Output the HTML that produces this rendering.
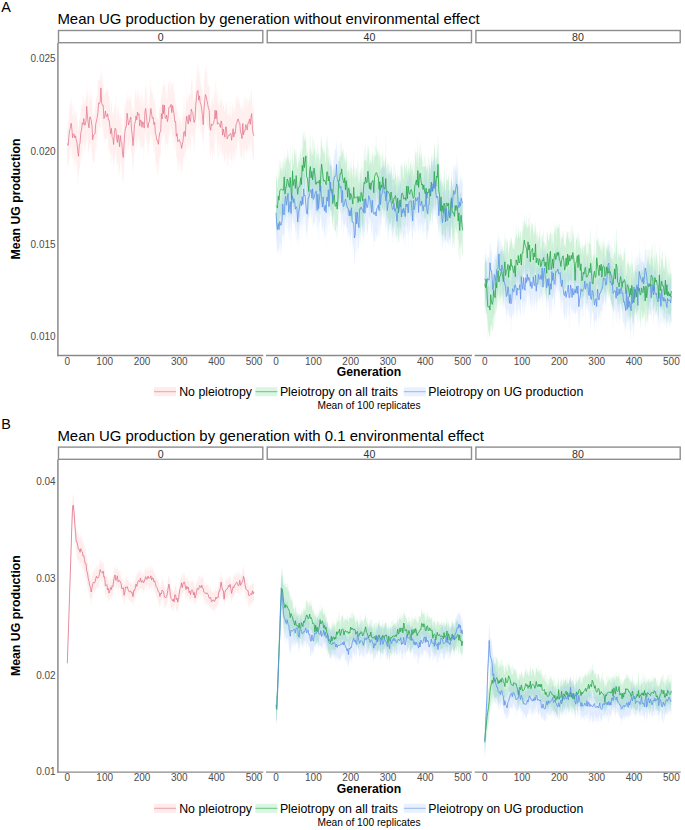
<!DOCTYPE html>
<html><head><meta charset="utf-8"><style>
html,body{margin:0;padding:0;background:#fff;}
body{width:685px;height:830px;overflow:hidden;}
svg{display:block;}
</style></head><body>
<svg width="685" height="830" viewBox="0 0 685 830">
<rect width="685" height="830" fill="#fff"/>
<path d="M67.3,119.3 L68.1,123.6 L68.8,115.4 L69.6,108.0 L70.3,99.1 L71.1,101.2 L71.8,106.2 L72.6,107.1 L73.3,99.4 L74.1,111.6 L74.8,110.8 L75.5,113.7 L76.3,114.2 L77.0,116.2 L77.8,129.6 L78.5,127.4 L79.3,118.7 L80.0,121.0 L80.8,109.2 L81.5,107.4 L82.3,96.1 L83.0,96.3 L83.8,95.3 L84.5,99.8 L85.2,101.8 L86.0,99.6 L86.7,75.1 L87.5,95.1 L88.2,91.6 L89.0,102.0 L89.7,93.4 L90.5,81.1 L91.2,98.3 L92.0,103.4 L92.7,117.0 L93.5,110.4 L94.2,110.1 L95.0,105.5 L95.7,100.8 L96.4,95.8 L97.2,95.1 L97.9,82.4 L98.7,79.6 L99.4,81.0 L100.2,79.6 L100.9,63.2 L101.7,77.9 L102.4,71.9 L103.2,80.3 L103.9,95.3 L104.7,93.7 L105.4,86.7 L106.2,90.0 L106.9,93.4 L107.6,87.8 L108.4,95.3 L109.1,96.8 L109.9,94.5 L110.6,108.4 L111.4,98.6 L112.1,107.9 L112.9,114.4 L113.6,112.0 L114.4,105.1 L115.1,105.5 L115.9,90.4 L116.6,113.8 L117.4,110.3 L118.1,104.1 L118.8,112.9 L119.6,116.3 L120.3,111.4 L121.1,117.9 L121.8,108.7 L122.6,121.5 L123.3,135.0 L124.1,120.5 L124.8,102.8 L125.6,100.6 L126.3,102.4 L127.1,88.8 L127.8,96.3 L128.5,96.4 L129.3,95.1 L130.0,98.0 L130.8,90.3 L131.5,103.7 L132.3,106.6 L133.0,121.3 L133.8,112.3 L134.5,100.4 L135.3,93.4 L136.0,82.8 L136.8,94.3 L137.5,90.0 L138.3,91.3 L139.0,80.4 L139.7,102.0 L140.5,94.1 L141.2,93.2 L142.0,89.9 L142.7,97.8 L143.5,95.2 L144.2,103.9 L145.0,85.5 L145.7,86.8 L146.5,89.3 L147.2,83.3 L148.0,105.2 L148.7,97.6 L149.5,94.9 L150.2,80.5 L150.9,78.8 L151.7,90.8 L152.4,94.7 L153.2,90.3 L153.9,99.2 L154.7,100.4 L155.4,105.7 L156.2,100.3 L156.9,117.7 L157.7,118.6 L158.4,121.3 L159.2,105.1 L159.9,110.4 L160.7,99.6 L161.4,85.3 L162.1,96.0 L162.9,81.7 L163.6,86.8 L164.4,76.2 L165.1,85.4 L165.9,90.6 L166.6,91.2 L167.4,95.5 L168.1,85.8 L168.9,78.7 L169.6,81.5 L170.4,81.9 L171.1,79.4 L171.8,83.8 L172.6,82.3 L173.3,80.2 L174.1,86.5 L174.8,94.2 L175.6,98.6 L176.3,109.8 L177.1,107.3 L177.8,118.3 L178.6,112.5 L179.3,117.6 L180.1,118.0 L180.8,115.3 L181.6,122.4 L182.3,120.1 L183.0,110.8 L183.8,94.6 L184.5,95.9 L185.3,114.4 L186.0,98.6 L186.8,83.8 L187.5,99.0 L188.3,95.6 L189.0,92.3 L189.8,96.0 L190.5,94.3 L191.3,76.0 L192.0,79.9 L192.8,86.3 L193.5,92.3 L194.2,99.9 L195.0,95.9 L195.7,79.6 L196.5,72.9 L197.2,66.2 L198.0,62.5 L198.7,76.2 L199.5,67.1 L200.2,73.0 L201.0,83.0 L201.7,82.5 L202.5,91.5 L203.2,101.6 L203.9,83.7 L204.7,68.5 L205.4,65.7 L206.2,72.0 L206.9,60.8 L207.7,76.1 L208.4,85.3 L209.2,83.8 L209.9,91.6 L210.7,107.1 L211.4,100.0 L212.2,95.6 L212.9,99.4 L213.7,96.1 L214.4,94.3 L215.1,75.1 L215.9,85.2 L216.6,85.2 L217.4,97.7 L218.1,87.0 L218.9,97.3 L219.6,102.3 L220.4,102.9 L221.1,94.6 L221.9,99.6 L222.6,101.8 L223.4,104.8 L224.1,106.9 L224.9,113.2 L225.6,101.3 L226.3,102.9 L227.1,101.3 L227.8,107.2 L228.6,111.9 L229.3,106.2 L230.1,98.3 L230.8,111.9 L231.6,106.1 L232.3,106.8 L233.1,98.7 L233.8,112.0 L234.6,110.6 L235.3,97.6 L236.1,100.0 L236.8,91.2 L237.5,95.9 L238.3,96.5 L239.0,98.9 L239.8,101.1 L240.5,106.6 L241.3,108.2 L242.0,105.2 L242.8,101.7 L243.5,100.2 L244.3,95.6 L245.0,100.0 L245.8,98.0 L246.5,100.2 L247.2,98.3 L248.0,100.8 L248.7,100.9 L249.5,95.3 L250.2,102.2 L251.0,92.5 L251.7,91.4 L252.5,100.5 L253.2,109.3 L254.0,98.3 L254.0,160.5 L253.2,157.8 L252.5,156.0 L251.7,141.9 L251.0,151.2 L250.2,148.6 L249.5,154.7 L248.7,147.5 L248.0,147.1 L247.2,154.1 L246.5,153.9 L245.8,149.4 L245.0,155.3 L244.3,159.8 L243.5,162.6 L242.8,145.6 L242.0,161.3 L241.3,157.4 L240.5,156.0 L239.8,152.2 L239.0,148.3 L238.3,141.1 L237.5,141.3 L236.8,152.3 L236.1,146.6 L235.3,162.0 L234.6,157.8 L233.8,158.9 L233.1,161.3 L232.3,162.7 L231.6,168.3 L230.8,157.9 L230.1,161.6 L229.3,158.8 L228.6,163.6 L227.8,166.1 L227.1,165.1 L226.3,164.3 L225.6,155.9 L224.9,159.3 L224.1,159.9 L223.4,153.8 L222.6,157.3 L221.9,150.3 L221.1,148.1 L220.4,153.8 L219.6,153.6 L218.9,158.6 L218.1,156.3 L217.4,158.7 L216.6,134.5 L215.9,146.0 L215.1,137.6 L214.4,157.0 L213.7,148.1 L212.9,154.5 L212.2,153.4 L211.4,147.3 L210.7,159.7 L209.9,152.2 L209.2,135.9 L208.4,129.5 L207.7,126.4 L206.9,125.1 L206.2,121.6 L205.4,116.3 L204.7,125.4 L203.9,136.3 L203.2,151.3 L202.5,140.1 L201.7,133.9 L201.0,134.7 L200.2,130.7 L199.5,120.0 L198.7,131.0 L198.0,112.6 L197.2,121.7 L196.5,126.2 L195.7,131.6 L195.0,149.0 L194.2,153.8 L193.5,149.1 L192.8,135.5 L192.0,138.1 L191.3,133.9 L190.5,150.5 L189.8,142.9 L189.0,137.3 L188.3,150.5 L187.5,149.3 L186.8,152.6 L186.0,147.0 L185.3,161.5 L184.5,153.3 L183.8,158.7 L183.0,164.4 L182.3,171.1 L181.6,171.3 L180.8,174.7 L180.1,164.0 L179.3,168.7 L178.6,171.4 L177.8,174.1 L177.1,155.9 L176.3,158.8 L175.6,148.4 L174.8,144.9 L174.1,150.3 L173.3,147.2 L172.6,135.1 L171.8,141.6 L171.1,127.2 L170.4,136.1 L169.6,132.8 L168.9,130.8 L168.1,146.5 L167.4,149.5 L166.6,136.9 L165.9,148.1 L165.1,140.1 L164.4,127.6 L163.6,137.4 L162.9,128.4 L162.1,143.5 L161.4,140.5 L160.7,156.3 L159.9,154.6 L159.2,164.2 L158.4,178.4 L157.7,163.2 L156.9,163.8 L156.2,162.6 L155.4,170.0 L154.7,150.0 L153.9,153.9 L153.2,144.7 L152.4,142.2 L151.7,145.4 L150.9,130.7 L150.2,135.7 L149.5,144.8 L148.7,156.8 L148.0,152.7 L147.2,154.3 L146.5,140.1 L145.7,130.7 L145.0,136.5 L144.2,155.1 L143.5,162.1 L142.7,144.4 L142.0,153.1 L141.2,149.0 L140.5,144.9 L139.7,155.9 L139.0,137.1 L138.3,146.8 L137.5,139.2 L136.8,149.7 L136.0,141.5 L135.3,148.1 L134.5,152.3 L133.8,158.2 L133.0,171.2 L132.3,162.9 L131.5,154.2 L130.8,151.1 L130.0,142.9 L129.3,144.8 L128.5,149.5 L127.8,150.4 L127.1,149.5 L126.3,151.9 L125.6,155.3 L124.8,161.7 L124.1,165.6 L123.3,182.3 L122.6,183.9 L121.8,169.6 L121.1,168.8 L120.3,160.5 L119.6,175.4 L118.8,178.5 L118.1,163.3 L117.4,164.2 L116.6,164.7 L115.9,155.2 L115.1,154.3 L114.4,155.5 L113.6,171.2 L112.9,159.8 L112.1,160.2 L111.4,161.9 L110.6,163.9 L109.9,149.0 L109.1,152.9 L108.4,151.0 L107.6,136.9 L106.9,140.2 L106.2,138.9 L105.4,142.8 L104.7,141.7 L103.9,143.0 L103.2,129.7 L102.4,135.5 L101.7,125.3 L100.9,113.9 L100.2,124.5 L99.4,127.7 L98.7,125.2 L97.9,138.9 L97.2,152.8 L96.4,147.4 L95.7,148.9 L95.0,164.0 L94.2,162.4 L93.5,161.9 L92.7,172.0 L92.0,149.0 L91.2,153.2 L90.5,141.0 L89.7,141.3 L89.0,154.0 L88.2,154.7 L87.5,141.4 L86.7,142.4 L86.0,149.3 L85.2,150.4 L84.5,151.5 L83.8,142.2 L83.0,151.4 L82.3,155.5 L81.5,161.7 L80.8,158.4 L80.0,169.5 L79.3,169.9 L78.5,182.6 L77.8,186.9 L77.0,175.0 L76.3,165.2 L75.5,157.9 L74.8,164.1 L74.1,166.6 L73.3,156.6 L72.6,161.2 L71.8,156.1 L71.1,146.3 L70.3,157.9 L69.6,156.9 L68.8,163.0 L68.1,168.7 L67.3,165.7Z" fill="#F8766D" fill-opacity="0.05"/>
<path d="M67.3,127.2 L68.1,129.1 L68.8,119.6 L69.6,101.6 L70.3,111.0 L71.1,91.7 L71.8,109.5 L72.6,116.7 L73.3,113.1 L74.1,116.6 L74.8,119.9 L75.5,109.7 L76.3,111.8 L77.0,119.5 L77.8,121.3 L78.5,133.5 L79.3,117.5 L80.0,119.9 L80.8,112.0 L81.5,104.7 L82.3,104.7 L83.0,106.3 L83.8,102.1 L84.5,105.3 L85.2,96.7 L86.0,103.9 L86.7,89.4 L87.5,94.3 L88.2,102.5 L89.0,110.2 L89.7,95.3 L90.5,100.9 L91.2,92.3 L92.0,96.2 L92.7,121.6 L93.5,112.8 L94.2,115.9 L95.0,112.4 L95.7,106.4 L96.4,95.6 L97.2,100.5 L97.9,79.4 L98.7,78.8 L99.4,79.8 L100.2,80.1 L100.9,69.1 L101.7,80.4 L102.4,83.4 L103.2,84.3 L103.9,96.4 L104.7,95.2 L105.4,92.3 L106.2,92.3 L106.9,89.9 L107.6,92.9 L108.4,88.3 L109.1,98.6 L109.9,106.3 L110.6,114.4 L111.4,99.3 L112.1,112.4 L112.9,113.5 L113.6,122.5 L114.4,109.2 L115.1,106.9 L115.9,107.0 L116.6,121.2 L117.4,115.2 L118.1,108.5 L118.8,106.1 L119.6,123.0 L120.3,117.8 L121.1,123.8 L121.8,125.4 L122.6,136.4 L123.3,139.9 L124.1,119.8 L124.8,102.2 L125.6,111.0 L126.3,106.0 L127.1,96.3 L127.8,101.1 L128.5,102.6 L129.3,101.7 L130.0,98.4 L130.8,98.6 L131.5,108.6 L132.3,105.5 L133.0,113.6 L133.8,109.8 L134.5,106.4 L135.3,88.5 L136.0,94.4 L136.8,102.4 L137.5,94.5 L138.3,95.3 L139.0,96.4 L139.7,106.3 L140.5,98.7 L141.2,102.0 L142.0,108.2 L142.7,97.3 L143.5,106.7 L144.2,105.9 L145.0,94.1 L145.7,85.2 L146.5,97.6 L147.2,104.7 L148.0,109.2 L148.7,106.6 L149.5,104.4 L150.2,95.8 L150.9,87.0 L151.7,91.0 L152.4,93.0 L153.2,101.1 L153.9,103.3 L154.7,102.9 L155.4,112.9 L156.2,118.5 L156.9,119.4 L157.7,116.5 L158.4,122.8 L159.2,104.2 L159.9,111.1 L160.7,101.4 L161.4,97.4 L162.1,95.5 L162.9,84.2 L163.6,88.5 L164.4,83.8 L165.1,89.2 L165.9,100.3 L166.6,99.1 L167.4,98.3 L168.1,84.9 L168.9,82.5 L169.6,89.6 L170.4,88.5 L171.1,84.0 L171.8,92.3 L172.6,82.2 L173.3,93.1 L174.1,91.9 L174.8,105.3 L175.6,104.9 L176.3,103.9 L177.1,111.6 L177.8,124.9 L178.6,123.5 L179.3,120.6 L180.1,118.8 L180.8,123.9 L181.6,126.6 L182.3,117.3 L183.0,118.4 L183.8,112.2 L184.5,115.2 L185.3,113.4 L186.0,103.2 L186.8,99.9 L187.5,101.9 L188.3,103.8 L189.0,96.9 L189.8,92.0 L190.5,97.6 L191.3,81.8 L192.0,80.2 L192.8,94.2 L193.5,101.7 L194.2,103.8 L195.0,97.4 L195.7,89.1 L196.5,80.9 L197.2,74.7 L198.0,61.2 L198.7,83.3 L199.5,73.9 L200.2,82.7 L201.0,87.2 L201.7,88.8 L202.5,93.3 L203.2,105.2 L203.9,87.8 L204.7,77.1 L205.4,70.6 L206.2,70.5 L206.9,83.1 L207.7,87.2 L208.4,85.9 L209.2,84.8 L209.9,110.1 L210.7,110.6 L211.4,105.6 L212.2,97.4 L212.9,102.2 L213.7,106.3 L214.4,97.2 L215.1,87.3 L215.9,102.2 L216.6,93.4 L217.4,102.3 L218.1,104.0 L218.9,105.6 L219.6,105.0 L220.4,99.3 L221.1,104.7 L221.9,97.1 L222.6,113.2 L223.4,102.8 L224.1,109.3 L224.9,112.0 L225.6,109.5 L226.3,100.2 L227.1,118.5 L227.8,112.5 L228.6,116.8 L229.3,114.9 L230.1,115.4 L230.8,115.6 L231.6,119.8 L232.3,110.4 L233.1,104.2 L233.8,112.8 L234.6,107.2 L235.3,112.6 L236.1,97.3 L236.8,106.5 L237.5,101.4 L238.3,100.2 L239.0,100.3 L239.8,104.7 L240.5,109.5 L241.3,108.0 L242.0,117.9 L242.8,105.9 L243.5,112.2 L244.3,107.6 L245.0,112.5 L245.8,91.3 L246.5,105.8 L247.2,110.8 L248.0,99.9 L248.7,105.5 L249.5,94.6 L250.2,105.0 L251.0,93.2 L251.7,83.4 L252.5,110.6 L253.2,108.8 L254.0,118.2 L254.0,163.7 L253.2,157.7 L252.5,154.3 L251.7,148.5 L251.0,138.2 L250.2,142.2 L249.5,145.4 L248.7,144.5 L248.0,151.3 L247.2,149.5 L246.5,154.0 L245.8,149.1 L245.0,148.3 L244.3,149.8 L243.5,155.9 L242.8,142.4 L242.0,157.4 L241.3,157.1 L240.5,154.3 L239.8,145.2 L239.0,139.9 L238.3,135.1 L237.5,141.5 L236.8,158.0 L236.1,147.2 L235.3,150.0 L234.6,150.7 L233.8,159.5 L233.1,148.8 L232.3,155.2 L231.6,161.6 L230.8,153.1 L230.1,153.4 L229.3,154.0 L228.6,158.6 L227.8,153.7 L227.1,158.8 L226.3,149.4 L225.6,152.4 L224.9,161.9 L224.1,163.1 L223.4,146.8 L222.6,156.2 L221.9,156.0 L221.1,137.5 L220.4,151.9 L219.6,142.8 L218.9,142.6 L218.1,143.6 L217.4,150.5 L216.6,127.4 L215.9,136.3 L215.1,127.4 L214.4,142.7 L213.7,149.4 L212.9,159.0 L212.2,161.1 L211.4,144.8 L210.7,156.8 L209.9,154.2 L209.2,136.6 L208.4,126.1 L207.7,126.3 L206.9,128.0 L206.2,117.5 L205.4,117.1 L204.7,123.0 L203.9,136.2 L203.2,143.9 L202.5,132.3 L201.7,132.0 L201.0,121.8 L200.2,128.5 L199.5,114.9 L198.7,128.3 L198.0,109.2 L197.2,111.4 L196.5,117.1 L195.7,123.4 L195.0,137.1 L194.2,144.1 L193.5,137.5 L192.8,133.5 L192.0,132.5 L191.3,128.5 L190.5,154.2 L189.8,147.0 L189.0,139.3 L188.3,148.0 L187.5,143.7 L186.8,133.7 L186.0,143.0 L185.3,163.9 L184.5,148.3 L183.8,157.2 L183.0,158.8 L182.3,169.4 L181.6,170.8 L180.8,161.6 L180.1,163.6 L179.3,164.1 L178.6,156.9 L177.8,166.8 L177.1,163.1 L176.3,153.1 L175.6,138.8 L174.8,144.7 L174.1,131.2 L173.3,137.4 L172.6,137.0 L171.8,129.9 L171.1,128.8 L170.4,123.1 L169.6,133.4 L168.9,134.7 L168.1,144.4 L167.4,144.1 L166.6,143.8 L165.9,139.5 L165.1,153.4 L164.4,138.8 L163.6,134.9 L162.9,125.1 L162.1,143.0 L161.4,130.7 L160.7,154.3 L159.9,156.9 L159.2,158.8 L158.4,168.2 L157.7,174.8 L156.9,171.8 L156.2,162.7 L155.4,155.0 L154.7,140.3 L153.9,155.5 L153.2,137.4 L152.4,137.3 L151.7,132.8 L150.9,136.8 L150.2,134.0 L149.5,141.6 L148.7,143.5 L148.0,147.7 L147.2,144.0 L146.5,139.1 L145.7,134.1 L145.0,129.5 L144.2,146.5 L143.5,148.3 L142.7,145.8 L142.0,145.6 L141.2,148.8 L140.5,138.2 L139.7,143.7 L139.0,136.3 L138.3,135.8 L137.5,138.5 L136.8,150.0 L136.0,134.7 L135.3,139.3 L134.5,152.0 L133.8,161.5 L133.0,174.7 L132.3,155.2 L131.5,154.2 L130.8,142.2 L130.0,140.9 L129.3,138.6 L128.5,150.0 L127.8,140.0 L127.1,131.9 L126.3,145.9 L125.6,149.2 L124.8,151.2 L124.1,161.3 L123.3,182.0 L122.6,179.7 L121.8,165.4 L121.1,161.2 L120.3,160.5 L119.6,167.8 L118.8,173.8 L118.1,157.0 L117.4,169.7 L116.6,155.6 L115.9,145.9 L115.1,156.8 L114.4,159.3 L113.6,170.4 L112.9,155.4 L112.1,154.6 L111.4,155.2 L110.6,151.4 L109.9,148.0 L109.1,154.0 L108.4,137.2 L107.6,134.2 L106.9,137.0 L106.2,139.9 L105.4,138.1 L104.7,138.7 L103.9,135.0 L103.2,127.0 L102.4,122.5 L101.7,125.7 L100.9,105.7 L100.2,130.1 L99.4,130.9 L98.7,119.1 L97.9,132.2 L97.2,134.5 L96.4,137.9 L95.7,141.7 L95.0,150.6 L94.2,157.4 L93.5,163.0 L92.7,159.8 L92.0,150.7 L91.2,142.4 L90.5,144.4 L89.7,143.2 L89.0,152.1 L88.2,149.0 L87.5,134.3 L86.7,132.9 L86.0,144.6 L85.2,144.0 L84.5,151.0 L83.8,138.6 L83.0,144.1 L82.3,142.6 L81.5,150.5 L80.8,150.8 L80.0,168.2 L79.3,166.8 L78.5,177.4 L77.8,168.5 L77.0,159.3 L76.3,165.7 L75.5,156.7 L74.8,173.5 L74.1,150.8 L73.3,152.4 L72.6,158.2 L71.8,149.5 L71.1,140.5 L70.3,151.0 L69.6,149.7 L68.8,159.2 L68.1,166.4 L67.3,162.6Z" fill="#F8766D" fill-opacity="0.065"/>
<path d="M276.0,166.5 L276.8,180.9 L277.5,180.0 L278.3,170.2 L279.0,164.8 L279.8,157.1 L280.5,162.8 L281.3,161.7 L282.0,166.2 L282.8,158.4 L283.5,163.5 L284.2,150.0 L285.0,166.4 L285.7,156.8 L286.5,161.1 L287.2,148.5 L288.0,149.3 L288.7,159.3 L289.5,164.2 L290.2,143.8 L291.0,165.8 L291.7,170.6 L292.5,142.2 L293.2,161.6 L293.9,151.7 L294.7,148.9 L295.4,159.6 L296.2,147.9 L296.9,153.5 L297.7,169.1 L298.4,162.1 L299.2,163.4 L299.9,157.1 L300.7,151.3 L301.4,160.3 L302.2,130.2 L302.9,136.3 L303.7,132.3 L304.4,131.7 L305.1,138.8 L305.9,129.9 L306.6,146.8 L307.4,152.7 L308.1,142.1 L308.9,166.7 L309.6,138.3 L310.4,133.1 L311.1,151.6 L311.9,145.9 L312.6,133.0 L313.4,142.6 L314.1,138.6 L314.9,145.5 L315.6,153.3 L316.3,147.8 L317.1,158.3 L317.8,152.4 L318.6,154.1 L319.3,154.4 L320.1,159.9 L320.8,149.6 L321.6,130.5 L322.3,142.8 L323.1,153.6 L323.8,151.9 L324.6,153.7 L325.3,155.4 L326.1,149.1 L326.8,140.2 L327.5,134.8 L328.3,145.9 L329.0,151.5 L329.8,155.3 L330.5,162.3 L331.3,157.9 L332.0,163.7 L332.8,179.5 L333.5,168.2 L334.3,166.6 L335.0,173.0 L335.8,175.6 L336.5,170.3 L337.2,183.2 L338.0,170.9 L338.7,154.1 L339.5,156.8 L340.2,143.8 L341.0,141.0 L341.7,145.1 L342.5,153.2 L343.2,148.7 L344.0,158.3 L344.7,154.5 L345.5,163.6 L346.2,154.5 L347.0,153.8 L347.7,173.9 L348.4,161.5 L349.2,164.1 L349.9,168.1 L350.7,160.9 L351.4,160.3 L352.2,174.4 L352.9,177.5 L353.7,147.3 L354.4,170.3 L355.2,167.9 L355.9,168.2 L356.7,167.3 L357.4,162.0 L358.2,158.6 L358.9,170.8 L359.6,172.2 L360.4,174.2 L361.1,155.0 L361.9,169.6 L362.6,168.1 L363.4,159.6 L364.1,148.4 L364.9,149.3 L365.6,142.3 L366.4,155.3 L367.1,157.7 L367.9,146.9 L368.6,148.3 L369.4,153.4 L370.1,154.7 L370.8,162.8 L371.6,156.8 L372.3,149.6 L373.1,153.6 L373.8,163.9 L374.6,144.3 L375.3,147.6 L376.1,132.3 L376.8,145.9 L377.6,152.7 L378.3,146.8 L379.1,158.8 L379.8,153.8 L380.5,154.5 L381.3,157.9 L382.0,155.2 L382.8,147.3 L383.5,158.8 L384.3,163.0 L385.0,159.5 L385.8,130.4 L386.5,167.6 L387.3,162.2 L388.0,161.6 L388.8,164.8 L389.5,162.7 L390.3,172.7 L391.0,160.3 L391.7,168.0 L392.5,178.7 L393.2,171.8 L394.0,163.7 L394.7,164.0 L395.5,169.0 L396.2,177.6 L397.0,177.4 L397.7,166.8 L398.5,187.2 L399.2,180.4 L400.0,165.4 L400.7,165.7 L401.5,161.8 L402.2,168.3 L402.9,162.4 L403.7,173.0 L404.4,161.0 L405.2,168.4 L405.9,171.5 L406.7,162.5 L407.4,171.8 L408.2,155.9 L408.9,161.3 L409.7,169.0 L410.4,164.1 L411.2,159.7 L411.9,164.5 L412.6,164.7 L413.4,160.1 L414.1,169.1 L414.9,146.5 L415.6,151.5 L416.4,152.2 L417.1,152.6 L417.9,137.0 L418.6,163.1 L419.4,148.5 L420.1,140.1 L420.9,147.2 L421.6,155.8 L422.4,160.1 L423.1,163.5 L423.8,157.1 L424.6,154.4 L425.3,157.9 L426.1,160.6 L426.8,171.9 L427.6,160.8 L428.3,156.3 L429.1,155.0 L429.8,164.6 L430.6,170.4 L431.3,150.2 L432.1,164.4 L432.8,152.7 L433.6,161.1 L434.3,143.9 L435.0,149.6 L435.8,159.8 L436.5,152.8 L437.3,149.6 L438.0,128.9 L438.8,159.0 L439.5,167.5 L440.3,186.5 L441.0,171.1 L441.8,183.6 L442.5,181.0 L443.3,188.2 L444.0,172.1 L444.8,166.2 L445.5,194.6 L446.2,172.7 L447.0,174.8 L447.7,181.0 L448.5,170.3 L449.2,184.1 L450.0,194.1 L450.7,180.3 L451.5,169.6 L452.2,185.4 L453.0,188.3 L453.7,181.6 L454.5,193.0 L455.2,167.5 L455.9,182.2 L456.7,173.3 L457.4,172.4 L458.2,186.1 L458.9,183.4 L459.7,191.4 L460.4,195.4 L461.2,190.2 L461.9,199.6 L462.7,202.5 L462.7,259.1 L461.9,247.5 L461.2,238.3 L460.4,260.6 L459.7,260.5 L458.9,256.1 L458.2,255.1 L457.4,232.9 L456.7,232.4 L455.9,234.3 L455.2,230.9 L454.5,250.3 L453.7,241.9 L453.0,248.5 L452.2,246.5 L451.5,227.9 L450.7,227.8 L450.0,248.3 L449.2,239.1 L448.5,231.1 L447.7,234.8 L447.0,226.8 L446.2,231.1 L445.5,253.7 L444.8,235.6 L444.0,234.0 L443.3,244.8 L442.5,232.4 L441.8,238.7 L441.0,222.0 L440.3,247.6 L439.5,225.7 L438.8,230.4 L438.0,191.1 L437.3,212.0 L436.5,201.2 L435.8,210.4 L435.0,210.7 L434.3,204.3 L433.6,216.3 L432.8,213.5 L432.1,231.3 L431.3,210.0 L430.6,221.3 L429.8,216.9 L429.1,212.2 L428.3,218.0 L427.6,227.7 L426.8,239.5 L426.1,225.8 L425.3,219.6 L424.6,217.5 L423.8,219.1 L423.1,214.4 L422.4,221.6 L421.6,217.4 L420.9,212.6 L420.1,199.9 L419.4,207.5 L418.6,214.4 L417.9,202.0 L417.1,218.5 L416.4,211.7 L415.6,213.9 L414.9,209.9 L414.1,220.8 L413.4,226.0 L412.6,222.8 L411.9,230.5 L411.2,212.6 L410.4,216.9 L409.7,219.6 L408.9,227.3 L408.2,210.1 L407.4,235.1 L406.7,209.1 L405.9,223.9 L405.2,226.4 L404.4,227.8 L403.7,226.5 L402.9,227.3 L402.2,222.9 L401.5,233.0 L400.7,233.6 L400.0,225.1 L399.2,234.8 L398.5,245.3 L397.7,222.9 L397.0,233.9 L396.2,234.9 L395.5,224.0 L394.7,227.5 L394.0,228.5 L393.2,237.4 L392.5,226.5 L391.7,222.3 L391.0,216.6 L390.3,224.8 L389.5,227.4 L388.8,232.8 L388.0,222.2 L387.3,218.5 L386.5,229.0 L385.8,205.6 L385.0,216.3 L384.3,218.1 L383.5,209.4 L382.8,207.6 L382.0,216.2 L381.3,215.5 L380.5,219.0 L379.8,205.3 L379.1,217.6 L378.3,206.0 L377.6,200.0 L376.8,208.0 L376.1,198.4 L375.3,206.9 L374.6,210.3 L373.8,217.0 L373.1,206.5 L372.3,212.8 L371.6,213.7 L370.8,214.9 L370.1,214.8 L369.4,218.1 L368.6,206.8 L367.9,197.0 L367.1,207.2 L366.4,212.6 L365.6,212.4 L364.9,218.2 L364.1,226.1 L363.4,234.5 L362.6,236.9 L361.9,223.3 L361.1,221.0 L360.4,246.2 L359.6,236.2 L358.9,224.3 L358.2,239.0 L357.4,225.7 L356.7,225.9 L355.9,224.7 L355.2,224.0 L354.4,222.6 L353.7,210.6 L352.9,227.8 L352.2,225.9 L351.4,219.5 L350.7,222.1 L349.9,227.4 L349.2,219.3 L348.4,213.7 L347.7,234.4 L347.0,215.9 L346.2,205.7 L345.5,214.4 L344.7,208.5 L344.0,212.6 L343.2,209.0 L342.5,215.5 L341.7,201.7 L341.0,215.0 L340.2,201.5 L339.5,212.1 L338.7,207.5 L338.0,222.4 L337.2,240.3 L336.5,236.8 L335.8,229.6 L335.0,230.3 L334.3,231.4 L333.5,227.1 L332.8,229.1 L332.0,216.6 L331.3,216.2 L330.5,215.2 L329.8,208.8 L329.0,207.0 L328.3,209.2 L327.5,197.9 L326.8,198.2 L326.1,213.7 L325.3,206.2 L324.6,214.3 L323.8,210.3 L323.1,211.3 L322.3,207.7 L321.6,187.1 L320.8,200.7 L320.1,222.7 L319.3,208.2 L318.6,215.0 L317.8,207.5 L317.1,205.1 L316.3,216.6 L315.6,217.7 L314.9,204.1 L314.1,194.5 L313.4,203.6 L312.6,208.8 L311.9,200.1 L311.1,214.0 L310.4,192.9 L309.6,201.7 L308.9,221.2 L308.1,213.9 L307.4,222.4 L306.6,204.9 L305.9,179.2 L305.1,192.7 L304.4,191.7 L303.7,185.9 L302.9,195.3 L302.2,193.2 L301.4,208.6 L300.7,208.9 L299.9,220.6 L299.2,231.1 L298.4,219.6 L297.7,229.9 L296.9,215.4 L296.2,204.5 L295.4,216.6 L294.7,210.5 L293.9,204.6 L293.2,214.8 L292.5,201.6 L291.7,230.6 L291.0,219.5 L290.2,206.2 L289.5,214.0 L288.7,217.9 L288.0,209.4 L287.2,214.7 L286.5,211.1 L285.7,213.2 L285.0,227.1 L284.2,214.0 L283.5,217.1 L282.8,221.9 L282.0,221.3 L281.3,220.5 L280.5,218.4 L279.8,220.1 L279.0,231.5 L278.3,224.6 L277.5,241.0 L276.8,231.0 L276.0,229.1Z" fill="#00BA38" fill-opacity="0.07"/>
<path d="M276.0,174.1 L276.8,180.1 L277.5,190.1 L278.3,177.4 L279.0,178.7 L279.8,172.6 L280.5,167.5 L281.3,168.4 L282.0,172.3 L282.8,168.0 L283.5,167.9 L284.2,158.8 L285.0,176.0 L285.7,162.1 L286.5,156.4 L287.2,160.9 L288.0,152.7 L288.7,160.1 L289.5,164.3 L290.2,156.4 L291.0,172.5 L291.7,180.7 L292.5,152.4 L293.2,163.9 L293.9,163.9 L294.7,146.0 L295.4,153.5 L296.2,158.1 L296.9,165.3 L297.7,169.0 L298.4,159.5 L299.2,153.1 L299.9,166.1 L300.7,144.2 L301.4,163.2 L302.2,147.7 L302.9,150.4 L303.7,135.2 L304.4,141.1 L305.1,141.6 L305.9,137.8 L306.6,158.5 L307.4,150.2 L308.1,160.9 L308.9,166.5 L309.6,148.7 L310.4,146.8 L311.1,155.9 L311.9,151.2 L312.6,155.3 L313.4,154.5 L314.1,147.7 L314.9,149.9 L315.6,167.0 L316.3,150.7 L317.1,164.0 L317.8,140.3 L318.6,158.0 L319.3,159.3 L320.1,170.3 L320.8,136.1 L321.6,145.9 L322.3,150.2 L323.1,145.7 L323.8,153.4 L324.6,147.9 L325.3,162.6 L326.1,161.9 L326.8,134.7 L327.5,153.8 L328.3,161.2 L329.0,153.8 L329.8,165.4 L330.5,164.2 L331.3,166.0 L332.0,166.6 L332.8,181.8 L333.5,172.5 L334.3,168.9 L335.0,188.1 L335.8,178.7 L336.5,174.0 L337.2,181.3 L338.0,176.1 L338.7,162.5 L339.5,160.1 L340.2,156.2 L341.0,156.7 L341.7,149.2 L342.5,154.8 L343.2,146.2 L344.0,164.2 L344.7,155.9 L345.5,162.5 L346.2,157.8 L347.0,165.3 L347.7,174.3 L348.4,169.1 L349.2,171.9 L349.9,180.3 L350.7,167.6 L351.4,167.9 L352.2,179.3 L352.9,167.3 L353.7,164.1 L354.4,180.0 L355.2,173.8 L355.9,178.7 L356.7,168.9 L357.4,172.2 L358.2,184.7 L358.9,176.6 L359.6,183.1 L360.4,176.6 L361.1,167.5 L361.9,175.3 L362.6,183.6 L363.4,171.8 L364.1,161.1 L364.9,159.4 L365.6,159.5 L366.4,161.8 L367.1,162.9 L367.9,142.9 L368.6,151.7 L369.4,165.5 L370.1,162.4 L370.8,160.0 L371.6,165.4 L372.3,157.0 L373.1,153.0 L373.8,167.8 L374.6,154.8 L375.3,156.2 L376.1,154.7 L376.8,148.1 L377.6,155.9 L378.3,151.7 L379.1,168.5 L379.8,148.9 L380.5,171.1 L381.3,166.2 L382.0,168.7 L382.8,154.2 L383.5,165.8 L384.3,171.1 L385.0,158.7 L385.8,156.7 L386.5,175.5 L387.3,172.1 L388.0,163.4 L388.8,175.2 L389.5,170.4 L390.3,175.3 L391.0,174.7 L391.7,165.9 L392.5,180.4 L393.2,179.1 L394.0,179.2 L394.7,179.2 L395.5,173.3 L396.2,176.6 L397.0,185.8 L397.7,177.2 L398.5,174.9 L399.2,191.0 L400.0,180.9 L400.7,184.4 L401.5,165.7 L402.2,166.5 L402.9,177.2 L403.7,179.6 L404.4,167.1 L405.2,160.5 L405.9,176.3 L406.7,160.6 L407.4,176.7 L408.2,166.2 L408.9,171.7 L409.7,177.1 L410.4,161.3 L411.2,167.5 L411.9,171.4 L412.6,168.6 L413.4,174.1 L414.1,176.0 L414.9,165.7 L415.6,152.1 L416.4,158.9 L417.1,167.5 L417.9,146.8 L418.6,167.6 L419.4,151.5 L420.1,155.4 L420.9,160.6 L421.6,151.7 L422.4,166.9 L423.1,167.3 L423.8,166.5 L424.6,167.1 L425.3,166.6 L426.1,165.5 L426.8,171.4 L427.6,166.3 L428.3,175.8 L429.1,164.0 L429.8,165.6 L430.6,177.4 L431.3,155.7 L432.1,169.3 L432.8,164.0 L433.6,168.3 L434.3,140.3 L435.0,165.5 L435.8,164.3 L436.5,157.9 L437.3,156.8 L438.0,139.8 L438.8,162.7 L439.5,172.2 L440.3,184.9 L441.0,171.6 L441.8,190.4 L442.5,179.1 L443.3,193.3 L444.0,174.0 L444.8,185.5 L445.5,201.1 L446.2,179.9 L447.0,179.8 L447.7,181.6 L448.5,174.6 L449.2,196.9 L450.0,200.5 L450.7,186.6 L451.5,177.5 L452.2,183.9 L453.0,192.6 L453.7,189.9 L454.5,189.3 L455.2,177.2 L455.9,190.8 L456.7,174.6 L457.4,184.6 L458.2,199.1 L458.9,195.7 L459.7,201.0 L460.4,191.3 L461.2,192.7 L461.9,202.3 L462.7,202.7 L462.7,255.1 L461.9,254.0 L461.2,240.7 L460.4,246.2 L459.7,250.2 L458.9,238.1 L458.2,241.3 L457.4,223.6 L456.7,231.9 L455.9,228.7 L455.2,226.3 L454.5,233.7 L453.7,245.3 L453.0,232.5 L452.2,241.5 L451.5,220.9 L450.7,228.9 L450.0,237.9 L449.2,238.9 L448.5,224.9 L447.7,225.4 L447.0,237.3 L446.2,223.8 L445.5,239.7 L444.8,241.4 L444.0,222.9 L443.3,232.8 L442.5,236.4 L441.8,235.2 L441.0,216.4 L440.3,228.6 L439.5,211.3 L438.8,216.2 L438.0,183.8 L437.3,199.3 L436.5,196.2 L435.8,206.3 L435.0,205.4 L434.3,191.4 L433.6,211.0 L432.8,205.6 L432.1,212.0 L431.3,213.7 L430.6,220.5 L429.8,225.5 L429.1,210.6 L428.3,216.3 L427.6,212.3 L426.8,218.4 L426.1,209.3 L425.3,219.1 L424.6,219.0 L423.8,208.3 L423.1,212.6 L422.4,203.8 L421.6,216.8 L420.9,208.5 L420.1,191.0 L419.4,198.0 L418.6,211.4 L417.9,191.0 L417.1,202.5 L416.4,207.7 L415.6,214.5 L414.9,206.4 L414.1,222.4 L413.4,218.5 L412.6,216.9 L411.9,209.0 L411.2,209.5 L410.4,218.5 L409.7,212.4 L408.9,211.8 L408.2,209.9 L407.4,218.4 L406.7,206.7 L405.9,219.9 L405.2,218.4 L404.4,216.7 L403.7,216.9 L402.9,211.7 L402.2,220.9 L401.5,214.3 L400.7,238.2 L400.0,224.4 L399.2,242.8 L398.5,241.4 L397.7,226.9 L397.0,229.1 L396.2,221.0 L395.5,212.9 L394.7,223.9 L394.0,216.6 L393.2,231.4 L392.5,238.0 L391.7,215.9 L391.0,221.2 L390.3,224.7 L389.5,223.8 L388.8,217.3 L388.0,221.7 L387.3,211.3 L386.5,219.0 L385.8,204.5 L385.0,211.7 L384.3,208.2 L383.5,222.1 L382.8,209.5 L382.0,208.0 L381.3,202.7 L380.5,214.7 L379.8,207.6 L379.1,218.1 L378.3,199.9 L377.6,198.6 L376.8,191.5 L376.1,192.6 L375.3,206.9 L374.6,196.4 L373.8,212.9 L373.1,197.7 L372.3,200.8 L371.6,207.3 L370.8,208.2 L370.1,205.2 L369.4,208.4 L368.6,208.1 L367.9,192.5 L367.1,200.4 L366.4,209.7 L365.6,207.1 L364.9,214.1 L364.1,207.5 L363.4,223.6 L362.6,227.4 L361.9,223.8 L361.1,212.0 L360.4,234.8 L359.6,225.3 L358.9,214.0 L358.2,221.0 L357.4,215.6 L356.7,218.9 L355.9,222.0 L355.2,223.0 L354.4,215.3 L353.7,212.9 L352.9,222.1 L352.2,220.5 L351.4,218.1 L350.7,215.9 L349.9,224.7 L349.2,207.3 L348.4,206.7 L347.7,214.9 L347.0,208.6 L346.2,207.7 L345.5,208.7 L344.7,197.9 L344.0,203.1 L343.2,214.8 L342.5,206.7 L341.7,192.5 L341.0,191.7 L340.2,193.7 L339.5,199.4 L338.7,198.4 L338.0,224.5 L337.2,228.6 L336.5,222.3 L335.8,231.6 L335.0,231.3 L334.3,215.2 L333.5,215.4 L332.8,223.8 L332.0,215.8 L331.3,208.3 L330.5,212.6 L329.8,200.5 L329.0,200.4 L328.3,217.2 L327.5,192.0 L326.8,189.9 L326.1,210.2 L325.3,205.3 L324.6,197.9 L323.8,207.0 L323.1,212.6 L322.3,190.5 L321.6,181.7 L320.8,201.2 L320.1,209.1 L319.3,197.5 L318.6,213.5 L317.8,213.9 L317.1,202.8 L316.3,203.2 L315.6,209.5 L314.9,197.6 L314.1,186.6 L313.4,199.0 L312.6,203.6 L311.9,196.3 L311.1,195.3 L310.4,184.9 L309.6,187.9 L308.9,216.5 L308.1,202.8 L307.4,195.8 L306.6,193.9 L305.9,173.9 L305.1,182.8 L304.4,192.6 L303.7,177.0 L302.9,189.7 L302.2,183.0 L301.4,201.9 L300.7,195.0 L299.9,217.3 L299.2,218.2 L298.4,208.7 L297.7,214.9 L296.9,208.4 L296.2,194.4 L295.4,212.7 L294.7,204.0 L293.9,210.7 L293.2,205.6 L292.5,194.2 L291.7,217.5 L291.0,209.6 L290.2,203.4 L289.5,210.5 L288.7,219.0 L288.0,200.9 L287.2,199.9 L286.5,205.5 L285.7,217.1 L285.0,216.6 L284.2,194.9 L283.5,215.5 L282.8,209.5 L282.0,217.4 L281.3,215.4 L280.5,215.0 L279.8,212.7 L279.0,226.1 L278.3,224.1 L277.5,230.0 L276.8,231.9 L276.0,223.3Z" fill="#00BA38" fill-opacity="0.13"/>
<path d="M276.0,178.2 L276.8,194.5 L277.5,203.0 L278.3,196.2 L279.0,201.0 L279.8,190.5 L280.5,203.1 L281.3,202.6 L282.0,192.7 L282.8,181.5 L283.5,187.5 L284.2,191.6 L285.0,170.4 L285.7,157.7 L286.5,181.5 L287.2,177.5 L288.0,169.6 L288.7,187.2 L289.5,180.3 L290.2,174.3 L291.0,191.5 L291.7,177.1 L292.5,166.4 L293.2,176.2 L293.9,175.7 L294.7,172.1 L295.4,177.5 L296.2,182.4 L296.9,177.4 L297.7,199.0 L298.4,180.4 L299.2,186.7 L299.9,180.5 L300.7,168.1 L301.4,179.6 L302.2,163.5 L302.9,180.3 L303.7,161.3 L304.4,168.5 L305.1,173.4 L305.9,181.7 L306.6,190.4 L307.4,187.1 L308.1,172.8 L308.9,172.3 L309.6,170.5 L310.4,164.0 L311.1,166.0 L311.9,169.0 L312.6,159.2 L313.4,161.0 L314.1,174.6 L314.9,153.2 L315.6,167.4 L316.3,160.4 L317.1,188.7 L317.8,162.2 L318.6,185.7 L319.3,173.5 L320.1,170.3 L320.8,161.4 L321.6,152.9 L322.3,184.9 L323.1,170.9 L323.8,178.9 L324.6,186.0 L325.3,180.5 L326.1,184.9 L326.8,174.3 L327.5,168.1 L328.3,163.8 L329.0,182.5 L329.8,166.6 L330.5,148.6 L331.3,166.7 L332.0,163.6 L332.8,178.5 L333.5,148.8 L334.3,155.7 L335.0,153.5 L335.8,145.7 L336.5,137.9 L337.2,149.6 L338.0,153.0 L338.7,140.6 L339.5,161.2 L340.2,153.4 L341.0,161.3 L341.7,174.3 L342.5,163.7 L343.2,183.5 L344.0,177.9 L344.7,164.6 L345.5,170.2 L346.2,171.7 L347.0,174.2 L347.7,177.6 L348.4,178.7 L349.2,192.7 L349.9,186.8 L350.7,191.6 L351.4,176.0 L352.2,194.5 L352.9,200.0 L353.7,197.6 L354.4,211.0 L355.2,209.0 L355.9,184.9 L356.7,194.8 L357.4,181.5 L358.2,193.8 L358.9,201.8 L359.6,182.2 L360.4,166.2 L361.1,178.7 L361.9,185.3 L362.6,187.1 L363.4,188.6 L364.1,166.3 L364.9,187.4 L365.6,171.7 L366.4,171.3 L367.1,181.1 L367.9,175.3 L368.6,162.5 L369.4,169.0 L370.1,162.1 L370.8,181.5 L371.6,183.6 L372.3,170.7 L373.1,176.8 L373.8,181.0 L374.6,179.9 L375.3,187.9 L376.1,182.5 L376.8,183.7 L377.6,173.7 L378.3,179.2 L379.1,181.4 L379.8,150.6 L380.5,169.2 L381.3,167.6 L382.0,170.8 L382.8,163.5 L383.5,159.4 L384.3,164.6 L385.0,168.6 L385.8,159.1 L386.5,168.9 L387.3,188.5 L388.0,162.4 L388.8,174.8 L389.5,174.5 L390.3,175.0 L391.0,169.4 L391.7,179.2 L392.5,172.9 L393.2,176.1 L394.0,176.8 L394.7,180.3 L395.5,186.5 L396.2,184.2 L397.0,195.8 L397.7,188.9 L398.5,179.4 L399.2,174.5 L400.0,180.9 L400.7,173.7 L401.5,188.8 L402.2,178.8 L402.9,182.4 L403.7,179.2 L404.4,180.1 L405.2,193.0 L405.9,175.5 L406.7,171.1 L407.4,176.9 L408.2,185.2 L408.9,173.5 L409.7,174.7 L410.4,174.1 L411.2,166.9 L411.9,178.1 L412.6,180.9 L413.4,176.3 L414.1,186.5 L414.9,176.2 L415.6,175.8 L416.4,178.8 L417.1,169.9 L417.9,167.8 L418.6,182.3 L419.4,166.6 L420.1,172.4 L420.9,175.0 L421.6,171.2 L422.4,177.7 L423.1,176.8 L423.8,180.4 L424.6,174.9 L425.3,178.2 L426.1,169.3 L426.8,184.4 L427.6,173.7 L428.3,181.4 L429.1,179.7 L429.8,158.2 L430.6,166.6 L431.3,157.4 L432.1,154.1 L432.8,169.4 L433.6,156.4 L434.3,148.7 L435.0,146.7 L435.8,165.4 L436.5,168.2 L437.3,158.8 L438.0,163.6 L438.8,189.6 L439.5,175.1 L440.3,177.9 L441.0,173.7 L441.8,192.3 L442.5,192.5 L443.3,170.6 L444.0,185.1 L444.8,181.2 L445.5,195.4 L446.2,185.2 L447.0,188.3 L447.7,184.3 L448.5,180.6 L449.2,186.1 L450.0,182.1 L450.7,190.8 L451.5,172.0 L452.2,182.6 L453.0,166.2 L453.7,165.6 L454.5,170.9 L455.2,168.2 L455.9,162.2 L456.7,152.2 L457.4,164.1 L458.2,160.3 L458.9,181.0 L459.7,180.1 L460.4,176.8 L461.2,174.2 L461.9,177.8 L462.7,176.3 L462.7,226.6 L461.9,225.1 L461.2,223.6 L460.4,235.2 L459.7,232.0 L458.9,229.5 L458.2,229.3 L457.4,219.2 L456.7,212.8 L455.9,212.4 L455.2,218.2 L454.5,218.4 L453.7,224.8 L453.0,231.6 L452.2,230.7 L451.5,220.3 L450.7,240.9 L450.0,241.6 L449.2,236.4 L448.5,244.0 L447.7,241.3 L447.0,245.1 L446.2,234.5 L445.5,242.8 L444.8,234.2 L444.0,230.0 L443.3,247.4 L442.5,245.6 L441.8,246.7 L441.0,229.8 L440.3,234.3 L439.5,230.1 L438.8,245.9 L438.0,226.7 L437.3,219.2 L436.5,224.7 L435.8,215.9 L435.0,210.6 L434.3,218.6 L433.6,205.5 L432.8,223.9 L432.1,213.5 L431.3,211.3 L430.6,225.0 L429.8,216.8 L429.1,227.6 L428.3,235.6 L427.6,239.1 L426.8,241.1 L426.1,231.7 L425.3,230.5 L424.6,234.4 L423.8,231.1 L423.1,237.9 L422.4,230.0 L421.6,225.6 L420.9,234.2 L420.1,232.8 L419.4,218.6 L418.6,240.4 L417.9,230.1 L417.1,222.3 L416.4,231.0 L415.6,232.2 L414.9,231.8 L414.1,232.1 L413.4,222.1 L412.6,252.4 L411.9,234.2 L411.2,226.0 L410.4,231.0 L409.7,230.9 L408.9,233.2 L408.2,250.6 L407.4,232.9 L406.7,234.3 L405.9,231.5 L405.2,257.7 L404.4,233.9 L403.7,235.6 L402.9,246.4 L402.2,231.4 L401.5,241.2 L400.7,227.1 L400.0,227.9 L399.2,224.3 L398.5,237.2 L397.7,235.3 L397.0,249.4 L396.2,240.4 L395.5,230.3 L394.7,235.9 L394.0,242.4 L393.2,231.0 L392.5,247.9 L391.7,235.8 L391.0,227.9 L390.3,224.7 L389.5,222.0 L388.8,240.9 L388.0,240.5 L387.3,238.9 L386.5,224.1 L385.8,230.0 L385.0,225.6 L384.3,223.7 L383.5,206.6 L382.8,217.5 L382.0,217.6 L381.3,220.1 L380.5,236.8 L379.8,222.5 L379.1,237.5 L378.3,233.5 L377.6,236.0 L376.8,237.2 L376.1,241.2 L375.3,242.5 L374.6,238.9 L373.8,250.1 L373.1,241.3 L372.3,232.1 L371.6,237.9 L370.8,230.6 L370.1,226.4 L369.4,221.4 L368.6,225.2 L367.9,236.0 L367.1,233.1 L366.4,235.0 L365.6,221.7 L364.9,236.6 L364.1,241.1 L363.4,242.3 L362.6,233.9 L361.9,243.9 L361.1,230.9 L360.4,236.1 L359.6,237.2 L358.9,251.0 L358.2,252.3 L357.4,246.8 L356.7,254.9 L355.9,248.5 L355.2,257.5 L354.4,265.1 L353.7,248.5 L352.9,246.8 L352.2,253.7 L351.4,229.9 L350.7,252.1 L349.9,236.0 L349.2,245.2 L348.4,232.1 L347.7,242.8 L347.0,232.0 L346.2,226.3 L345.5,223.3 L344.7,225.8 L344.0,231.1 L343.2,238.0 L342.5,218.1 L341.7,235.5 L341.0,215.7 L340.2,210.9 L339.5,210.1 L338.7,208.9 L338.0,204.3 L337.2,205.9 L336.5,197.5 L335.8,201.4 L335.0,197.7 L334.3,202.4 L333.5,214.2 L332.8,226.0 L332.0,222.7 L331.3,223.8 L330.5,205.4 L329.8,213.7 L329.0,237.2 L328.3,222.3 L327.5,236.0 L326.8,226.8 L326.1,248.5 L325.3,234.9 L324.6,239.7 L323.8,232.3 L323.1,223.3 L322.3,230.0 L321.6,226.1 L320.8,208.0 L320.1,219.8 L319.3,231.2 L318.6,247.0 L317.8,225.2 L317.1,232.3 L316.3,226.4 L315.6,213.7 L314.9,218.9 L314.1,226.6 L313.4,222.7 L312.6,227.4 L311.9,220.9 L311.1,215.4 L310.4,217.8 L309.6,216.8 L308.9,225.3 L308.1,227.9 L307.4,242.2 L306.6,236.3 L305.9,236.6 L305.1,223.0 L304.4,227.3 L303.7,211.0 L302.9,230.4 L302.2,219.5 L301.4,242.3 L300.7,225.2 L299.9,233.5 L299.2,244.8 L298.4,239.0 L297.7,247.9 L296.9,238.9 L296.2,240.9 L295.4,235.0 L294.7,228.5 L293.9,220.6 L293.2,225.4 L292.5,218.1 L291.7,233.6 L291.0,251.5 L290.2,225.7 L289.5,240.2 L288.7,237.4 L288.0,228.3 L287.2,232.3 L286.5,228.1 L285.7,222.4 L285.0,230.3 L284.2,246.3 L283.5,238.8 L282.8,228.7 L282.0,248.4 L281.3,251.6 L280.5,260.3 L279.8,247.3 L279.0,255.7 L278.3,250.9 L277.5,256.0 L276.8,249.9 L276.0,239.6Z" fill="#619CFF" fill-opacity="0.055"/>
<path d="M276.0,196.7 L276.8,207.5 L277.5,208.5 L278.3,205.7 L279.0,211.3 L279.8,202.9 L280.5,204.9 L281.3,200.7 L282.0,201.2 L282.8,184.9 L283.5,196.4 L284.2,195.7 L285.0,166.1 L285.7,174.2 L286.5,187.5 L287.2,182.3 L288.0,168.1 L288.7,195.3 L289.5,177.0 L290.2,178.1 L291.0,192.4 L291.7,179.0 L292.5,178.9 L293.2,179.1 L293.9,181.3 L294.7,182.4 L295.4,192.4 L296.2,183.4 L296.9,189.9 L297.7,200.7 L298.4,181.5 L299.2,183.8 L299.9,169.8 L300.7,174.2 L301.4,187.3 L302.2,173.8 L302.9,186.3 L303.7,164.9 L304.4,174.0 L305.1,174.8 L305.9,181.3 L306.6,186.0 L307.4,181.8 L308.1,179.8 L308.9,176.3 L309.6,166.0 L310.4,170.9 L311.1,172.0 L311.9,173.8 L312.6,160.7 L313.4,175.0 L314.1,165.8 L314.9,173.1 L315.6,171.4 L316.3,175.0 L317.1,185.1 L317.8,173.8 L318.6,189.5 L319.3,178.2 L320.1,156.2 L320.8,164.1 L321.6,180.3 L322.3,178.6 L323.1,170.0 L323.8,179.3 L324.6,191.7 L325.3,184.2 L326.1,191.1 L326.8,178.5 L327.5,171.2 L328.3,161.5 L329.0,184.4 L329.8,171.4 L330.5,161.1 L331.3,170.4 L332.0,166.5 L332.8,181.6 L333.5,160.3 L334.3,160.0 L335.0,147.5 L335.8,150.5 L336.5,141.9 L337.2,161.0 L338.0,159.2 L338.7,161.8 L339.5,162.6 L340.2,164.9 L341.0,167.3 L341.7,178.9 L342.5,173.2 L343.2,178.6 L344.0,176.1 L344.7,184.3 L345.5,172.1 L346.2,182.8 L347.0,185.0 L347.7,177.4 L348.4,190.2 L349.2,188.6 L349.9,182.6 L350.7,192.9 L351.4,189.7 L352.2,205.2 L352.9,205.7 L353.7,204.2 L354.4,208.7 L355.2,203.9 L355.9,195.8 L356.7,202.3 L357.4,186.8 L358.2,203.3 L358.9,207.9 L359.6,189.7 L360.4,188.1 L361.1,182.9 L361.9,189.9 L362.6,193.0 L363.4,185.1 L364.1,180.5 L364.9,190.5 L365.6,178.2 L366.4,179.3 L367.1,175.1 L367.9,173.3 L368.6,168.6 L369.4,177.8 L370.1,184.1 L370.8,186.9 L371.6,195.7 L372.3,178.4 L373.1,192.2 L373.8,188.0 L374.6,188.1 L375.3,178.9 L376.1,181.2 L376.8,190.9 L377.6,180.2 L378.3,185.0 L379.1,187.8 L379.8,173.0 L380.5,181.7 L381.3,169.1 L382.0,171.1 L382.8,167.2 L383.5,165.4 L384.3,168.0 L385.0,165.3 L385.8,182.3 L386.5,164.3 L387.3,191.2 L388.0,174.4 L388.8,180.9 L389.5,182.1 L390.3,165.9 L391.0,176.5 L391.7,182.4 L392.5,188.9 L393.2,192.8 L394.0,186.4 L394.7,183.2 L395.5,185.1 L396.2,193.2 L397.0,192.6 L397.7,193.7 L398.5,188.2 L399.2,181.8 L400.0,178.7 L400.7,183.8 L401.5,192.7 L402.2,192.0 L402.9,192.1 L403.7,188.0 L404.4,191.5 L405.2,188.1 L405.9,180.2 L406.7,189.2 L407.4,180.1 L408.2,180.9 L408.9,173.2 L409.7,168.7 L410.4,177.9 L411.2,176.4 L411.9,190.3 L412.6,204.7 L413.4,183.3 L414.1,187.6 L414.9,187.4 L415.6,178.4 L416.4,183.8 L417.1,166.4 L417.9,178.3 L418.6,185.6 L419.4,173.2 L420.1,188.2 L420.9,184.6 L421.6,181.2 L422.4,181.1 L423.1,192.9 L423.8,181.4 L424.6,165.0 L425.3,185.7 L426.1,159.7 L426.8,179.2 L427.6,191.4 L428.3,183.8 L429.1,173.4 L429.8,165.9 L430.6,173.1 L431.3,163.1 L432.1,161.9 L432.8,162.1 L433.6,157.9 L434.3,161.1 L435.0,155.8 L435.8,169.9 L436.5,171.0 L437.3,171.0 L438.0,175.5 L438.8,198.2 L439.5,181.9 L440.3,179.6 L441.0,182.7 L441.8,190.6 L442.5,202.6 L443.3,197.8 L444.0,184.9 L444.8,192.1 L445.5,189.1 L446.2,187.9 L447.0,204.7 L447.7,192.9 L448.5,189.6 L449.2,191.6 L450.0,188.3 L450.7,196.6 L451.5,177.9 L452.2,190.2 L453.0,180.6 L453.7,164.6 L454.5,171.5 L455.2,165.4 L455.9,171.6 L456.7,167.4 L457.4,165.6 L458.2,185.8 L458.9,186.4 L459.7,182.3 L460.4,175.6 L461.2,181.8 L461.9,180.4 L462.7,183.7 L462.7,221.6 L461.9,230.7 L461.2,214.6 L460.4,229.3 L459.7,220.9 L458.9,224.0 L458.2,225.1 L457.4,210.7 L456.7,207.1 L455.9,222.0 L455.2,210.5 L454.5,213.7 L453.7,218.2 L453.0,227.7 L452.2,224.6 L451.5,216.1 L450.7,249.9 L450.0,232.6 L449.2,237.6 L448.5,245.2 L447.7,242.6 L447.0,241.6 L446.2,238.8 L445.5,236.9 L444.8,243.3 L444.0,236.8 L443.3,233.3 L442.5,253.1 L441.8,234.5 L441.0,223.0 L440.3,224.9 L439.5,223.8 L438.8,236.9 L438.0,224.6 L437.3,224.2 L436.5,214.0 L435.8,220.0 L435.0,203.2 L434.3,219.8 L433.6,200.5 L432.8,226.2 L432.1,208.1 L431.3,205.6 L430.6,212.4 L429.8,205.1 L429.1,231.1 L428.3,229.4 L427.6,232.2 L426.8,241.0 L426.1,213.8 L425.3,222.6 L424.6,223.0 L423.8,223.0 L423.1,234.7 L422.4,223.7 L421.6,223.2 L420.9,224.3 L420.1,231.3 L419.4,219.9 L418.6,232.6 L417.9,226.0 L417.1,221.1 L416.4,218.1 L415.6,213.8 L414.9,224.1 L414.1,231.4 L413.4,226.3 L412.6,237.7 L411.9,239.3 L411.2,222.3 L410.4,222.3 L409.7,236.6 L408.9,219.3 L408.2,238.1 L407.4,228.3 L406.7,226.1 L405.9,224.9 L405.2,239.3 L404.4,234.3 L403.7,241.5 L402.9,238.1 L402.2,225.5 L401.5,237.4 L400.7,225.7 L400.0,236.7 L399.2,220.5 L398.5,226.5 L397.7,238.1 L397.0,237.9 L396.2,233.7 L395.5,239.7 L394.7,229.4 L394.0,222.8 L393.2,228.4 L392.5,227.3 L391.7,229.7 L391.0,231.7 L390.3,226.3 L389.5,220.8 L388.8,234.4 L388.0,228.9 L387.3,227.6 L386.5,219.2 L385.8,230.6 L385.0,210.7 L384.3,211.7 L383.5,202.1 L382.8,208.6 L382.0,211.6 L381.3,225.5 L380.5,226.5 L379.8,212.9 L379.1,238.4 L378.3,221.1 L377.6,231.1 L376.8,237.7 L376.1,232.9 L375.3,231.7 L374.6,241.7 L373.8,239.9 L373.1,229.0 L372.3,221.3 L371.6,233.3 L370.8,222.3 L370.1,217.4 L369.4,219.3 L368.6,215.4 L367.9,230.8 L367.1,232.5 L366.4,222.3 L365.6,218.2 L364.9,232.4 L364.1,230.9 L363.4,230.2 L362.6,229.3 L361.9,225.2 L361.1,233.1 L360.4,226.1 L359.6,231.8 L358.9,247.3 L358.2,249.1 L357.4,233.9 L356.7,240.6 L355.9,238.0 L355.2,251.9 L354.4,265.3 L353.7,245.6 L352.9,243.3 L352.2,239.6 L351.4,229.5 L350.7,243.6 L349.9,231.8 L349.2,236.2 L348.4,233.4 L347.7,228.2 L347.0,226.7 L346.2,227.3 L345.5,221.2 L344.7,226.1 L344.0,224.3 L343.2,223.7 L342.5,214.5 L341.7,231.2 L341.0,209.1 L340.2,220.1 L339.5,203.3 L338.7,205.8 L338.0,206.0 L337.2,210.8 L336.5,187.8 L335.8,193.5 L335.0,194.9 L334.3,203.0 L333.5,200.3 L332.8,217.3 L332.0,209.2 L331.3,211.2 L330.5,207.1 L329.8,214.0 L329.0,222.9 L328.3,210.6 L327.5,217.7 L326.8,218.4 L326.1,229.4 L325.3,223.3 L324.6,236.9 L323.8,229.9 L323.1,223.9 L322.3,234.1 L321.6,222.9 L320.8,213.6 L320.1,220.5 L319.3,222.5 L318.6,226.4 L317.8,215.3 L317.1,229.3 L316.3,211.2 L315.6,214.4 L314.9,222.9 L314.1,222.1 L313.4,229.1 L312.6,207.3 L311.9,225.1 L311.1,207.9 L310.4,209.7 L309.6,209.8 L308.9,218.4 L308.1,215.5 L307.4,230.1 L306.6,233.0 L305.9,229.1 L305.1,212.8 L304.4,216.4 L303.7,216.3 L302.9,233.8 L302.2,214.3 L301.4,226.0 L300.7,222.4 L299.9,222.6 L299.2,228.8 L298.4,238.1 L297.7,239.4 L296.9,225.4 L296.2,233.2 L295.4,228.6 L294.7,224.2 L293.9,223.1 L293.2,221.5 L292.5,215.5 L291.7,218.0 L291.0,232.2 L290.2,218.4 L289.5,229.2 L288.7,232.2 L288.0,210.5 L287.2,222.8 L286.5,222.9 L285.7,213.4 L285.0,220.7 L284.2,235.3 L283.5,234.3 L282.8,234.0 L282.0,237.7 L281.3,250.2 L280.5,244.6 L279.8,241.4 L279.0,251.0 L278.3,248.2 L277.5,253.6 L276.8,244.4 L276.0,237.1Z" fill="#619CFF" fill-opacity="0.11"/>
<path d="M484.7,256.0 L485.5,254.2 L486.2,253.2 L487.0,267.1 L487.7,281.5 L488.5,276.4 L489.2,280.0 L490.0,276.5 L490.7,261.2 L491.5,279.4 L492.2,273.5 L492.9,269.5 L493.7,259.5 L494.4,269.0 L495.2,258.4 L495.9,252.7 L496.7,263.7 L497.4,243.8 L498.2,230.8 L498.9,252.4 L499.7,254.2 L500.4,254.3 L501.2,241.3 L501.9,247.7 L502.6,246.2 L503.4,252.2 L504.1,244.6 L504.9,230.4 L505.6,241.3 L506.4,237.8 L507.1,241.7 L507.9,240.2 L508.6,255.8 L509.4,237.8 L510.1,242.2 L510.9,235.1 L511.6,241.5 L512.4,244.1 L513.1,242.4 L513.8,245.6 L514.6,240.0 L515.3,238.6 L516.1,221.2 L516.8,233.3 L517.6,241.5 L518.3,231.2 L519.1,237.2 L519.8,232.0 L520.6,229.9 L521.3,241.6 L522.1,226.4 L522.8,219.8 L523.6,221.3 L524.3,213.9 L525.0,219.2 L525.8,225.0 L526.5,210.4 L527.3,234.9 L528.0,219.2 L528.8,218.6 L529.5,209.5 L530.3,236.9 L531.0,222.8 L531.8,224.7 L532.5,223.4 L533.3,233.5 L534.0,228.8 L534.8,223.4 L535.5,221.6 L536.2,238.6 L537.0,231.4 L537.7,234.2 L538.5,240.3 L539.2,230.2 L540.0,229.6 L540.7,238.9 L541.5,235.2 L542.2,234.6 L543.0,233.1 L543.7,228.9 L544.5,240.4 L545.2,244.4 L545.9,239.3 L546.7,232.4 L547.4,231.9 L548.2,237.1 L548.9,245.4 L549.7,235.2 L550.4,227.8 L551.2,238.9 L551.9,229.1 L552.7,235.2 L553.4,233.9 L554.2,233.6 L554.9,230.8 L555.7,228.7 L556.4,222.3 L557.1,227.9 L557.9,229.5 L558.6,221.4 L559.4,232.3 L560.1,239.0 L560.9,228.3 L561.6,238.8 L562.4,235.4 L563.1,229.0 L563.9,237.0 L564.6,247.8 L565.4,239.2 L566.1,232.5 L566.9,230.5 L567.6,231.4 L568.3,230.7 L569.1,232.6 L569.8,236.7 L570.6,230.2 L571.3,222.3 L572.1,231.5 L572.8,224.5 L573.6,234.9 L574.3,234.5 L575.1,250.7 L575.8,241.6 L576.6,237.8 L577.3,230.5 L578.0,245.8 L578.8,230.1 L579.5,236.3 L580.3,245.7 L581.0,241.7 L581.8,253.9 L582.5,246.5 L583.3,245.3 L584.0,248.6 L584.8,247.5 L585.5,236.2 L586.3,241.8 L587.0,254.5 L587.8,236.1 L588.5,243.5 L589.2,242.6 L590.0,233.0 L590.7,226.8 L591.5,250.1 L592.2,261.1 L593.0,261.5 L593.7,246.8 L594.5,232.3 L595.2,254.5 L596.0,248.2 L596.7,222.7 L597.5,238.5 L598.2,244.9 L599.0,244.4 L599.7,242.3 L600.4,243.8 L601.2,240.7 L601.9,247.2 L602.7,237.2 L603.4,243.0 L604.2,236.9 L604.9,248.9 L605.7,246.5 L606.4,242.3 L607.2,251.7 L607.9,240.7 L608.7,250.6 L609.4,238.1 L610.2,244.7 L610.9,246.1 L611.6,246.8 L612.4,248.4 L613.1,259.8 L613.9,248.6 L614.6,234.6 L615.4,255.2 L616.1,228.6 L616.9,230.9 L617.6,254.3 L618.4,246.7 L619.1,258.5 L619.9,252.5 L620.6,245.9 L621.3,257.2 L622.1,262.5 L622.8,258.6 L623.6,249.9 L624.3,253.5 L625.1,254.4 L625.8,268.1 L626.6,265.0 L627.3,257.3 L628.1,260.8 L628.8,265.7 L629.6,270.2 L630.3,264.1 L631.1,265.3 L631.8,248.6 L632.5,259.9 L633.3,271.2 L634.0,271.7 L634.8,256.8 L635.5,265.2 L636.3,269.9 L637.0,265.6 L637.8,264.2 L638.5,265.7 L639.3,262.7 L640.0,271.0 L640.8,263.1 L641.5,262.1 L642.3,270.1 L643.0,270.2 L643.7,261.8 L644.5,261.6 L645.2,274.7 L646.0,263.7 L646.7,263.3 L647.5,251.3 L648.2,248.0 L649.0,252.6 L649.7,247.8 L650.5,260.8 L651.2,241.8 L652.0,251.1 L652.7,243.0 L653.5,254.4 L654.2,257.2 L654.9,237.0 L655.7,255.2 L656.4,252.7 L657.2,258.7 L657.9,260.4 L658.7,266.3 L659.4,243.2 L660.2,250.5 L660.9,260.4 L661.7,259.5 L662.4,258.7 L663.2,262.8 L663.9,266.4 L664.6,270.2 L665.4,248.9 L666.1,261.5 L666.9,257.3 L667.6,271.6 L668.4,253.4 L669.1,266.0 L669.9,257.3 L670.6,270.9 L671.4,268.8 L671.4,321.7 L670.6,319.5 L669.9,326.1 L669.1,324.8 L668.4,315.9 L667.6,324.6 L666.9,312.1 L666.1,328.8 L665.4,302.7 L664.6,320.1 L663.9,322.2 L663.2,316.8 L662.4,316.2 L661.7,303.3 L660.9,310.2 L660.2,313.9 L659.4,300.5 L658.7,321.1 L657.9,309.7 L657.2,307.7 L656.4,313.8 L655.7,315.3 L654.9,305.4 L654.2,318.3 L653.5,323.6 L652.7,303.4 L652.0,301.9 L651.2,298.8 L650.5,312.1 L649.7,315.8 L649.0,313.1 L648.2,324.5 L647.5,315.6 L646.7,327.7 L646.0,308.1 L645.2,331.6 L644.5,314.0 L643.7,317.8 L643.0,316.3 L642.3,319.3 L641.5,319.3 L640.8,329.2 L640.0,323.8 L639.3,315.2 L638.5,321.3 L637.8,310.5 L637.0,314.0 L636.3,319.1 L635.5,312.0 L634.8,315.7 L634.0,335.5 L633.3,339.0 L632.5,314.1 L631.8,315.9 L631.1,317.7 L630.3,320.0 L629.6,319.8 L628.8,319.0 L628.1,315.2 L627.3,320.9 L626.6,322.2 L625.8,325.8 L625.1,311.3 L624.3,301.5 L623.6,308.6 L622.8,313.8 L622.1,312.2 L621.3,307.5 L620.6,303.8 L619.9,305.0 L619.1,310.3 L618.4,309.1 L617.6,306.7 L616.9,299.9 L616.1,298.2 L615.4,302.8 L614.6,292.6 L613.9,305.5 L613.1,331.9 L612.4,310.6 L611.6,304.6 L610.9,304.9 L610.2,298.5 L609.4,296.7 L608.7,299.2 L607.9,290.5 L607.2,298.3 L606.4,292.5 L605.7,299.1 L604.9,303.3 L604.2,291.3 L603.4,304.8 L602.7,300.5 L601.9,302.5 L601.2,293.8 L600.4,296.8 L599.7,298.4 L599.0,299.3 L598.2,299.7 L597.5,288.4 L596.7,283.2 L596.0,306.4 L595.2,310.6 L594.5,294.4 L593.7,296.6 L593.0,306.1 L592.2,314.9 L591.5,294.8 L590.7,288.4 L590.0,309.0 L589.2,291.1 L588.5,297.9 L587.8,309.0 L587.0,301.0 L586.3,305.5 L585.5,297.3 L584.8,291.9 L584.0,297.1 L583.3,295.8 L582.5,310.6 L581.8,309.6 L581.0,286.1 L580.3,301.3 L579.5,283.8 L578.8,283.4 L578.0,299.1 L577.3,287.7 L576.6,295.9 L575.8,289.0 L575.1,302.3 L574.3,287.2 L573.6,284.6 L572.8,276.7 L572.1,284.6 L571.3,283.3 L570.6,282.2 L569.8,284.5 L569.1,278.0 L568.3,290.7 L567.6,287.3 L566.9,291.6 L566.1,280.1 L565.4,292.0 L564.6,304.7 L563.9,285.6 L563.1,277.6 L562.4,281.5 L561.6,290.2 L560.9,296.3 L560.1,297.3 L559.4,283.5 L558.6,274.2 L557.9,278.2 L557.1,281.4 L556.4,282.7 L555.7,291.9 L554.9,286.4 L554.2,279.2 L553.4,299.0 L552.7,301.2 L551.9,296.2 L551.2,297.2 L550.4,282.9 L549.7,287.4 L548.9,296.2 L548.2,296.2 L547.4,279.8 L546.7,299.9 L545.9,297.1 L545.2,288.7 L544.5,302.9 L543.7,287.8 L543.0,285.4 L542.2,306.1 L541.5,295.9 L540.7,292.3 L540.0,293.5 L539.2,281.8 L538.5,288.4 L537.7,283.5 L537.0,280.4 L536.2,297.9 L535.5,272.1 L534.8,283.2 L534.0,275.8 L533.3,286.6 L532.5,274.6 L531.8,281.3 L531.0,276.2 L530.3,300.8 L529.5,267.3 L528.8,272.3 L528.0,263.6 L527.3,282.0 L526.5,277.4 L525.8,282.8 L525.0,269.7 L524.3,274.8 L523.6,270.7 L522.8,276.2 L522.1,281.1 L521.3,292.7 L520.6,291.4 L519.8,285.4 L519.1,287.7 L518.3,277.9 L517.6,303.2 L516.8,293.6 L516.1,284.0 L515.3,300.1 L514.6,290.1 L513.8,298.6 L513.1,302.0 L512.4,287.9 L511.6,292.5 L510.9,281.2 L510.1,308.9 L509.4,289.7 L508.6,301.3 L507.9,300.1 L507.1,304.9 L506.4,299.9 L505.6,301.6 L504.9,286.8 L504.1,293.4 L503.4,311.1 L502.6,305.8 L501.9,307.2 L501.2,293.9 L500.4,307.0 L499.7,301.2 L498.9,306.7 L498.2,293.1 L497.4,306.2 L496.7,312.0 L495.9,305.0 L495.2,321.9 L494.4,323.1 L493.7,327.9 L492.9,333.3 L492.2,329.0 L491.5,327.4 L490.7,327.2 L490.0,334.6 L489.2,336.8 L488.5,331.4 L487.7,341.3 L487.0,316.5 L486.2,317.9 L485.5,309.4 L484.7,315.9Z" fill="#00BA38" fill-opacity="0.07"/>
<path d="M484.7,264.8 L485.5,258.4 L486.2,260.1 L487.0,274.0 L487.7,285.7 L488.5,284.7 L489.2,287.1 L490.0,287.0 L490.7,278.4 L491.5,284.9 L492.2,280.0 L492.9,278.9 L493.7,272.4 L494.4,277.2 L495.2,280.1 L495.9,264.9 L496.7,258.8 L497.4,239.6 L498.2,253.8 L498.9,262.9 L499.7,250.7 L500.4,251.9 L501.2,252.2 L501.9,248.4 L502.6,257.8 L503.4,250.9 L504.1,251.5 L504.9,236.8 L505.6,253.7 L506.4,247.9 L507.1,238.5 L507.9,246.6 L508.6,255.6 L509.4,246.3 L510.1,246.2 L510.9,239.3 L511.6,237.7 L512.4,248.8 L513.1,246.6 L513.8,249.9 L514.6,246.7 L515.3,241.7 L516.1,233.3 L516.8,236.0 L517.6,239.2 L518.3,225.1 L519.1,236.2 L519.8,238.4 L520.6,229.8 L521.3,246.2 L522.1,236.3 L522.8,230.8 L523.6,227.8 L524.3,221.7 L525.0,226.8 L525.8,221.1 L526.5,226.9 L527.3,228.1 L528.0,223.7 L528.8,228.3 L529.5,223.1 L530.3,241.6 L531.0,219.6 L531.8,231.8 L532.5,222.1 L533.3,238.0 L534.0,230.2 L534.8,234.7 L535.5,224.5 L536.2,244.4 L537.0,226.2 L537.7,243.2 L538.5,240.2 L539.2,234.4 L540.0,237.8 L540.7,249.0 L541.5,248.5 L542.2,235.5 L543.0,243.0 L543.7,239.9 L544.5,246.1 L545.2,250.1 L545.9,243.1 L546.7,250.5 L547.4,230.9 L548.2,240.8 L548.9,240.3 L549.7,235.1 L550.4,232.6 L551.2,234.1 L551.9,247.2 L552.7,239.0 L553.4,248.3 L554.2,232.8 L554.9,223.0 L555.7,231.9 L556.4,239.7 L557.1,225.3 L557.9,228.7 L558.6,227.8 L559.4,222.3 L560.1,237.9 L560.9,248.8 L561.6,236.7 L562.4,240.0 L563.1,229.7 L563.9,244.8 L564.6,245.1 L565.4,248.5 L566.1,240.2 L566.9,237.5 L567.6,231.3 L568.3,240.5 L569.1,237.5 L569.8,243.1 L570.6,243.0 L571.3,238.0 L572.1,243.2 L572.8,230.7 L573.6,237.2 L574.3,243.8 L575.1,264.1 L575.8,238.4 L576.6,239.5 L577.3,234.5 L578.0,251.5 L578.8,236.9 L579.5,244.6 L580.3,249.6 L581.0,247.3 L581.8,254.2 L582.5,241.2 L583.3,256.2 L584.0,245.2 L584.8,246.0 L585.5,241.9 L586.3,255.6 L587.0,251.8 L587.8,256.9 L588.5,253.8 L589.2,242.7 L590.0,244.3 L590.7,243.4 L591.5,253.6 L592.2,260.9 L593.0,253.1 L593.7,256.4 L594.5,252.7 L595.2,260.6 L596.0,259.6 L596.7,239.1 L597.5,242.0 L598.2,237.3 L599.0,244.8 L599.7,247.0 L600.4,250.9 L601.2,246.8 L601.9,253.5 L602.7,249.1 L603.4,246.3 L604.2,242.1 L604.9,260.4 L605.7,256.5 L606.4,246.6 L607.2,252.1 L607.9,243.1 L608.7,253.7 L609.4,251.1 L610.2,252.0 L610.9,258.6 L611.6,257.3 L612.4,259.1 L613.1,262.1 L613.9,253.5 L614.6,251.5 L615.4,257.1 L616.1,239.5 L616.9,246.4 L617.6,265.6 L618.4,254.1 L619.1,253.2 L619.9,258.1 L620.6,255.2 L621.3,252.9 L622.1,257.2 L622.8,261.2 L623.6,259.9 L624.3,250.0 L625.1,247.1 L625.8,276.3 L626.6,273.8 L627.3,263.4 L628.1,263.7 L628.8,261.8 L629.6,268.3 L630.3,261.9 L631.1,277.8 L631.8,263.0 L632.5,264.0 L633.3,272.0 L634.0,280.5 L634.8,271.4 L635.5,269.5 L636.3,273.2 L637.0,271.3 L637.8,253.5 L638.5,270.9 L639.3,271.2 L640.0,272.1 L640.8,275.8 L641.5,269.3 L642.3,271.9 L643.0,271.3 L643.7,260.8 L644.5,268.3 L645.2,272.4 L646.0,267.4 L646.7,268.7 L647.5,258.5 L648.2,255.9 L649.0,262.0 L649.7,266.0 L650.5,265.2 L651.2,249.8 L652.0,259.2 L652.7,257.5 L653.5,268.7 L654.2,262.2 L654.9,254.8 L655.7,265.3 L656.4,250.0 L657.2,262.9 L657.9,265.9 L658.7,278.3 L659.4,255.0 L660.2,268.8 L660.9,269.3 L661.7,255.7 L662.4,249.9 L663.2,265.4 L663.9,270.2 L664.6,266.3 L665.4,253.3 L666.1,271.8 L666.9,259.8 L667.6,274.2 L668.4,271.3 L669.1,277.0 L669.9,274.2 L670.6,273.2 L671.4,273.1 L671.4,309.6 L670.6,317.4 L669.9,311.7 L669.1,315.2 L668.4,312.5 L667.6,314.0 L666.9,303.9 L666.1,325.3 L665.4,300.1 L664.6,315.7 L663.9,308.0 L663.2,310.8 L662.4,305.9 L661.7,311.6 L660.9,304.3 L660.2,309.9 L659.4,297.1 L658.7,318.8 L657.9,304.6 L657.2,306.4 L656.4,312.7 L655.7,299.5 L654.9,305.4 L654.2,306.6 L653.5,311.1 L652.7,296.2 L652.0,299.6 L651.2,297.5 L650.5,302.4 L649.7,301.2 L649.0,315.9 L648.2,304.4 L647.5,323.7 L646.7,319.2 L646.0,303.5 L645.2,328.2 L644.5,310.9 L643.7,312.1 L643.0,319.4 L642.3,316.2 L641.5,308.0 L640.8,316.8 L640.0,323.4 L639.3,305.1 L638.5,310.1 L637.8,309.3 L637.0,312.3 L636.3,314.3 L635.5,306.9 L634.8,308.6 L634.0,320.4 L633.3,325.3 L632.5,318.3 L631.8,305.7 L631.1,315.3 L630.3,318.0 L629.6,315.8 L628.8,306.4 L628.1,316.0 L627.3,303.1 L626.6,309.4 L625.8,310.4 L625.1,304.2 L624.3,307.0 L623.6,299.9 L622.8,299.9 L622.1,311.8 L621.3,303.6 L620.6,301.4 L619.9,299.0 L619.1,304.3 L618.4,303.5 L617.6,306.9 L616.9,296.3 L616.1,286.4 L615.4,298.7 L614.6,285.4 L613.9,298.1 L613.1,308.7 L612.4,306.0 L611.6,301.7 L610.9,299.8 L610.2,290.7 L609.4,293.5 L608.7,296.9 L607.9,285.0 L607.2,291.0 L606.4,285.1 L605.7,292.8 L604.9,294.3 L604.2,289.5 L603.4,288.4 L602.7,287.0 L601.9,293.1 L601.2,290.3 L600.4,291.3 L599.7,284.8 L599.0,294.2 L598.2,293.0 L597.5,282.7 L596.7,287.3 L596.0,296.7 L595.2,295.2 L594.5,296.2 L593.7,300.1 L593.0,303.0 L592.2,306.3 L591.5,299.6 L590.7,282.6 L590.0,291.3 L589.2,294.2 L588.5,294.7 L587.8,299.8 L587.0,299.0 L586.3,293.4 L585.5,288.3 L584.8,285.4 L584.0,295.4 L583.3,297.3 L582.5,296.6 L581.8,302.6 L581.0,288.6 L580.3,299.9 L579.5,282.9 L578.8,282.6 L578.0,287.8 L577.3,271.8 L576.6,282.9 L575.8,282.7 L575.1,298.2 L574.3,291.2 L573.6,278.5 L572.8,269.3 L572.1,285.4 L571.3,279.8 L570.6,279.9 L569.8,282.1 L569.1,279.4 L568.3,289.3 L567.6,273.9 L566.9,287.9 L566.1,274.1 L565.4,289.9 L564.6,288.7 L563.9,280.9 L563.1,282.9 L562.4,279.2 L561.6,284.3 L560.9,284.9 L560.1,283.3 L559.4,279.7 L558.6,276.8 L557.9,274.7 L557.1,270.9 L556.4,275.0 L555.7,288.1 L554.9,276.2 L554.2,276.0 L553.4,297.6 L552.7,275.3 L551.9,288.3 L551.2,288.9 L550.4,269.6 L549.7,281.7 L548.9,296.3 L548.2,300.5 L547.4,274.9 L546.7,298.5 L545.9,294.1 L545.2,288.2 L544.5,284.8 L543.7,281.7 L543.0,279.5 L542.2,280.3 L541.5,287.9 L540.7,284.2 L540.0,287.5 L539.2,283.1 L538.5,286.6 L537.7,281.4 L537.0,290.0 L536.2,283.9 L535.5,262.8 L534.8,278.2 L534.0,269.9 L533.3,282.4 L532.5,278.0 L531.8,277.6 L531.0,272.3 L530.3,289.5 L529.5,266.9 L528.8,284.4 L528.0,263.5 L527.3,283.1 L526.5,267.1 L525.8,280.8 L525.0,270.1 L524.3,261.7 L523.6,273.7 L522.8,269.1 L522.1,280.4 L521.3,284.4 L520.6,279.8 L519.8,283.1 L519.1,284.3 L518.3,273.0 L517.6,284.0 L516.8,279.1 L516.1,279.3 L515.3,305.1 L514.6,289.1 L513.8,293.4 L513.1,294.5 L512.4,289.7 L511.6,284.1 L510.9,292.7 L510.1,297.3 L509.4,283.7 L508.6,294.0 L507.9,294.8 L507.1,292.2 L506.4,286.9 L505.6,304.3 L504.9,287.2 L504.1,296.9 L503.4,304.6 L502.6,298.7 L501.9,293.5 L501.2,295.6 L500.4,299.9 L499.7,294.9 L498.9,303.5 L498.2,290.1 L497.4,298.4 L496.7,311.8 L495.9,302.3 L495.2,315.8 L494.4,312.1 L493.7,317.3 L492.9,318.6 L492.2,332.5 L491.5,323.6 L490.7,325.3 L490.0,340.4 L489.2,332.7 L488.5,330.6 L487.7,322.6 L487.0,313.4 L486.2,313.1 L485.5,305.8 L484.7,308.0Z" fill="#00BA38" fill-opacity="0.13"/>
<path d="M484.7,258.0 L485.5,244.7 L486.2,262.3 L487.0,260.0 L487.7,253.6 L488.5,258.4 L489.2,257.4 L490.0,240.2 L490.7,244.3 L491.5,250.9 L492.2,250.0 L492.9,265.9 L493.7,260.1 L494.4,253.8 L495.2,252.2 L495.9,262.1 L496.7,247.3 L497.4,248.5 L498.2,244.7 L498.9,229.1 L499.7,249.2 L500.4,248.2 L501.2,252.2 L501.9,231.3 L502.6,248.6 L503.4,244.7 L504.1,252.8 L504.9,254.7 L505.6,256.1 L506.4,272.1 L507.1,273.2 L507.9,261.4 L508.6,268.7 L509.4,280.3 L510.1,269.2 L510.9,280.7 L511.6,280.7 L512.4,257.5 L513.1,271.0 L513.8,257.4 L514.6,248.2 L515.3,256.9 L516.1,268.7 L516.8,269.7 L517.6,268.1 L518.3,267.0 L519.1,269.8 L519.8,259.3 L520.6,274.0 L521.3,256.0 L522.1,265.5 L522.8,269.7 L523.6,258.0 L524.3,264.8 L525.0,271.3 L525.8,255.5 L526.5,254.5 L527.3,250.1 L528.0,249.7 L528.8,257.3 L529.5,249.7 L530.3,258.1 L531.0,260.5 L531.8,248.8 L532.5,265.6 L533.3,253.8 L534.0,263.1 L534.8,258.5 L535.5,251.9 L536.2,271.5 L537.0,250.5 L537.7,256.8 L538.5,254.2 L539.2,255.2 L540.0,253.3 L540.7,252.3 L541.5,257.4 L542.2,235.7 L543.0,254.7 L543.7,252.0 L544.5,247.6 L545.2,254.3 L545.9,244.2 L546.7,268.9 L547.4,250.9 L548.2,262.8 L548.9,258.8 L549.7,274.2 L550.4,260.3 L551.2,266.7 L551.9,247.0 L552.7,253.1 L553.4,251.6 L554.2,255.6 L554.9,261.1 L555.7,246.3 L556.4,251.1 L557.1,245.5 L557.9,249.5 L558.6,250.8 L559.4,250.8 L560.1,253.1 L560.9,255.7 L561.6,265.4 L562.4,260.2 L563.1,259.3 L563.9,275.2 L564.6,268.8 L565.4,266.6 L566.1,275.3 L566.9,270.6 L567.6,263.9 L568.3,265.4 L569.1,269.6 L569.8,269.6 L570.6,259.5 L571.3,263.3 L572.1,266.2 L572.8,259.5 L573.6,273.2 L574.3,266.1 L575.1,269.4 L575.8,266.8 L576.6,267.2 L577.3,273.4 L578.0,263.7 L578.8,284.3 L579.5,270.5 L580.3,272.8 L581.0,263.9 L581.8,271.8 L582.5,272.1 L583.3,255.5 L584.0,254.1 L584.8,257.3 L585.5,257.7 L586.3,264.4 L587.0,263.0 L587.8,239.6 L588.5,272.4 L589.2,264.3 L590.0,253.9 L590.7,276.8 L591.5,277.4 L592.2,260.0 L593.0,272.3 L593.7,276.9 L594.5,282.9 L595.2,271.0 L596.0,274.0 L596.7,285.3 L597.5,266.5 L598.2,272.0 L599.0,278.9 L599.7,273.2 L600.4,273.0 L601.2,266.6 L601.9,270.3 L602.7,265.7 L603.4,249.0 L604.2,253.0 L604.9,257.4 L605.7,255.2 L606.4,263.5 L607.2,251.6 L607.9,240.7 L608.7,239.9 L609.4,245.3 L610.2,257.7 L610.9,257.9 L611.6,265.9 L612.4,246.2 L613.1,259.7 L613.9,272.9 L614.6,269.8 L615.4,265.7 L616.1,276.7 L616.9,250.9 L617.6,267.8 L618.4,267.6 L619.1,269.4 L619.9,265.7 L620.6,262.6 L621.3,264.9 L622.1,269.0 L622.8,268.2 L623.6,278.9 L624.3,279.3 L625.1,284.8 L625.8,291.1 L626.6,270.9 L627.3,286.2 L628.1,273.2 L628.8,287.4 L629.6,281.2 L630.3,286.7 L631.1,286.1 L631.8,262.8 L632.5,281.1 L633.3,275.5 L634.0,266.9 L634.8,271.2 L635.5,258.7 L636.3,254.8 L637.0,264.2 L637.8,277.8 L638.5,264.0 L639.3,237.1 L640.0,253.3 L640.8,251.2 L641.5,257.9 L642.3,254.4 L643.0,248.2 L643.7,263.7 L644.5,254.9 L645.2,234.3 L646.0,250.4 L646.7,248.6 L647.5,261.5 L648.2,261.4 L649.0,257.7 L649.7,262.5 L650.5,255.8 L651.2,274.7 L652.0,261.3 L652.7,268.7 L653.5,274.6 L654.2,265.9 L654.9,270.9 L655.7,271.4 L656.4,269.2 L657.2,278.3 L657.9,273.5 L658.7,281.6 L659.4,263.2 L660.2,275.1 L660.9,286.6 L661.7,262.6 L662.4,272.1 L663.2,269.0 L663.9,269.5 L664.6,272.5 L665.4,271.9 L666.1,283.4 L666.9,287.9 L667.6,275.1 L668.4,281.5 L669.1,271.7 L669.9,277.6 L670.6,280.8 L671.4,272.2 L671.4,322.0 L670.6,328.0 L669.9,321.9 L669.1,321.9 L668.4,325.7 L667.6,319.9 L666.9,329.0 L666.1,327.8 L665.4,320.4 L664.6,327.4 L663.9,323.3 L663.2,323.6 L662.4,323.8 L661.7,317.0 L660.9,329.3 L660.2,321.3 L659.4,326.2 L658.7,335.5 L657.9,322.8 L657.2,324.0 L656.4,312.0 L655.7,316.9 L654.9,314.8 L654.2,305.8 L653.5,317.1 L652.7,316.4 L652.0,303.7 L651.2,324.7 L650.5,313.9 L649.7,311.4 L649.0,307.4 L648.2,318.1 L647.5,304.5 L646.7,305.1 L646.0,308.4 L645.2,296.8 L644.5,295.2 L643.7,317.2 L643.0,300.0 L642.3,307.5 L641.5,311.5 L640.8,302.1 L640.0,295.3 L639.3,297.0 L638.5,303.3 L637.8,327.1 L637.0,315.3 L636.3,317.4 L635.5,314.0 L634.8,319.7 L634.0,313.4 L633.3,320.1 L632.5,325.2 L631.8,315.0 L631.1,340.6 L630.3,337.8 L629.6,327.1 L628.8,330.3 L628.1,317.2 L627.3,337.4 L626.6,315.6 L625.8,336.6 L625.1,330.2 L624.3,330.6 L623.6,323.3 L622.8,313.2 L622.1,318.1 L621.3,307.1 L620.6,311.3 L619.9,324.3 L619.1,311.3 L618.4,320.8 L617.6,325.2 L616.9,313.6 L616.1,322.9 L615.4,313.7 L614.6,309.6 L613.9,311.2 L613.1,313.2 L612.4,304.9 L611.6,313.9 L610.9,300.7 L610.2,302.3 L609.4,292.2 L608.7,285.3 L607.9,284.8 L607.2,298.0 L606.4,309.3 L605.7,307.5 L604.9,302.2 L604.2,302.2 L603.4,305.2 L602.7,315.5 L601.9,310.2 L601.2,327.6 L600.4,318.3 L599.7,317.8 L599.0,326.2 L598.2,319.4 L597.5,311.0 L596.7,330.9 L596.0,318.6 L595.2,325.2 L594.5,334.6 L593.7,323.3 L593.0,313.5 L592.2,311.7 L591.5,320.8 L590.7,328.9 L590.0,309.6 L589.2,325.7 L588.5,313.9 L587.8,306.7 L587.0,311.3 L586.3,308.9 L585.5,324.2 L584.8,302.3 L584.0,315.9 L583.3,316.3 L582.5,315.7 L581.8,320.3 L581.0,309.1 L580.3,319.4 L579.5,327.2 L578.8,326.0 L578.0,319.4 L577.3,314.3 L576.6,308.5 L575.8,317.5 L575.1,314.4 L574.3,312.7 L573.6,315.1 L572.8,308.6 L572.1,321.5 L571.3,312.2 L570.6,307.4 L569.8,326.9 L569.1,333.9 L568.3,306.8 L567.6,309.7 L566.9,313.3 L566.1,326.8 L565.4,310.7 L564.6,318.8 L563.9,316.0 L563.1,309.8 L562.4,302.3 L561.6,314.7 L560.9,301.9 L560.1,295.0 L559.4,302.0 L558.6,297.7 L557.9,289.9 L557.1,293.0 L556.4,296.0 L555.7,294.1 L554.9,311.8 L554.2,307.6 L553.4,294.9 L552.7,312.4 L551.9,291.1 L551.2,316.5 L550.4,308.6 L549.7,316.5 L548.9,299.9 L548.2,310.7 L547.4,304.1 L546.7,314.1 L545.9,304.3 L545.2,297.3 L544.5,292.8 L543.7,293.0 L543.0,308.6 L542.2,289.5 L541.5,298.4 L540.7,298.5 L540.0,308.2 L539.2,298.0 L538.5,300.3 L537.7,304.0 L537.0,312.1 L536.2,311.4 L535.5,295.8 L534.8,307.0 L534.0,305.5 L533.3,297.4 L532.5,310.7 L531.8,313.9 L531.0,308.1 L530.3,307.7 L529.5,298.1 L528.8,307.1 L528.0,306.3 L527.3,294.7 L526.5,305.7 L525.8,304.1 L525.0,311.5 L524.3,313.8 L523.6,312.3 L522.8,318.6 L522.1,307.6 L521.3,301.1 L520.6,322.5 L519.8,310.5 L519.1,315.8 L518.3,308.7 L517.6,309.3 L516.8,316.3 L516.1,309.4 L515.3,313.5 L514.6,314.0 L513.8,315.5 L513.1,315.1 L512.4,314.8 L511.6,330.2 L510.9,333.1 L510.1,315.4 L509.4,324.9 L508.6,308.6 L507.9,312.6 L507.1,324.1 L506.4,324.6 L505.6,309.7 L504.9,307.3 L504.1,300.6 L503.4,292.1 L502.6,294.4 L501.9,288.4 L501.2,297.4 L500.4,295.3 L499.7,295.1 L498.9,273.0 L498.2,294.8 L497.4,291.6 L496.7,291.3 L495.9,303.6 L495.2,299.5 L494.4,296.9 L493.7,306.0 L492.9,317.0 L492.2,306.1 L491.5,299.6 L490.7,293.1 L490.0,284.1 L489.2,304.2 L488.5,301.7 L487.7,297.6 L487.0,309.6 L486.2,314.0 L485.5,302.8 L484.7,300.5Z" fill="#619CFF" fill-opacity="0.055"/>
<path d="M484.7,263.2 L485.5,261.5 L486.2,261.5 L487.0,263.8 L487.7,257.0 L488.5,256.9 L489.2,257.6 L490.0,240.8 L490.7,255.4 L491.5,250.5 L492.2,257.9 L492.9,273.7 L493.7,270.7 L494.4,255.6 L495.2,259.2 L495.9,257.9 L496.7,255.2 L497.4,254.8 L498.2,240.8 L498.9,237.9 L499.7,247.2 L500.4,237.6 L501.2,253.0 L501.9,249.1 L502.6,249.2 L503.4,255.4 L504.1,257.2 L504.9,260.5 L505.6,265.1 L506.4,273.6 L507.1,279.4 L507.9,268.8 L508.6,270.9 L509.4,282.8 L510.1,279.0 L510.9,287.9 L511.6,277.7 L512.4,270.1 L513.1,274.0 L513.8,268.6 L514.6,271.5 L515.3,266.0 L516.1,273.0 L516.8,276.1 L517.6,269.1 L518.3,265.3 L519.1,273.0 L519.8,267.6 L520.6,279.2 L521.3,253.0 L522.1,257.0 L522.8,274.7 L523.6,258.9 L524.3,265.3 L525.0,264.9 L525.8,257.1 L526.5,265.8 L527.3,252.8 L528.0,261.1 L528.8,254.0 L529.5,256.5 L530.3,266.0 L531.0,264.7 L531.8,259.3 L532.5,267.2 L533.3,257.9 L534.0,260.5 L534.8,270.0 L535.5,260.0 L536.2,271.3 L537.0,267.4 L537.7,267.9 L538.5,256.9 L539.2,264.6 L540.0,264.3 L540.7,256.7 L541.5,264.0 L542.2,246.9 L543.0,261.2 L543.7,250.5 L544.5,252.7 L545.2,255.0 L545.9,264.8 L546.7,268.2 L547.4,255.0 L548.2,268.1 L548.9,264.2 L549.7,279.4 L550.4,268.3 L551.2,263.9 L551.9,256.1 L552.7,264.6 L553.4,253.5 L554.2,268.1 L554.9,259.5 L555.7,248.0 L556.4,254.9 L557.1,244.5 L557.9,248.8 L558.6,251.2 L559.4,257.9 L560.1,246.7 L560.9,266.5 L561.6,267.5 L562.4,263.3 L563.1,272.9 L563.9,280.7 L564.6,269.0 L565.4,272.9 L566.1,274.2 L566.9,272.7 L567.6,266.1 L568.3,270.7 L569.1,274.9 L569.8,277.2 L570.6,262.0 L571.3,270.6 L572.1,278.8 L572.8,270.3 L573.6,278.6 L574.3,269.4 L575.1,267.0 L575.8,270.2 L576.6,268.5 L577.3,268.2 L578.0,269.0 L578.8,285.1 L579.5,285.6 L580.3,278.3 L581.0,269.6 L581.8,270.6 L582.5,272.9 L583.3,274.9 L584.0,265.9 L584.8,260.6 L585.5,271.0 L586.3,266.2 L587.0,265.0 L587.8,258.0 L588.5,276.3 L589.2,279.1 L590.0,259.8 L590.7,277.6 L591.5,283.4 L592.2,264.6 L593.0,271.7 L593.7,278.3 L594.5,291.0 L595.2,276.6 L596.0,277.5 L596.7,290.0 L597.5,272.9 L598.2,280.5 L599.0,281.1 L599.7,271.9 L600.4,271.6 L601.2,275.3 L601.9,274.7 L602.7,265.2 L603.4,258.5 L604.2,261.4 L604.9,264.2 L605.7,264.6 L606.4,265.4 L607.2,250.4 L607.9,247.3 L608.7,242.6 L609.4,252.7 L610.2,259.6 L610.9,264.2 L611.6,266.4 L612.4,269.3 L613.1,276.4 L613.9,269.4 L614.6,268.3 L615.4,276.9 L616.1,281.1 L616.9,260.4 L617.6,280.7 L618.4,277.2 L619.1,274.6 L619.9,272.8 L620.6,268.7 L621.3,264.4 L622.1,275.8 L622.8,268.4 L623.6,273.4 L624.3,286.3 L625.1,290.9 L625.8,295.6 L626.6,270.8 L627.3,292.5 L628.1,272.3 L628.8,293.1 L629.6,284.4 L630.3,286.8 L631.1,289.8 L631.8,275.6 L632.5,288.8 L633.3,285.3 L634.0,271.7 L634.8,284.2 L635.5,269.3 L636.3,254.3 L637.0,267.2 L637.8,282.3 L638.5,259.2 L639.3,252.3 L640.0,260.1 L640.8,259.0 L641.5,262.5 L642.3,260.2 L643.0,262.1 L643.7,267.8 L644.5,259.9 L645.2,250.4 L646.0,250.0 L646.7,258.9 L647.5,265.3 L648.2,268.7 L649.0,262.9 L649.7,263.6 L650.5,270.9 L651.2,265.2 L652.0,262.8 L652.7,273.8 L653.5,277.0 L654.2,271.9 L654.9,267.6 L655.7,270.6 L656.4,275.6 L657.2,284.4 L657.9,285.7 L658.7,285.5 L659.4,269.7 L660.2,279.5 L660.9,281.5 L661.7,272.5 L662.4,274.6 L663.2,284.0 L663.9,279.8 L664.6,283.6 L665.4,285.3 L666.1,286.1 L666.9,281.9 L667.6,277.5 L668.4,282.8 L669.1,283.8 L669.9,284.4 L670.6,276.1 L671.4,279.1 L671.4,323.1 L670.6,322.5 L669.9,318.0 L669.1,314.9 L668.4,320.6 L667.6,320.0 L666.9,325.3 L666.1,318.7 L665.4,318.3 L664.6,320.8 L663.9,313.5 L663.2,320.9 L662.4,312.7 L661.7,308.5 L660.9,324.8 L660.2,308.9 L659.4,307.9 L658.7,321.5 L657.9,316.9 L657.2,315.1 L656.4,310.8 L655.7,313.7 L654.9,310.3 L654.2,303.0 L653.5,310.2 L652.7,311.3 L652.0,307.5 L651.2,318.4 L650.5,311.7 L649.7,304.7 L649.0,302.0 L648.2,311.4 L647.5,302.8 L646.7,293.5 L646.0,286.9 L645.2,285.6 L644.5,293.9 L643.7,304.0 L643.0,299.9 L642.3,299.7 L641.5,294.3 L640.8,302.6 L640.0,289.5 L639.3,291.7 L638.5,304.9 L637.8,324.6 L637.0,304.3 L636.3,305.9 L635.5,310.3 L634.8,313.8 L634.0,308.0 L633.3,320.5 L632.5,330.4 L631.8,308.7 L631.1,331.4 L630.3,330.6 L629.6,319.4 L628.8,324.7 L628.1,311.7 L627.3,323.3 L626.6,307.4 L625.8,327.7 L625.1,326.6 L624.3,320.4 L623.6,323.6 L622.8,322.0 L622.1,307.9 L621.3,304.1 L620.6,304.9 L619.9,322.1 L619.1,315.2 L618.4,311.0 L617.6,312.5 L616.9,303.3 L616.1,321.2 L615.4,306.8 L614.6,308.0 L613.9,310.2 L613.1,311.7 L612.4,304.6 L611.6,304.5 L610.9,296.3 L610.2,301.3 L609.4,288.0 L608.7,278.7 L607.9,283.5 L607.2,293.0 L606.4,299.5 L605.7,305.7 L604.9,295.5 L604.2,298.0 L603.4,304.7 L602.7,304.4 L601.9,310.6 L601.2,312.6 L600.4,309.7 L599.7,313.2 L599.0,316.5 L598.2,317.1 L597.5,306.0 L596.7,322.1 L596.0,319.3 L595.2,320.6 L594.5,322.8 L593.7,320.2 L593.0,311.8 L592.2,305.0 L591.5,315.5 L590.7,332.6 L590.0,300.0 L589.2,313.8 L588.5,310.3 L587.8,302.5 L587.0,306.1 L586.3,302.8 L585.5,310.5 L584.8,297.0 L584.0,303.7 L583.3,305.6 L582.5,307.0 L581.8,309.4 L581.0,306.7 L580.3,310.7 L579.5,316.7 L578.8,329.3 L578.0,303.0 L577.3,314.1 L576.6,309.2 L575.8,314.5 L575.1,312.6 L574.3,310.0 L573.6,313.7 L572.8,307.2 L572.1,312.0 L571.3,308.3 L570.6,302.9 L569.8,312.0 L569.1,316.9 L568.3,300.2 L567.6,303.9 L566.9,317.6 L566.1,318.2 L565.4,306.3 L564.6,320.1 L563.9,319.2 L563.1,304.8 L562.4,299.0 L561.6,301.2 L560.9,311.1 L560.1,294.1 L559.4,291.0 L558.6,291.5 L557.9,283.4 L557.1,291.2 L556.4,286.3 L555.7,287.5 L554.9,306.7 L554.2,302.8 L553.4,291.0 L552.7,298.7 L551.9,297.8 L551.2,319.5 L550.4,297.7 L549.7,325.9 L548.9,295.5 L548.2,303.3 L547.4,298.0 L546.7,308.9 L545.9,294.6 L545.2,291.2 L544.5,283.3 L543.7,287.5 L543.0,303.2 L542.2,284.1 L541.5,296.6 L540.7,296.0 L540.0,298.2 L539.2,302.5 L538.5,292.1 L537.7,300.0 L537.0,300.6 L536.2,306.6 L535.5,297.7 L534.8,301.0 L534.0,314.5 L533.3,293.4 L532.5,300.5 L531.8,307.1 L531.0,296.9 L530.3,306.5 L529.5,296.7 L528.8,292.3 L528.0,296.8 L527.3,289.9 L526.5,304.6 L525.8,294.0 L525.0,311.2 L524.3,301.7 L523.6,300.7 L522.8,306.9 L522.1,307.0 L521.3,291.7 L520.6,315.9 L519.8,310.2 L519.1,304.3 L518.3,304.6 L517.6,309.2 L516.8,320.9 L516.1,302.3 L515.3,299.4 L514.6,300.1 L513.8,319.9 L513.1,307.9 L512.4,314.5 L511.6,318.7 L510.9,318.1 L510.1,311.6 L509.4,317.6 L508.6,311.4 L507.9,307.6 L507.1,314.5 L506.4,314.2 L505.6,306.9 L504.9,309.6 L504.1,296.7 L503.4,294.0 L502.6,289.8 L501.9,281.1 L501.2,285.7 L500.4,286.5 L499.7,287.2 L498.9,278.6 L498.2,282.1 L497.4,299.8 L496.7,284.2 L495.9,303.1 L495.2,298.4 L494.4,297.6 L493.7,303.3 L492.9,307.9 L492.2,294.1 L491.5,284.8 L490.7,291.6 L490.0,278.1 L489.2,302.5 L488.5,309.0 L487.7,303.1 L487.0,298.4 L486.2,301.3 L485.5,298.6 L484.7,293.5Z" fill="#619CFF" fill-opacity="0.11"/>
<path d="M67.3,649.8 L68.1,628.3 L68.8,609.1 L69.6,582.7 L70.3,562.8 L71.1,537.2 L71.8,514.5 L72.6,494.1 L73.3,493.4 L74.1,500.8 L74.8,511.0 L75.5,520.3 L76.3,527.6 L77.0,527.2 L77.8,532.9 L78.5,533.4 L79.3,534.5 L80.0,538.0 L80.8,532.4 L81.5,535.4 L82.3,536.4 L83.0,541.6 L83.8,541.1 L84.5,545.3 L85.2,547.9 L86.0,546.9 L86.7,555.6 L87.5,560.0 L88.2,563.4 L89.0,568.4 L89.7,572.9 L90.5,575.8 L91.2,574.4 L92.0,574.3 L92.7,571.0 L93.5,570.9 L94.2,571.4 L95.0,567.2 L95.7,567.9 L96.4,564.1 L97.2,565.5 L97.9,567.3 L98.7,563.8 L99.4,564.8 L100.2,559.3 L100.9,561.0 L101.7,557.0 L102.4,563.5 L103.2,561.9 L103.9,565.2 L104.7,566.9 L105.4,576.8 L106.2,574.8 L106.9,575.7 L107.6,580.3 L108.4,578.3 L109.1,584.1 L109.9,580.3 L110.6,578.0 L111.4,580.5 L112.1,575.8 L112.9,575.5 L113.6,570.8 L114.4,567.4 L115.1,563.3 L115.9,570.3 L116.6,567.1 L117.4,566.5 L118.1,572.9 L118.8,570.5 L119.6,569.9 L120.3,571.6 L121.1,569.9 L121.8,579.4 L122.6,579.5 L123.3,576.5 L124.1,585.5 L124.8,580.9 L125.6,575.4 L126.3,576.2 L127.1,569.6 L127.8,580.0 L128.5,581.0 L129.3,582.7 L130.0,580.2 L130.8,579.4 L131.5,583.6 L132.3,583.9 L133.0,586.2 L133.8,580.9 L134.5,580.7 L135.3,577.2 L136.0,569.6 L136.8,575.2 L137.5,570.9 L138.3,571.1 L139.0,567.8 L139.7,571.9 L140.5,567.7 L141.2,573.0 L142.0,571.4 L142.7,571.5 L143.5,572.9 L144.2,569.6 L145.0,569.5 L145.7,564.8 L146.5,569.7 L147.2,569.3 L148.0,564.8 L148.7,567.3 L149.5,567.3 L150.2,564.2 L150.9,565.5 L151.7,569.7 L152.4,564.9 L153.2,568.5 L153.9,572.9 L154.7,571.0 L155.4,574.7 L156.2,577.8 L156.9,577.3 L157.7,579.8 L158.4,582.2 L159.2,582.1 L159.9,586.1 L160.7,582.1 L161.4,582.3 L162.1,577.0 L162.9,581.1 L163.6,582.5 L164.4,586.7 L165.1,585.9 L165.9,587.4 L166.6,587.6 L167.4,584.1 L168.1,576.5 L168.9,574.6 L169.6,578.4 L170.4,584.5 L171.1,588.3 L171.8,587.0 L172.6,591.3 L173.3,588.6 L174.1,592.0 L174.8,583.6 L175.6,586.3 L176.3,584.5 L177.1,588.3 L177.8,591.1 L178.6,589.3 L179.3,583.9 L180.1,576.8 L180.8,578.5 L181.6,571.6 L182.3,573.5 L183.0,573.6 L183.8,571.1 L184.5,572.2 L185.3,577.0 L186.0,580.1 L186.8,577.1 L187.5,577.1 L188.3,574.7 L189.0,583.3 L189.8,580.8 L190.5,583.9 L191.3,581.4 L192.0,579.3 L192.8,580.8 L193.5,584.1 L194.2,579.9 L195.0,588.0 L195.7,585.1 L196.5,582.7 L197.2,578.3 L198.0,577.0 L198.7,575.6 L199.5,576.0 L200.2,573.1 L201.0,577.2 L201.7,575.1 L202.5,578.0 L203.2,577.4 L203.9,582.3 L204.7,582.6 L205.4,583.2 L206.2,582.2 L206.9,583.8 L207.7,585.3 L208.4,583.3 L209.2,586.7 L209.9,587.8 L210.7,586.9 L211.4,591.9 L212.2,590.4 L212.9,590.6 L213.7,588.2 L214.4,590.9 L215.1,588.0 L215.9,584.7 L216.6,587.7 L217.4,587.3 L218.1,585.2 L218.9,577.0 L219.6,579.1 L220.4,575.5 L221.1,572.0 L221.9,577.6 L222.6,579.0 L223.4,580.7 L224.1,588.7 L224.9,578.5 L225.6,581.4 L226.3,580.2 L227.1,578.8 L227.8,576.9 L228.6,576.4 L229.3,577.6 L230.1,574.1 L230.8,575.6 L231.6,583.6 L232.3,579.2 L233.1,576.3 L233.8,574.2 L234.6,575.9 L235.3,571.8 L236.1,572.1 L236.8,570.9 L237.5,571.8 L238.3,573.3 L239.0,576.1 L239.8,569.7 L240.5,574.0 L241.3,574.3 L242.0,571.5 L242.8,569.5 L243.5,564.5 L244.3,570.2 L245.0,574.9 L245.8,578.4 L246.5,574.9 L247.2,577.5 L248.0,579.4 L248.7,586.4 L249.5,584.0 L250.2,584.9 L251.0,581.0 L251.7,585.6 L252.5,581.6 L253.2,582.7 L254.0,580.6 L254.0,601.6 L253.2,603.3 L252.5,599.9 L251.7,604.8 L251.0,606.2 L250.2,609.3 L249.5,604.5 L248.7,607.8 L248.0,599.6 L247.2,603.1 L246.5,602.6 L245.8,597.9 L245.0,598.5 L244.3,591.1 L243.5,585.6 L242.8,592.3 L242.0,591.9 L241.3,594.9 L240.5,597.4 L239.8,589.2 L239.0,596.8 L238.3,594.8 L237.5,593.5 L236.8,592.2 L236.1,591.8 L235.3,595.0 L234.6,594.3 L233.8,600.6 L233.1,596.3 L232.3,600.4 L231.6,602.6 L230.8,599.1 L230.1,597.5 L229.3,599.4 L228.6,596.9 L227.8,601.3 L227.1,600.4 L226.3,599.9 L225.6,600.3 L224.9,602.1 L224.1,609.1 L223.4,600.5 L222.6,603.3 L221.9,601.2 L221.1,591.8 L220.4,597.5 L219.6,602.6 L218.9,601.1 L218.1,607.3 L217.4,606.5 L216.6,607.5 L215.9,607.4 L215.1,615.0 L214.4,610.8 L213.7,609.3 L212.9,614.5 L212.2,610.3 L211.4,611.1 L210.7,608.1 L209.9,607.1 L209.2,608.1 L208.4,604.8 L207.7,605.2 L206.9,604.4 L206.2,603.1 L205.4,607.6 L204.7,604.9 L203.9,602.4 L203.2,597.8 L202.5,597.1 L201.7,594.6 L201.0,597.5 L200.2,596.3 L199.5,597.3 L198.7,602.0 L198.0,598.4 L197.2,597.3 L196.5,601.2 L195.7,604.6 L195.0,607.3 L194.2,602.4 L193.5,604.7 L192.8,601.4 L192.0,599.5 L191.3,599.8 L190.5,605.2 L189.8,601.2 L189.0,601.8 L188.3,596.4 L187.5,599.9 L186.8,595.3 L186.0,600.4 L185.3,595.9 L184.5,592.7 L183.8,591.3 L183.0,596.3 L182.3,598.2 L181.6,593.4 L180.8,600.8 L180.1,597.4 L179.3,602.1 L178.6,610.4 L177.8,611.9 L177.1,611.2 L176.3,610.0 L175.6,607.4 L174.8,603.8 L174.1,612.8 L173.3,609.8 L172.6,612.3 L171.8,609.7 L171.1,609.6 L170.4,607.4 L169.6,597.1 L168.9,597.8 L168.1,598.1 L167.4,603.1 L166.6,606.2 L165.9,609.1 L165.1,607.6 L164.4,609.9 L163.6,601.0 L162.9,601.5 L162.1,599.6 L161.4,603.4 L160.7,602.9 L159.9,606.3 L159.2,603.6 L158.4,602.6 L157.7,600.6 L156.9,599.6 L156.2,595.9 L155.4,593.1 L154.7,591.7 L153.9,595.1 L153.2,588.7 L152.4,587.9 L151.7,593.3 L150.9,589.8 L150.2,587.4 L149.5,588.4 L148.7,589.6 L148.0,589.1 L147.2,591.3 L146.5,591.4 L145.7,587.7 L145.0,591.6 L144.2,592.6 L143.5,593.9 L142.7,591.3 L142.0,592.6 L141.2,591.7 L140.5,588.2 L139.7,591.0 L139.0,592.2 L138.3,593.3 L137.5,593.6 L136.8,596.3 L136.0,596.6 L135.3,602.1 L134.5,602.7 L133.8,599.5 L133.0,611.5 L132.3,601.8 L131.5,603.5 L130.8,601.9 L130.0,604.2 L129.3,600.8 L128.5,599.6 L127.8,597.9 L127.1,595.7 L126.3,599.0 L125.6,599.2 L124.8,603.0 L124.1,607.6 L123.3,596.6 L122.6,599.2 L121.8,597.7 L121.1,592.8 L120.3,592.9 L119.6,590.1 L118.8,590.7 L118.1,594.7 L117.4,591.0 L116.6,588.2 L115.9,592.0 L115.1,585.8 L114.4,587.5 L113.6,593.2 L112.9,598.0 L112.1,595.3 L111.4,600.8 L110.6,598.2 L109.9,599.5 L109.1,603.3 L108.4,601.6 L107.6,601.0 L106.9,594.5 L106.2,599.0 L105.4,596.1 L104.7,586.1 L103.9,587.4 L103.2,580.2 L102.4,582.1 L101.7,583.1 L100.9,585.3 L100.2,579.1 L99.4,584.8 L98.7,586.8 L97.9,589.2 L97.2,588.9 L96.4,587.5 L95.7,589.3 L95.0,592.9 L94.2,593.3 L93.5,592.5 L92.7,595.0 L92.0,601.3 L91.2,607.4 L90.5,601.1 L89.7,598.5 L89.0,593.6 L88.2,593.2 L87.5,588.7 L86.7,585.4 L86.0,580.3 L85.2,577.4 L84.5,573.5 L83.8,570.6 L83.0,575.8 L82.3,568.5 L81.5,566.2 L80.8,563.7 L80.0,568.1 L79.3,563.7 L78.5,564.7 L77.8,560.5 L77.0,558.8 L76.3,555.1 L75.5,546.3 L74.8,536.6 L74.1,525.1 L73.3,516.6 L72.6,519.4 L71.8,538.2 L71.1,561.4 L70.3,584.3 L69.6,607.3 L68.8,633.9 L68.1,649.8 L67.3,674.4Z" fill="#F8766D" fill-opacity="0.05"/>
<path d="M67.3,653.7 L68.1,631.1 L68.8,610.2 L69.6,584.1 L70.3,565.4 L71.1,534.0 L71.8,513.3 L72.6,496.7 L73.3,494.8 L74.1,501.8 L74.8,513.9 L75.5,518.7 L76.3,531.5 L77.0,532.0 L77.8,531.3 L78.5,534.2 L79.3,538.3 L80.0,537.7 L80.8,536.5 L81.5,540.1 L82.3,540.2 L83.0,545.2 L83.8,543.2 L84.5,549.0 L85.2,550.4 L86.0,552.9 L86.7,557.8 L87.5,562.1 L88.2,565.8 L89.0,570.8 L89.7,575.4 L90.5,578.2 L91.2,581.0 L92.0,579.4 L92.7,571.6 L93.5,573.3 L94.2,568.3 L95.0,574.7 L95.7,570.4 L96.4,565.7 L97.2,571.0 L97.9,570.5 L98.7,565.2 L99.4,566.6 L100.2,558.2 L100.9,561.4 L101.7,564.2 L102.4,564.5 L103.2,561.3 L103.9,570.5 L104.7,570.0 L105.4,578.4 L106.2,575.8 L106.9,577.1 L107.6,581.0 L108.4,578.1 L109.1,585.8 L109.9,579.7 L110.6,577.0 L111.4,582.8 L112.1,579.0 L112.9,578.9 L113.6,571.5 L114.4,569.4 L115.1,567.1 L115.9,572.8 L116.6,569.7 L117.4,562.9 L118.1,573.7 L118.8,568.9 L119.6,572.2 L120.3,575.2 L121.1,577.0 L121.8,579.3 L122.6,582.1 L123.3,577.8 L124.1,583.9 L124.8,585.6 L125.6,577.6 L126.3,580.4 L127.1,576.8 L127.8,581.4 L128.5,580.2 L129.3,584.5 L130.0,583.7 L130.8,583.1 L131.5,583.4 L132.3,585.7 L133.0,587.9 L133.8,578.9 L134.5,583.4 L135.3,580.1 L136.0,576.3 L136.8,576.3 L137.5,574.2 L138.3,572.7 L139.0,572.3 L139.7,572.9 L140.5,569.9 L141.2,575.4 L142.0,575.2 L142.7,573.9 L143.5,575.6 L144.2,575.2 L145.0,571.2 L145.7,566.1 L146.5,570.6 L147.2,571.5 L148.0,567.4 L148.7,570.4 L149.5,570.6 L150.2,571.5 L150.9,564.6 L151.7,570.5 L152.4,569.6 L153.2,567.8 L153.9,573.2 L154.7,573.4 L155.4,574.2 L156.2,578.9 L156.9,580.2 L157.7,577.9 L158.4,578.2 L159.2,584.2 L159.9,590.0 L160.7,585.2 L161.4,585.1 L162.1,581.2 L162.9,579.3 L163.6,584.6 L164.4,587.8 L165.1,589.0 L165.9,590.7 L166.6,587.8 L167.4,586.0 L168.1,578.9 L168.9,575.9 L169.6,578.0 L170.4,587.7 L171.1,587.4 L171.8,590.3 L172.6,590.4 L173.3,592.7 L174.1,591.8 L174.8,587.2 L175.6,586.1 L176.3,590.3 L177.1,588.4 L177.8,595.4 L178.6,591.6 L179.3,586.1 L180.1,580.3 L180.8,579.8 L181.6,573.7 L182.3,580.4 L183.0,574.9 L183.8,574.5 L184.5,574.1 L185.3,578.1 L186.0,582.0 L186.8,576.3 L187.5,581.2 L188.3,580.2 L189.0,584.1 L189.8,581.5 L190.5,580.1 L191.3,583.5 L192.0,580.1 L192.8,581.7 L193.5,582.1 L194.2,585.0 L195.0,587.9 L195.7,582.9 L196.5,583.8 L197.2,579.7 L198.0,581.5 L198.7,582.5 L199.5,574.5 L200.2,579.2 L201.0,579.5 L201.7,576.6 L202.5,579.8 L203.2,573.2 L203.9,584.8 L204.7,585.0 L205.4,586.2 L206.2,585.5 L206.9,585.7 L207.7,584.0 L208.4,588.0 L209.2,589.7 L209.9,590.6 L210.7,584.6 L211.4,591.0 L212.2,593.3 L212.9,592.2 L213.7,593.0 L214.4,592.3 L215.1,590.8 L215.9,589.9 L216.6,591.9 L217.4,587.7 L218.1,588.4 L218.9,583.5 L219.6,582.2 L220.4,579.6 L221.1,573.6 L221.9,578.7 L222.6,577.5 L223.4,582.9 L224.1,592.5 L224.9,583.7 L225.6,578.1 L226.3,580.0 L227.1,579.0 L227.8,581.1 L228.6,578.0 L229.3,579.4 L230.1,574.8 L230.8,580.7 L231.6,584.0 L232.3,583.1 L233.1,580.1 L233.8,577.7 L234.6,574.1 L235.3,577.0 L236.1,574.9 L236.8,574.5 L237.5,576.6 L238.3,571.0 L239.0,577.4 L239.8,571.8 L240.5,577.9 L241.3,574.2 L242.0,574.4 L242.8,572.7 L243.5,563.2 L244.3,571.2 L245.0,577.4 L245.8,582.0 L246.5,583.0 L247.2,583.6 L248.0,582.8 L248.7,588.8 L249.5,586.5 L250.2,586.1 L251.0,586.2 L251.7,584.9 L252.5,583.9 L253.2,584.6 L254.0,580.9 L254.0,600.5 L253.2,600.7 L252.5,602.6 L251.7,603.9 L251.0,602.1 L250.2,603.6 L249.5,604.6 L248.7,609.3 L248.0,599.0 L247.2,597.3 L246.5,600.2 L245.8,595.7 L245.0,592.6 L244.3,588.6 L243.5,586.5 L242.8,589.9 L242.0,589.0 L241.3,590.8 L240.5,592.3 L239.8,587.2 L239.0,593.1 L238.3,592.7 L237.5,592.2 L236.8,589.6 L236.1,591.8 L235.3,591.4 L234.6,591.6 L233.8,596.2 L233.1,595.0 L232.3,598.7 L231.6,601.4 L230.8,598.8 L230.1,593.0 L229.3,594.3 L228.6,592.2 L227.8,598.7 L227.1,597.8 L226.3,598.2 L225.6,597.9 L224.9,599.6 L224.1,606.3 L223.4,597.4 L222.6,597.5 L221.9,597.3 L221.1,590.4 L220.4,598.4 L219.6,599.7 L218.9,598.4 L218.1,605.0 L217.4,605.0 L216.6,609.2 L215.9,605.8 L215.1,608.3 L214.4,610.2 L213.7,610.5 L212.9,606.8 L212.2,607.8 L211.4,611.0 L210.7,604.2 L209.9,607.4 L209.2,607.5 L208.4,603.3 L207.7,607.3 L206.9,602.0 L206.2,604.5 L205.4,600.4 L204.7,600.2 L203.9,598.9 L203.2,595.6 L202.5,594.9 L201.7,592.1 L201.0,595.8 L200.2,593.4 L199.5,593.7 L198.7,596.0 L198.0,600.0 L197.2,595.6 L196.5,599.2 L195.7,602.7 L195.0,604.7 L194.2,599.5 L193.5,603.2 L192.8,597.6 L192.0,597.9 L191.3,598.1 L190.5,601.8 L189.8,598.3 L189.0,599.7 L188.3,594.3 L187.5,598.6 L186.8,593.8 L186.0,600.1 L185.3,594.2 L184.5,589.2 L183.8,592.4 L183.0,592.9 L182.3,594.2 L181.6,592.7 L180.8,597.3 L180.1,595.5 L179.3,603.1 L178.6,606.3 L177.8,610.0 L177.1,608.0 L176.3,612.7 L175.6,603.9 L174.8,603.7 L174.1,608.9 L173.3,605.7 L172.6,607.9 L171.8,609.0 L171.1,606.1 L170.4,607.7 L169.6,597.8 L168.9,593.8 L168.1,595.3 L167.4,603.9 L166.6,605.2 L165.9,604.6 L165.1,608.2 L164.4,605.6 L163.6,599.9 L162.9,598.5 L162.1,596.8 L161.4,600.9 L160.7,600.4 L159.9,607.0 L159.2,607.5 L158.4,601.0 L157.7,598.1 L156.9,598.2 L156.2,593.6 L155.4,593.6 L154.7,590.4 L153.9,589.1 L153.2,586.1 L152.4,584.2 L151.7,587.4 L150.9,585.2 L150.2,589.4 L149.5,589.5 L148.7,585.7 L148.0,583.2 L147.2,586.6 L146.5,586.5 L145.7,584.3 L145.0,587.8 L144.2,590.0 L143.5,591.9 L142.7,588.3 L142.0,589.0 L141.2,589.2 L140.5,587.3 L139.7,589.1 L139.0,588.8 L138.3,591.5 L137.5,589.6 L136.8,592.9 L136.0,592.5 L135.3,597.7 L134.5,598.6 L133.8,599.9 L133.0,605.7 L132.3,600.3 L131.5,601.8 L130.8,601.0 L130.0,601.2 L129.3,599.8 L128.5,597.6 L127.8,602.4 L127.1,594.6 L126.3,594.2 L125.6,594.1 L124.8,600.8 L124.1,604.9 L123.3,597.8 L122.6,596.2 L121.8,597.1 L121.1,591.3 L120.3,589.6 L119.6,587.6 L118.8,587.8 L118.1,588.5 L117.4,583.8 L116.6,588.2 L115.9,589.0 L115.1,583.3 L114.4,584.0 L113.6,588.5 L112.9,594.6 L112.1,594.4 L111.4,599.8 L110.6,595.0 L109.9,597.8 L109.1,600.3 L108.4,598.6 L107.6,598.1 L106.9,591.8 L106.2,592.5 L105.4,599.1 L104.7,587.8 L103.9,588.3 L103.2,578.6 L102.4,580.1 L101.7,581.6 L100.9,580.5 L100.2,576.7 L99.4,581.2 L98.7,585.8 L97.9,588.6 L97.2,586.9 L96.4,587.9 L95.7,588.7 L95.0,591.4 L94.2,592.8 L93.5,590.1 L92.7,595.6 L92.0,599.2 L91.2,601.5 L90.5,596.9 L89.7,597.7 L89.0,590.5 L88.2,590.4 L87.5,583.4 L86.7,583.2 L86.0,576.6 L85.2,573.6 L84.5,573.3 L83.8,569.0 L83.0,569.2 L82.3,562.5 L81.5,561.8 L80.8,562.3 L80.0,563.9 L79.3,559.8 L78.5,560.9 L77.8,559.4 L77.0,556.8 L76.3,551.5 L75.5,542.4 L74.8,536.1 L74.1,522.2 L73.3,514.6 L72.6,517.8 L71.8,536.4 L71.1,559.3 L70.3,582.5 L69.6,603.8 L68.8,627.2 L68.1,647.1 L67.3,672.2Z" fill="#F8766D" fill-opacity="0.08"/>
<path d="M276.0,690.7 L276.8,693.6 L277.5,670.8 L278.3,652.3 L279.0,631.1 L279.8,610.1 L280.5,584.7 L281.3,571.7 L282.0,568.2 L282.8,569.4 L283.5,580.2 L284.2,581.3 L285.0,584.8 L285.7,581.1 L286.5,585.1 L287.2,584.0 L288.0,583.2 L288.7,588.3 L289.5,591.6 L290.2,596.3 L291.0,595.1 L291.7,597.7 L292.5,601.3 L293.2,602.1 L293.9,607.3 L294.7,608.6 L295.4,606.4 L296.2,604.2 L296.9,611.7 L297.7,612.7 L298.4,614.1 L299.2,606.9 L299.9,614.2 L300.7,615.3 L301.4,609.2 L302.2,609.2 L302.9,612.4 L303.7,607.6 L304.4,608.0 L305.1,606.0 L305.9,599.0 L306.6,602.2 L307.4,597.7 L308.1,604.5 L308.9,602.1 L309.6,601.4 L310.4,601.5 L311.1,599.8 L311.9,605.1 L312.6,610.1 L313.4,607.1 L314.1,610.2 L314.9,617.8 L315.6,611.2 L316.3,614.9 L317.1,612.5 L317.8,615.3 L318.6,612.2 L319.3,610.3 L320.1,602.5 L320.8,611.3 L321.6,608.8 L322.3,606.8 L323.1,611.8 L323.8,613.9 L324.6,613.1 L325.3,615.5 L326.1,614.3 L326.8,619.9 L327.5,621.2 L328.3,627.0 L329.0,627.3 L329.8,624.7 L330.5,627.2 L331.3,619.3 L332.0,627.6 L332.8,621.1 L333.5,620.2 L334.3,624.8 L335.0,622.5 L335.8,625.5 L336.5,616.1 L337.2,622.2 L338.0,618.3 L338.7,612.4 L339.5,612.6 L340.2,619.5 L341.0,619.4 L341.7,616.9 L342.5,614.0 L343.2,616.0 L344.0,621.6 L344.7,618.5 L345.5,618.4 L346.2,619.6 L347.0,615.5 L347.7,614.9 L348.4,619.9 L349.2,615.9 L349.9,618.0 L350.7,612.4 L351.4,613.9 L352.2,609.3 L352.9,613.4 L353.7,614.2 L354.4,616.5 L355.2,614.7 L355.9,620.9 L356.7,616.1 L357.4,617.4 L358.2,621.1 L358.9,623.7 L359.6,615.0 L360.4,615.7 L361.1,619.2 L361.9,618.9 L362.6,619.9 L363.4,621.6 L364.1,619.5 L364.9,617.2 L365.6,611.5 L366.4,619.9 L367.1,617.3 L367.9,620.4 L368.6,624.6 L369.4,621.7 L370.1,619.8 L370.8,619.9 L371.6,619.7 L372.3,618.9 L373.1,625.4 L373.8,623.6 L374.6,622.8 L375.3,623.2 L376.1,623.3 L376.8,621.9 L377.6,627.2 L378.3,621.5 L379.1,618.8 L379.8,625.4 L380.5,625.3 L381.3,627.2 L382.0,625.6 L382.8,617.3 L383.5,624.4 L384.3,623.7 L385.0,622.7 L385.8,622.4 L386.5,621.5 L387.3,626.9 L388.0,627.6 L388.8,622.2 L389.5,626.3 L390.3,627.3 L391.0,620.8 L391.7,621.9 L392.5,620.9 L393.2,620.1 L394.0,623.1 L394.7,622.7 L395.5,622.2 L396.2,622.3 L397.0,621.8 L397.7,613.0 L398.5,619.9 L399.2,618.4 L400.0,610.7 L400.7,617.4 L401.5,612.2 L402.2,615.5 L402.9,616.2 L403.7,609.4 L404.4,612.4 L405.2,613.8 L405.9,616.2 L406.7,617.4 L407.4,623.3 L408.2,616.0 L408.9,616.8 L409.7,618.0 L410.4,620.4 L411.2,621.3 L411.9,617.4 L412.6,617.5 L413.4,620.3 L414.1,616.5 L414.9,618.4 L415.6,615.4 L416.4,615.3 L417.1,623.1 L417.9,618.3 L418.6,615.0 L419.4,617.0 L420.1,615.5 L420.9,617.6 L421.6,607.3 L422.4,610.4 L423.1,614.5 L423.8,610.1 L424.6,612.3 L425.3,614.3 L426.1,617.4 L426.8,610.1 L427.6,612.3 L428.3,616.0 L429.1,616.4 L429.8,615.4 L430.6,618.2 L431.3,616.8 L432.1,617.4 L432.8,625.6 L433.6,619.9 L434.3,620.7 L435.0,619.8 L435.8,622.4 L436.5,624.0 L437.3,619.5 L438.0,621.0 L438.8,622.9 L439.5,622.1 L440.3,624.1 L441.0,622.0 L441.8,621.1 L442.5,621.7 L443.3,623.3 L444.0,618.5 L444.8,624.0 L445.5,622.7 L446.2,621.7 L447.0,612.8 L447.7,625.3 L448.5,619.9 L449.2,623.3 L450.0,627.2 L450.7,624.4 L451.5,622.6 L452.2,619.3 L453.0,624.4 L453.7,623.6 L454.5,623.1 L455.2,623.1 L455.9,622.1 L456.7,620.9 L457.4,621.6 L458.2,620.8 L458.9,626.3 L459.7,618.9 L460.4,622.9 L461.2,628.2 L461.9,633.3 L462.7,625.9 L462.7,653.9 L461.9,660.2 L461.2,652.8 L460.4,654.0 L459.7,648.0 L458.9,654.4 L458.2,650.3 L457.4,647.1 L456.7,650.5 L455.9,651.3 L455.2,652.2 L454.5,655.2 L453.7,656.7 L453.0,649.7 L452.2,647.2 L451.5,654.5 L450.7,651.9 L450.0,658.7 L449.2,648.7 L448.5,646.4 L447.7,652.9 L447.0,648.9 L446.2,653.4 L445.5,651.5 L444.8,653.6 L444.0,646.4 L443.3,654.3 L442.5,653.3 L441.8,652.5 L441.0,649.6 L440.3,649.7 L439.5,650.2 L438.8,653.0 L438.0,648.6 L437.3,649.4 L436.5,652.7 L435.8,653.8 L435.0,655.4 L434.3,653.0 L433.6,652.3 L432.8,651.4 L432.1,647.6 L431.3,646.8 L430.6,644.3 L429.8,640.5 L429.1,642.7 L428.3,643.4 L427.6,638.2 L426.8,641.5 L426.1,643.9 L425.3,645.8 L424.6,637.8 L423.8,639.5 L423.1,641.0 L422.4,640.9 L421.6,640.4 L420.9,643.4 L420.1,644.0 L419.4,645.2 L418.6,647.7 L417.9,645.9 L417.1,650.8 L416.4,645.2 L415.6,645.2 L414.9,652.8 L414.1,641.7 L413.4,646.5 L412.6,648.8 L411.9,648.0 L411.2,654.0 L410.4,652.5 L409.7,646.1 L408.9,643.5 L408.2,648.3 L407.4,651.0 L406.7,645.0 L405.9,642.4 L405.2,644.4 L404.4,638.7 L403.7,637.1 L402.9,646.0 L402.2,644.2 L401.5,640.9 L400.7,644.4 L400.0,642.0 L399.2,645.4 L398.5,646.7 L397.7,643.4 L397.0,648.5 L396.2,654.3 L395.5,650.2 L394.7,656.4 L394.0,650.8 L393.2,648.9 L392.5,649.9 L391.7,653.6 L391.0,653.0 L390.3,658.8 L389.5,657.5 L388.8,650.0 L388.0,656.8 L387.3,657.1 L386.5,649.2 L385.8,650.7 L385.0,649.5 L384.3,651.2 L383.5,652.1 L382.8,652.9 L382.0,654.6 L381.3,654.7 L380.5,662.2 L379.8,652.0 L379.1,647.7 L378.3,651.0 L377.6,657.4 L376.8,655.0 L376.1,649.5 L375.3,652.2 L374.6,649.9 L373.8,651.8 L373.1,655.2 L372.3,651.4 L371.6,650.3 L370.8,644.5 L370.1,652.6 L369.4,647.9 L368.6,651.8 L367.9,654.9 L367.1,649.4 L366.4,645.7 L365.6,639.1 L364.9,646.6 L364.1,647.0 L363.4,651.3 L362.6,648.7 L361.9,650.7 L361.1,644.5 L360.4,649.7 L359.6,646.2 L358.9,650.3 L358.2,649.4 L357.4,643.8 L356.7,648.1 L355.9,647.2 L355.2,642.8 L354.4,641.2 L353.7,645.2 L352.9,643.1 L352.2,643.3 L351.4,645.6 L350.7,640.1 L349.9,648.4 L349.2,645.6 L348.4,647.8 L347.7,644.0 L347.0,648.5 L346.2,646.9 L345.5,643.9 L344.7,643.8 L344.0,647.7 L343.2,645.4 L342.5,641.9 L341.7,644.2 L341.0,646.4 L340.2,647.7 L339.5,645.6 L338.7,646.2 L338.0,648.8 L337.2,648.7 L336.5,649.9 L335.8,655.3 L335.0,650.6 L334.3,656.8 L333.5,653.7 L332.8,650.4 L332.0,653.4 L331.3,654.1 L330.5,658.5 L329.8,654.3 L329.0,652.8 L328.3,653.1 L327.5,657.3 L326.8,646.1 L326.1,644.6 L325.3,642.7 L324.6,641.7 L323.8,642.8 L323.1,637.7 L322.3,635.3 L321.6,638.9 L320.8,636.9 L320.1,632.7 L319.3,639.3 L318.6,643.7 L317.8,646.7 L317.1,640.1 L316.3,647.0 L315.6,642.7 L314.9,646.0 L314.1,638.8 L313.4,640.9 L312.6,636.2 L311.9,635.5 L311.1,630.6 L310.4,630.8 L309.6,627.3 L308.9,630.7 L308.1,635.0 L307.4,631.0 L306.6,627.9 L305.9,630.0 L305.1,633.0 L304.4,641.6 L303.7,636.4 L302.9,643.2 L302.2,642.7 L301.4,637.1 L300.7,641.4 L299.9,646.5 L299.2,643.7 L298.4,641.8 L297.7,643.3 L296.9,642.3 L296.2,641.4 L295.4,634.2 L294.7,642.3 L293.9,638.2 L293.2,636.3 L292.5,636.0 L291.7,631.6 L291.0,634.0 L290.2,638.9 L289.5,631.7 L288.7,632.5 L288.0,635.4 L287.2,627.6 L286.5,630.4 L285.7,632.6 L285.0,633.7 L284.2,628.4 L283.5,626.8 L282.8,621.1 L282.0,613.6 L281.3,615.9 L280.5,627.1 L279.8,647.5 L279.0,669.5 L278.3,688.0 L277.5,705.3 L276.8,727.9 L276.0,718.9Z" fill="#00BA38" fill-opacity="0.07"/>
<path d="M276.0,690.6 L276.8,696.6 L277.5,674.0 L278.3,657.1 L279.0,634.3 L279.8,615.4 L280.5,591.8 L281.3,580.6 L282.0,573.5 L282.8,577.6 L283.5,585.0 L284.2,583.6 L285.0,587.3 L285.7,586.7 L286.5,588.3 L287.2,586.6 L288.0,592.2 L288.7,590.3 L289.5,594.5 L290.2,599.4 L291.0,600.8 L291.7,597.6 L292.5,603.4 L293.2,609.2 L293.9,608.9 L294.7,614.6 L295.4,605.1 L296.2,614.0 L296.9,615.6 L297.7,615.9 L298.4,614.0 L299.2,613.7 L299.9,617.7 L300.7,616.0 L301.4,613.5 L302.2,612.3 L302.9,615.9 L303.7,608.9 L304.4,610.5 L305.1,610.7 L305.9,608.4 L306.6,599.5 L307.4,603.0 L308.1,609.0 L308.9,603.8 L309.6,604.3 L310.4,607.6 L311.1,604.9 L311.9,606.5 L312.6,612.0 L313.4,611.6 L314.1,614.8 L314.9,615.5 L315.6,616.1 L316.3,619.3 L317.1,616.5 L317.8,617.3 L318.6,615.4 L319.3,614.5 L320.1,609.5 L320.8,613.0 L321.6,611.5 L322.3,605.8 L323.1,613.2 L323.8,615.3 L324.6,610.1 L325.3,619.6 L326.1,613.6 L326.8,622.8 L327.5,623.9 L328.3,630.5 L329.0,627.8 L329.8,627.5 L330.5,633.1 L331.3,626.5 L332.0,629.1 L332.8,624.5 L333.5,625.3 L334.3,622.8 L335.0,627.8 L335.8,626.9 L336.5,622.1 L337.2,623.9 L338.0,619.0 L338.7,622.3 L339.5,619.9 L340.2,626.4 L341.0,622.6 L341.7,615.7 L342.5,615.3 L343.2,618.3 L344.0,624.8 L344.7,618.4 L345.5,620.5 L346.2,619.0 L347.0,620.6 L347.7,619.6 L348.4,623.6 L349.2,619.0 L349.9,617.5 L350.7,617.9 L351.4,618.2 L352.2,618.0 L352.9,618.2 L353.7,613.3 L354.4,618.8 L355.2,620.3 L355.9,623.8 L356.7,621.0 L357.4,619.7 L358.2,623.4 L358.9,626.9 L359.6,623.7 L360.4,624.0 L361.1,622.1 L361.9,620.1 L362.6,622.3 L363.4,624.5 L364.1,620.2 L364.9,618.8 L365.6,614.7 L366.4,622.4 L367.1,622.8 L367.9,625.3 L368.6,627.7 L369.4,625.7 L370.1,623.7 L370.8,621.3 L371.6,627.7 L372.3,626.9 L373.1,628.3 L373.8,627.0 L374.6,623.3 L375.3,629.4 L376.1,625.7 L376.8,629.7 L377.6,629.6 L378.3,622.5 L379.1,624.3 L379.8,626.5 L380.5,626.7 L381.3,627.6 L382.0,629.4 L382.8,624.1 L383.5,627.7 L384.3,627.8 L385.0,623.5 L385.8,621.8 L386.5,624.7 L387.3,628.4 L388.0,630.0 L388.8,626.8 L389.5,629.9 L390.3,626.4 L391.0,627.4 L391.7,628.9 L392.5,625.8 L393.2,626.1 L394.0,623.6 L394.7,624.9 L395.5,622.6 L396.2,627.3 L397.0,624.0 L397.7,619.1 L398.5,624.1 L399.2,618.7 L400.0,617.7 L400.7,620.1 L401.5,619.3 L402.2,617.5 L402.9,623.7 L403.7,613.2 L404.4,615.1 L405.2,616.5 L405.9,618.4 L406.7,619.5 L407.4,624.9 L408.2,624.6 L408.9,620.9 L409.7,621.2 L410.4,626.2 L411.2,627.3 L411.9,616.1 L412.6,623.6 L413.4,622.5 L414.1,618.5 L414.9,620.6 L415.6,618.6 L416.4,620.7 L417.1,623.9 L417.9,620.9 L418.6,623.3 L419.4,617.0 L420.1,614.8 L420.9,618.5 L421.6,609.7 L422.4,613.2 L423.1,615.0 L423.8,613.9 L424.6,615.9 L425.3,620.7 L426.1,621.2 L426.8,616.8 L427.6,615.6 L428.3,620.2 L429.1,619.3 L429.8,617.3 L430.6,618.9 L431.3,620.4 L432.1,616.6 L432.8,628.5 L433.6,621.4 L434.3,621.5 L435.0,623.8 L435.8,629.3 L436.5,625.6 L437.3,622.9 L438.0,620.3 L438.8,626.0 L439.5,624.6 L440.3,625.7 L441.0,622.2 L441.8,624.4 L442.5,625.6 L443.3,625.1 L444.0,622.4 L444.8,627.1 L445.5,625.9 L446.2,624.1 L447.0,619.9 L447.7,630.5 L448.5,622.0 L449.2,626.2 L450.0,630.4 L450.7,626.1 L451.5,627.7 L452.2,621.3 L453.0,625.1 L453.7,629.4 L454.5,627.5 L455.2,628.8 L455.9,625.0 L456.7,618.8 L457.4,621.8 L458.2,621.9 L458.9,627.0 L459.7,624.1 L460.4,631.2 L461.2,630.4 L461.9,634.4 L462.7,630.7 L462.7,652.0 L461.9,656.0 L461.2,651.4 L460.4,654.3 L459.7,644.3 L458.9,655.6 L458.2,646.4 L457.4,644.9 L456.7,650.9 L455.9,648.5 L455.2,647.4 L454.5,649.9 L453.7,650.9 L453.0,650.6 L452.2,644.7 L451.5,649.7 L450.7,648.9 L450.0,654.3 L449.2,645.4 L448.5,644.1 L447.7,649.7 L447.0,645.7 L446.2,647.7 L445.5,646.8 L444.8,647.6 L444.0,642.5 L443.3,648.6 L442.5,648.5 L441.8,648.6 L441.0,647.9 L440.3,650.5 L439.5,645.0 L438.8,646.1 L438.0,645.5 L437.3,643.6 L436.5,649.7 L435.8,652.7 L435.0,647.0 L434.3,650.3 L433.6,645.5 L432.8,650.1 L432.1,640.0 L431.3,642.0 L430.6,639.6 L429.8,636.8 L429.1,644.7 L428.3,641.8 L427.6,634.8 L426.8,638.6 L426.1,640.2 L425.3,640.7 L424.6,636.9 L423.8,635.8 L423.1,639.0 L422.4,635.1 L421.6,633.3 L420.9,638.9 L420.1,641.4 L419.4,645.5 L418.6,643.8 L417.9,643.5 L417.1,647.1 L416.4,640.6 L415.6,639.8 L414.9,647.6 L414.1,641.9 L413.4,645.6 L412.6,648.6 L411.9,642.2 L411.2,650.8 L410.4,652.7 L409.7,644.7 L408.9,642.2 L408.2,648.1 L407.4,647.0 L406.7,641.2 L405.9,640.8 L405.2,642.7 L404.4,638.4 L403.7,633.9 L402.9,642.3 L402.2,643.0 L401.5,641.1 L400.7,641.9 L400.0,638.9 L399.2,642.9 L398.5,645.8 L397.7,639.0 L397.0,644.6 L396.2,649.4 L395.5,644.5 L394.7,648.0 L394.0,646.4 L393.2,646.4 L392.5,645.8 L391.7,648.6 L391.0,650.2 L390.3,655.4 L389.5,650.6 L388.8,647.0 L388.0,656.8 L387.3,650.1 L386.5,647.3 L385.8,648.3 L385.0,645.6 L384.3,648.5 L383.5,650.3 L382.8,648.3 L382.0,651.1 L381.3,652.5 L380.5,653.4 L379.8,650.2 L379.1,645.3 L378.3,649.4 L377.6,652.7 L376.8,650.3 L376.1,645.1 L375.3,651.0 L374.6,646.5 L373.8,647.9 L373.1,651.9 L372.3,647.9 L371.6,647.1 L370.8,641.9 L370.1,646.0 L369.4,645.1 L368.6,647.6 L367.9,648.3 L367.1,642.9 L366.4,644.4 L365.6,636.3 L364.9,643.2 L364.1,648.5 L363.4,644.0 L362.6,645.8 L361.9,648.1 L361.1,641.2 L360.4,644.3 L359.6,642.8 L358.9,648.6 L358.2,649.1 L357.4,644.8 L356.7,643.3 L355.9,644.6 L355.2,642.8 L354.4,640.9 L353.7,642.5 L352.9,639.2 L352.2,637.3 L351.4,639.9 L350.7,639.5 L349.9,646.8 L349.2,647.4 L348.4,643.2 L347.7,642.0 L347.0,640.6 L346.2,642.6 L345.5,639.7 L344.7,643.9 L344.0,644.5 L343.2,638.9 L342.5,640.3 L341.7,640.0 L341.0,642.8 L340.2,647.1 L339.5,638.9 L338.7,641.8 L338.0,645.7 L337.2,643.6 L336.5,641.2 L335.8,650.1 L335.0,649.3 L334.3,650.9 L333.5,649.0 L332.8,649.3 L332.0,650.7 L331.3,645.4 L330.5,655.0 L329.8,649.8 L329.0,649.0 L328.3,656.1 L327.5,645.3 L326.8,641.3 L326.1,637.3 L325.3,639.2 L324.6,636.5 L323.8,637.3 L323.1,636.1 L322.3,635.5 L321.6,633.9 L320.8,635.9 L320.1,631.6 L319.3,637.0 L318.6,643.0 L317.8,641.4 L317.1,639.8 L316.3,643.8 L315.6,637.0 L314.9,645.5 L314.1,633.9 L313.4,633.5 L312.6,633.2 L311.9,628.9 L311.1,630.3 L310.4,629.9 L309.6,623.9 L308.9,629.4 L308.1,632.9 L307.4,630.4 L306.6,624.3 L305.9,629.7 L305.1,631.3 L304.4,633.7 L303.7,634.9 L302.9,641.4 L302.2,634.6 L301.4,632.2 L300.7,639.0 L299.9,639.0 L299.2,637.2 L298.4,639.3 L297.7,639.3 L296.9,636.4 L296.2,635.5 L295.4,631.6 L294.7,635.7 L293.9,633.2 L293.2,632.1 L292.5,629.1 L291.7,628.8 L291.0,627.9 L290.2,634.6 L289.5,627.0 L288.7,624.9 L288.0,623.9 L287.2,621.7 L286.5,625.5 L285.7,624.3 L285.0,625.0 L284.2,621.9 L283.5,618.6 L282.8,608.8 L282.0,608.9 L281.3,614.5 L280.5,625.8 L279.8,643.0 L279.0,665.0 L278.3,681.3 L277.5,701.5 L276.8,721.8 L276.0,715.8Z" fill="#00BA38" fill-opacity="0.13"/>
<path d="M276.0,692.2 L276.8,691.6 L277.5,678.4 L278.3,653.6 L279.0,635.6 L279.8,613.7 L280.5,596.3 L281.3,568.0 L282.0,573.2 L282.8,581.4 L283.5,594.6 L284.2,598.9 L285.0,597.9 L285.7,597.7 L286.5,603.2 L287.2,598.8 L288.0,602.5 L288.7,606.1 L289.5,613.4 L290.2,619.0 L291.0,613.8 L291.7,614.0 L292.5,615.4 L293.2,613.5 L293.9,614.1 L294.7,612.4 L295.4,618.0 L296.2,611.7 L296.9,609.2 L297.7,613.0 L298.4,620.8 L299.2,619.8 L299.9,615.9 L300.7,614.3 L301.4,613.4 L302.2,621.3 L302.9,619.6 L303.7,619.3 L304.4,611.7 L305.1,617.7 L305.9,613.3 L306.6,617.1 L307.4,617.5 L308.1,612.7 L308.9,622.0 L309.6,619.5 L310.4,625.4 L311.1,627.4 L311.9,621.4 L312.6,627.3 L313.4,626.8 L314.1,621.7 L314.9,612.2 L315.6,620.8 L316.3,620.6 L317.1,616.2 L317.8,618.7 L318.6,620.5 L319.3,617.6 L320.1,618.0 L320.8,617.7 L321.6,623.9 L322.3,614.4 L323.1,615.0 L323.8,617.0 L324.6,623.2 L325.3,617.8 L326.1,621.8 L326.8,623.9 L327.5,620.9 L328.3,622.6 L329.0,630.3 L329.8,628.5 L330.5,629.5 L331.3,629.6 L332.0,630.5 L332.8,629.4 L333.5,628.0 L334.3,628.6 L335.0,630.3 L335.8,633.4 L336.5,629.8 L337.2,634.0 L338.0,630.6 L338.7,632.9 L339.5,629.9 L340.2,632.6 L341.0,629.0 L341.7,630.5 L342.5,628.0 L343.2,632.7 L344.0,625.7 L344.7,627.6 L345.5,629.1 L346.2,634.2 L347.0,637.3 L347.7,636.1 L348.4,641.1 L349.2,627.3 L349.9,633.7 L350.7,634.8 L351.4,635.3 L352.2,627.2 L352.9,624.2 L353.7,623.7 L354.4,628.4 L355.2,626.3 L355.9,628.5 L356.7,628.9 L357.4,621.7 L358.2,620.9 L358.9,626.0 L359.6,627.8 L360.4,619.7 L361.1,625.8 L361.9,627.7 L362.6,627.9 L363.4,629.3 L364.1,629.3 L364.9,625.3 L365.6,624.3 L366.4,626.8 L367.1,623.9 L367.9,625.1 L368.6,623.6 L369.4,626.4 L370.1,625.8 L370.8,626.3 L371.6,625.0 L372.3,627.1 L373.1,630.6 L373.8,635.9 L374.6,630.7 L375.3,632.7 L376.1,629.2 L376.8,622.2 L377.6,623.6 L378.3,623.7 L379.1,623.4 L379.8,619.9 L380.5,625.5 L381.3,624.2 L382.0,626.8 L382.8,629.0 L383.5,627.5 L384.3,624.5 L385.0,626.3 L385.8,627.7 L386.5,626.7 L387.3,632.2 L388.0,624.8 L388.8,629.0 L389.5,635.2 L390.3,627.1 L391.0,627.8 L391.7,627.8 L392.5,624.9 L393.2,625.2 L394.0,625.1 L394.7,626.5 L395.5,623.9 L396.2,629.9 L397.0,626.6 L397.7,622.7 L398.5,625.1 L399.2,627.1 L400.0,627.2 L400.7,624.8 L401.5,627.3 L402.2,629.9 L402.9,627.5 L403.7,624.5 L404.4,629.8 L405.2,629.5 L405.9,628.7 L406.7,622.2 L407.4,624.9 L408.2,624.2 L408.9,621.9 L409.7,622.5 L410.4,627.5 L411.2,624.7 L411.9,627.7 L412.6,625.3 L413.4,627.1 L414.1,631.8 L414.9,625.9 L415.6,632.1 L416.4,625.7 L417.1,630.7 L417.9,628.1 L418.6,633.5 L419.4,626.7 L420.1,634.1 L420.9,625.6 L421.6,629.6 L422.4,626.7 L423.1,628.8 L423.8,619.5 L424.6,624.3 L425.3,628.5 L426.1,623.6 L426.8,629.5 L427.6,627.1 L428.3,628.1 L429.1,628.2 L429.8,632.7 L430.6,630.9 L431.3,624.8 L432.1,627.0 L432.8,626.1 L433.6,628.9 L434.3,628.6 L435.0,622.7 L435.8,629.7 L436.5,632.5 L437.3,628.0 L438.0,637.4 L438.8,629.9 L439.5,629.0 L440.3,629.8 L441.0,624.4 L441.8,627.0 L442.5,626.7 L443.3,629.3 L444.0,626.5 L444.8,625.8 L445.5,628.0 L446.2,623.8 L447.0,627.5 L447.7,621.3 L448.5,625.9 L449.2,629.5 L450.0,627.0 L450.7,627.7 L451.5,626.7 L452.2,617.0 L453.0,623.8 L453.7,621.8 L454.5,626.9 L455.2,616.8 L455.9,619.3 L456.7,614.9 L457.4,614.2 L458.2,612.4 L458.9,611.3 L459.7,614.6 L460.4,609.8 L461.2,618.5 L461.9,615.3 L462.7,619.1 L462.7,654.2 L461.9,647.3 L461.2,645.8 L460.4,639.2 L459.7,639.5 L458.9,636.7 L458.2,642.6 L457.4,640.5 L456.7,642.7 L455.9,646.2 L455.2,647.1 L454.5,654.4 L453.7,647.4 L453.0,654.5 L452.2,648.8 L451.5,653.6 L450.7,654.8 L450.0,660.9 L449.2,655.5 L448.5,660.8 L447.7,653.6 L447.0,660.9 L446.2,650.6 L445.5,655.3 L444.8,655.4 L444.0,657.4 L443.3,661.0 L442.5,658.1 L441.8,653.1 L441.0,655.8 L440.3,660.8 L439.5,657.3 L438.8,657.1 L438.0,665.2 L437.3,658.2 L436.5,663.6 L435.8,657.7 L435.0,656.6 L434.3,660.3 L433.6,658.2 L432.8,660.5 L432.1,660.3 L431.3,651.9 L430.6,656.7 L429.8,660.0 L429.1,663.0 L428.3,657.3 L427.6,653.9 L426.8,659.5 L426.1,649.6 L425.3,656.9 L424.6,649.5 L423.8,653.0 L423.1,657.3 L422.4,656.7 L421.6,654.7 L420.9,655.3 L420.1,660.4 L419.4,655.7 L418.6,668.2 L417.9,662.4 L417.1,665.1 L416.4,655.0 L415.6,660.1 L414.9,655.9 L414.1,661.1 L413.4,658.0 L412.6,651.1 L411.9,653.4 L411.2,654.3 L410.4,653.7 L409.7,652.8 L408.9,650.7 L408.2,651.4 L407.4,651.8 L406.7,648.9 L405.9,653.6 L405.2,660.2 L404.4,655.4 L403.7,652.1 L402.9,659.3 L402.2,658.6 L401.5,660.3 L400.7,650.2 L400.0,657.9 L399.2,656.1 L398.5,653.5 L397.7,656.3 L397.0,655.0 L396.2,656.6 L395.5,652.1 L394.7,653.4 L394.0,651.2 L393.2,654.4 L392.5,653.2 L391.7,657.1 L391.0,654.1 L390.3,652.2 L389.5,663.8 L388.8,658.3 L388.0,659.1 L387.3,660.4 L386.5,657.3 L385.8,654.6 L385.0,657.2 L384.3,652.2 L383.5,656.5 L382.8,659.0 L382.0,654.1 L381.3,649.7 L380.5,661.2 L379.8,651.3 L379.1,650.0 L378.3,652.9 L377.6,654.3 L376.8,649.2 L376.1,656.3 L375.3,659.7 L374.6,656.9 L373.8,661.4 L373.1,659.5 L372.3,654.3 L371.6,654.5 L370.8,653.6 L370.1,654.9 L369.4,652.6 L368.6,651.9 L367.9,655.9 L367.1,653.0 L366.4,656.4 L365.6,658.0 L364.9,655.7 L364.1,659.7 L363.4,658.3 L362.6,655.6 L361.9,658.9 L361.1,654.2 L360.4,656.2 L359.6,657.5 L358.9,655.7 L358.2,649.7 L357.4,648.0 L356.7,658.4 L355.9,657.5 L355.2,652.2 L354.4,658.2 L353.7,651.8 L352.9,655.3 L352.2,661.7 L351.4,663.9 L350.7,659.5 L349.9,663.0 L349.2,661.3 L348.4,667.1 L347.7,662.6 L347.0,666.0 L346.2,660.0 L345.5,661.1 L344.7,660.7 L344.0,655.4 L343.2,657.4 L342.5,655.3 L341.7,658.9 L341.0,657.0 L340.2,658.8 L339.5,658.1 L338.7,658.4 L338.0,658.5 L337.2,663.8 L336.5,658.6 L335.8,661.6 L335.0,658.5 L334.3,659.0 L333.5,657.0 L332.8,656.8 L332.0,659.7 L331.3,658.3 L330.5,657.5 L329.8,658.9 L329.0,655.6 L328.3,651.4 L327.5,649.7 L326.8,650.8 L326.1,653.7 L325.3,644.1 L324.6,652.1 L323.8,643.6 L323.1,647.6 L322.3,648.1 L321.6,649.6 L320.8,645.6 L320.1,650.6 L319.3,646.4 L318.6,649.1 L317.8,644.8 L317.1,643.5 L316.3,648.8 L315.6,646.2 L314.9,645.8 L314.1,650.3 L313.4,654.1 L312.6,652.8 L311.9,650.2 L311.1,654.2 L310.4,657.0 L309.6,646.5 L308.9,649.2 L308.1,645.3 L307.4,643.8 L306.6,648.6 L305.9,645.4 L305.1,647.1 L304.4,644.6 L303.7,644.0 L302.9,647.1 L302.2,646.9 L301.4,644.3 L300.7,642.9 L299.9,649.0 L299.2,652.4 L298.4,652.6 L297.7,643.0 L296.9,644.3 L296.2,646.2 L295.4,646.6 L294.7,645.3 L293.9,644.6 L293.2,646.9 L292.5,648.0 L291.7,647.2 L291.0,648.6 L290.2,656.5 L289.5,651.5 L288.7,645.8 L288.0,643.3 L287.2,638.7 L286.5,644.9 L285.7,642.1 L285.0,638.7 L284.2,641.7 L283.5,636.4 L282.8,619.9 L282.0,613.0 L281.3,607.2 L280.5,634.3 L279.8,653.6 L279.0,668.8 L278.3,689.3 L277.5,710.4 L276.8,720.8 L276.0,722.4Z" fill="#619CFF" fill-opacity="0.065"/>
<path d="M276.0,695.5 L276.8,695.7 L277.5,682.6 L278.3,660.6 L279.0,639.4 L279.8,622.3 L280.5,600.0 L281.3,571.0 L282.0,578.6 L282.8,584.3 L283.5,595.4 L284.2,599.8 L285.0,601.9 L285.7,607.6 L286.5,605.4 L287.2,601.1 L288.0,606.5 L288.7,612.1 L289.5,618.1 L290.2,620.2 L291.0,613.3 L291.7,617.2 L292.5,618.1 L293.2,620.0 L293.9,616.8 L294.7,619.5 L295.4,623.2 L296.2,616.8 L296.9,618.4 L297.7,618.2 L298.4,624.2 L299.2,626.3 L299.9,619.5 L300.7,619.0 L301.4,620.4 L302.2,622.9 L302.9,622.8 L303.7,622.5 L304.4,620.7 L305.1,618.7 L305.9,611.4 L306.6,621.6 L307.4,617.1 L308.1,618.5 L308.9,622.9 L309.6,621.5 L310.4,627.4 L311.1,629.8 L311.9,623.4 L312.6,626.4 L313.4,630.0 L314.1,625.5 L314.9,620.8 L315.6,622.5 L316.3,623.6 L317.1,617.9 L317.8,618.5 L318.6,621.5 L319.3,623.7 L320.1,624.8 L320.8,621.7 L321.6,626.8 L322.3,623.0 L323.1,624.5 L323.8,620.0 L324.6,622.0 L325.3,621.8 L326.1,623.2 L326.8,623.5 L327.5,620.8 L328.3,625.2 L329.0,630.6 L329.8,628.6 L330.5,631.6 L331.3,630.6 L332.0,635.0 L332.8,626.3 L333.5,632.1 L334.3,629.6 L335.0,634.5 L335.8,636.9 L336.5,632.2 L337.2,637.5 L338.0,635.3 L338.7,635.9 L339.5,635.6 L340.2,628.8 L341.0,633.7 L341.7,632.9 L342.5,632.7 L343.2,631.5 L344.0,631.7 L344.7,634.4 L345.5,635.1 L346.2,636.5 L347.0,639.3 L347.7,638.6 L348.4,645.2 L349.2,632.5 L349.9,639.1 L350.7,636.3 L351.4,636.6 L352.2,632.2 L352.9,630.7 L353.7,622.1 L354.4,631.8 L355.2,630.8 L355.9,630.1 L356.7,631.6 L357.4,625.2 L358.2,627.8 L358.9,627.8 L359.6,629.4 L360.4,629.9 L361.1,626.8 L361.9,631.0 L362.6,630.3 L363.4,634.3 L364.1,628.7 L364.9,627.5 L365.6,627.2 L366.4,630.6 L367.1,628.0 L367.9,628.3 L368.6,629.9 L369.4,627.2 L370.1,628.5 L370.8,629.8 L371.6,628.6 L372.3,631.9 L373.1,631.7 L373.8,635.5 L374.6,633.5 L375.3,635.9 L376.1,633.4 L376.8,626.2 L377.6,629.7 L378.3,623.7 L379.1,625.6 L379.8,628.2 L380.5,633.0 L381.3,623.8 L382.0,629.7 L382.8,633.7 L383.5,633.0 L384.3,626.3 L385.0,631.1 L385.8,624.9 L386.5,632.8 L387.3,635.9 L388.0,633.4 L388.8,634.5 L389.5,637.0 L390.3,630.0 L391.0,631.2 L391.7,634.5 L392.5,628.2 L393.2,628.0 L394.0,627.1 L394.7,629.1 L395.5,626.5 L396.2,632.9 L397.0,631.3 L397.7,630.9 L398.5,626.3 L399.2,631.0 L400.0,630.4 L400.7,625.5 L401.5,632.7 L402.2,628.2 L402.9,629.2 L403.7,627.4 L404.4,632.0 L405.2,633.3 L405.9,632.0 L406.7,622.8 L407.4,622.1 L408.2,625.6 L408.9,628.3 L409.7,623.1 L410.4,628.9 L411.2,626.0 L411.9,625.4 L412.6,628.5 L413.4,631.6 L414.1,635.4 L414.9,628.3 L415.6,633.6 L416.4,626.2 L417.1,635.3 L417.9,631.8 L418.6,630.7 L419.4,630.0 L420.1,636.6 L420.9,630.0 L421.6,632.1 L422.4,631.3 L423.1,630.1 L423.8,625.7 L424.6,622.3 L425.3,632.8 L426.1,622.1 L426.8,630.5 L427.6,625.4 L428.3,631.8 L429.1,635.0 L429.8,635.2 L430.6,632.6 L431.3,622.1 L432.1,630.5 L432.8,632.6 L433.6,633.0 L434.3,633.8 L435.0,627.2 L435.8,632.2 L436.5,635.2 L437.3,633.3 L438.0,636.7 L438.8,632.6 L439.5,633.3 L440.3,633.7 L441.0,628.0 L441.8,626.5 L442.5,626.5 L443.3,632.4 L444.0,634.3 L444.8,628.9 L445.5,632.4 L446.2,622.8 L447.0,630.8 L447.7,630.2 L448.5,629.0 L449.2,633.3 L450.0,635.0 L450.7,628.8 L451.5,627.6 L452.2,624.7 L453.0,626.0 L453.7,623.7 L454.5,629.6 L455.2,617.1 L455.9,623.8 L456.7,616.3 L457.4,617.7 L458.2,612.3 L458.9,615.0 L459.7,615.2 L460.4,614.7 L461.2,623.4 L461.9,618.4 L462.7,624.4 L462.7,647.1 L461.9,643.1 L461.2,644.6 L460.4,637.3 L459.7,638.5 L458.9,633.3 L458.2,640.5 L457.4,637.4 L456.7,642.8 L455.9,643.5 L455.2,647.2 L454.5,650.7 L453.7,649.4 L453.0,648.9 L452.2,645.3 L451.5,652.2 L450.7,650.6 L450.0,656.3 L449.2,652.6 L448.5,652.3 L447.7,650.9 L447.0,656.0 L446.2,648.0 L445.5,654.0 L444.8,658.5 L444.0,659.4 L443.3,657.8 L442.5,649.4 L441.8,648.5 L441.0,652.9 L440.3,653.2 L439.5,656.4 L438.8,652.4 L438.0,665.6 L437.3,654.6 L436.5,654.9 L435.8,657.5 L435.0,653.2 L434.3,658.4 L433.6,655.6 L432.8,652.5 L432.1,652.2 L431.3,648.3 L430.6,656.7 L429.8,656.2 L429.1,657.6 L428.3,651.0 L427.6,653.2 L426.8,652.6 L426.1,647.4 L425.3,651.6 L424.6,649.8 L423.8,648.6 L423.1,651.7 L422.4,655.5 L421.6,652.8 L420.9,649.1 L420.1,658.7 L419.4,652.0 L418.6,661.3 L417.9,655.2 L417.1,655.8 L416.4,652.3 L415.6,655.4 L414.9,652.1 L414.1,655.5 L413.4,653.2 L412.6,648.6 L411.9,649.5 L411.2,648.2 L410.4,652.7 L409.7,650.9 L408.9,648.8 L408.2,648.0 L407.4,651.8 L406.7,651.4 L405.9,652.1 L405.2,654.9 L404.4,651.8 L403.7,647.7 L402.9,659.0 L402.2,653.7 L401.5,654.3 L400.7,649.0 L400.0,652.9 L399.2,652.8 L398.5,649.1 L397.7,649.8 L397.0,655.7 L396.2,652.3 L395.5,648.7 L394.7,658.8 L394.0,648.7 L393.2,656.2 L392.5,650.4 L391.7,656.8 L391.0,652.7 L390.3,649.8 L389.5,662.8 L388.8,654.0 L388.0,653.2 L387.3,660.8 L386.5,656.2 L385.8,652.9 L385.0,650.5 L384.3,647.6 L383.5,654.2 L382.8,654.7 L382.0,652.2 L381.3,645.6 L380.5,654.7 L379.8,650.4 L379.1,650.8 L378.3,649.2 L377.6,651.8 L376.8,651.1 L376.1,655.9 L375.3,657.5 L374.6,653.6 L373.8,662.8 L373.1,653.5 L372.3,650.9 L371.6,655.7 L370.8,650.5 L370.1,657.4 L369.4,649.2 L368.6,648.9 L367.9,654.3 L367.1,652.8 L366.4,654.2 L365.6,651.5 L364.9,646.9 L364.1,655.6 L363.4,655.8 L362.6,652.4 L361.9,651.6 L361.1,655.5 L360.4,651.6 L359.6,657.0 L358.9,654.6 L358.2,646.6 L357.4,644.6 L356.7,654.7 L355.9,654.7 L355.2,649.0 L354.4,657.3 L353.7,653.1 L352.9,650.6 L352.2,653.3 L351.4,659.9 L350.7,656.9 L349.9,659.1 L349.2,659.0 L348.4,668.9 L347.7,659.5 L347.0,663.2 L346.2,657.5 L345.5,661.6 L344.7,653.5 L344.0,652.8 L343.2,654.1 L342.5,654.1 L341.7,654.9 L341.0,657.3 L340.2,661.7 L339.5,661.1 L338.7,657.8 L338.0,657.7 L337.2,657.8 L336.5,655.1 L335.8,658.2 L335.0,653.6 L334.3,655.6 L333.5,655.0 L332.8,653.6 L332.0,655.6 L331.3,655.5 L330.5,658.0 L329.8,658.6 L329.0,654.6 L328.3,647.9 L327.5,646.0 L326.8,649.3 L326.1,649.0 L325.3,641.0 L324.6,645.5 L323.8,639.6 L323.1,644.2 L322.3,646.0 L321.6,648.0 L320.8,644.7 L320.1,646.6 L319.3,643.2 L318.6,646.7 L317.8,642.9 L317.1,643.1 L316.3,643.0 L315.6,644.8 L314.9,647.9 L314.1,645.6 L313.4,651.4 L312.6,653.4 L311.9,647.8 L311.1,656.8 L310.4,655.6 L309.6,646.0 L308.9,647.0 L308.1,642.0 L307.4,642.8 L306.6,644.2 L305.9,640.5 L305.1,641.4 L304.4,641.5 L303.7,642.8 L302.9,649.2 L302.2,643.8 L301.4,645.4 L300.7,638.8 L299.9,639.0 L299.2,648.3 L298.4,648.4 L297.7,641.7 L296.9,639.8 L296.2,642.6 L295.4,644.8 L294.7,639.4 L293.9,646.7 L293.2,641.5 L292.5,643.1 L291.7,643.1 L291.0,647.2 L290.2,653.1 L289.5,649.3 L288.7,640.5 L288.0,638.6 L287.2,638.1 L286.5,638.9 L285.7,636.6 L285.0,636.1 L284.2,634.0 L283.5,630.6 L282.8,615.6 L282.0,608.4 L281.3,602.1 L280.5,628.0 L279.8,648.2 L279.0,665.9 L278.3,687.9 L277.5,705.6 L276.8,718.2 L276.0,721.4Z" fill="#619CFF" fill-opacity="0.12"/>
<path d="M484.7,724.5 L485.5,716.1 L486.2,709.7 L487.0,701.0 L487.7,694.8 L488.5,689.8 L489.2,679.6 L490.0,670.2 L490.7,666.3 L491.5,662.7 L492.2,657.3 L492.9,662.0 L493.7,655.9 L494.4,658.1 L495.2,655.1 L495.9,657.2 L496.7,656.6 L497.4,658.0 L498.2,662.3 L498.9,661.1 L499.7,664.6 L500.4,657.6 L501.2,661.9 L501.9,659.3 L502.6,660.9 L503.4,664.9 L504.1,665.6 L504.9,669.9 L505.6,660.5 L506.4,667.4 L507.1,662.4 L507.9,666.3 L508.6,660.5 L509.4,663.2 L510.1,665.3 L510.9,669.9 L511.6,666.7 L512.4,663.8 L513.1,670.5 L513.8,667.4 L514.6,668.8 L515.3,669.3 L516.1,669.2 L516.8,669.4 L517.6,672.3 L518.3,681.0 L519.1,673.0 L519.8,673.6 L520.6,675.0 L521.3,669.8 L522.1,674.7 L522.8,673.5 L523.6,676.6 L524.3,673.4 L525.0,670.6 L525.8,664.1 L526.5,671.1 L527.3,668.3 L528.0,673.3 L528.8,671.9 L529.5,670.5 L530.3,664.2 L531.0,672.7 L531.8,669.8 L532.5,668.1 L533.3,669.6 L534.0,669.4 L534.8,674.7 L535.5,672.1 L536.2,667.4 L537.0,668.2 L537.7,671.7 L538.5,664.5 L539.2,671.8 L540.0,668.8 L540.7,669.2 L541.5,669.3 L542.2,675.2 L543.0,674.1 L543.7,676.9 L544.5,674.1 L545.2,675.0 L545.9,670.4 L546.7,681.3 L547.4,675.6 L548.2,680.1 L548.9,680.0 L549.7,674.5 L550.4,676.3 L551.2,676.2 L551.9,679.9 L552.7,678.4 L553.4,681.6 L554.2,676.0 L554.9,679.6 L555.7,682.6 L556.4,683.2 L557.1,681.5 L557.9,685.6 L558.6,675.0 L559.4,685.3 L560.1,681.7 L560.9,677.7 L561.6,677.2 L562.4,686.9 L563.1,676.6 L563.9,678.5 L564.6,682.7 L565.4,678.2 L566.1,676.1 L566.9,681.4 L567.6,675.5 L568.3,682.8 L569.1,676.8 L569.8,680.6 L570.6,676.2 L571.3,681.3 L572.1,679.8 L572.8,685.2 L573.6,676.3 L574.3,684.3 L575.1,679.6 L575.8,678.3 L576.6,674.1 L577.3,679.9 L578.0,680.6 L578.8,676.0 L579.5,675.8 L580.3,675.4 L581.0,678.0 L581.8,674.3 L582.5,677.1 L583.3,678.2 L584.0,676.3 L584.8,673.5 L585.5,672.3 L586.3,675.7 L587.0,671.4 L587.8,674.2 L588.5,668.8 L589.2,670.9 L590.0,669.8 L590.7,666.8 L591.5,670.4 L592.2,662.7 L593.0,664.9 L593.7,669.8 L594.5,674.2 L595.2,670.9 L596.0,674.3 L596.7,673.3 L597.5,675.9 L598.2,674.1 L599.0,674.5 L599.7,681.2 L600.4,679.5 L601.2,677.2 L601.9,672.2 L602.7,671.5 L603.4,678.2 L604.2,679.9 L604.9,686.7 L605.7,680.2 L606.4,676.6 L607.2,674.3 L607.9,679.1 L608.7,675.1 L609.4,678.8 L610.2,677.4 L610.9,677.2 L611.6,675.4 L612.4,675.3 L613.1,682.1 L613.9,673.0 L614.6,674.3 L615.4,677.2 L616.1,669.4 L616.9,676.4 L617.6,675.9 L618.4,676.0 L619.1,671.3 L619.9,679.3 L620.6,679.6 L621.3,678.5 L622.1,685.1 L622.8,678.8 L623.6,682.1 L624.3,678.8 L625.1,678.1 L625.8,673.6 L626.6,675.3 L627.3,674.5 L628.1,675.0 L628.8,675.9 L629.6,677.8 L630.3,679.3 L631.1,680.0 L631.8,680.2 L632.5,672.0 L633.3,682.9 L634.0,682.1 L634.8,684.6 L635.5,681.7 L636.3,683.9 L637.0,679.3 L637.8,682.0 L638.5,676.7 L639.3,683.4 L640.0,679.4 L640.8,681.5 L641.5,678.5 L642.3,678.9 L643.0,669.6 L643.7,680.3 L644.5,673.8 L645.2,678.2 L646.0,678.9 L646.7,681.5 L647.5,677.7 L648.2,679.1 L649.0,679.2 L649.7,678.0 L650.5,679.7 L651.2,678.8 L652.0,674.7 L652.7,679.3 L653.5,675.5 L654.2,676.8 L654.9,677.6 L655.7,678.2 L656.4,680.6 L657.2,680.8 L657.9,678.9 L658.7,685.2 L659.4,684.4 L660.2,677.6 L660.9,679.5 L661.7,675.6 L662.4,674.0 L663.2,675.3 L663.9,675.3 L664.6,680.9 L665.4,680.4 L666.1,678.5 L666.9,679.6 L667.6,674.1 L668.4,676.3 L669.1,673.2 L669.9,680.4 L670.6,675.6 L671.4,672.0 L671.4,704.7 L670.6,709.6 L669.9,711.7 L669.1,712.1 L668.4,707.0 L667.6,707.1 L666.9,711.5 L666.1,715.5 L665.4,712.6 L664.6,711.7 L663.9,705.0 L663.2,707.6 L662.4,708.5 L661.7,703.5 L660.9,709.5 L660.2,711.7 L659.4,713.1 L658.7,713.8 L657.9,715.0 L657.2,709.4 L656.4,711.4 L655.7,709.4 L654.9,704.6 L654.2,707.0 L653.5,709.2 L652.7,712.0 L652.0,711.3 L651.2,706.6 L650.5,710.8 L649.7,715.7 L649.0,709.8 L648.2,706.5 L647.5,707.2 L646.7,713.1 L646.0,708.2 L645.2,712.3 L644.5,704.0 L643.7,711.2 L643.0,708.5 L642.3,709.6 L641.5,711.8 L640.8,710.8 L640.0,711.6 L639.3,712.7 L638.5,705.0 L637.8,710.6 L637.0,710.7 L636.3,717.5 L635.5,713.3 L634.8,718.6 L634.0,711.7 L633.3,713.9 L632.5,707.2 L631.8,709.4 L631.1,710.8 L630.3,708.1 L629.6,709.0 L628.8,709.0 L628.1,703.3 L627.3,704.4 L626.6,709.3 L625.8,702.4 L625.1,711.2 L624.3,710.3 L623.6,714.2 L622.8,707.0 L622.1,714.6 L621.3,707.2 L620.6,712.2 L619.9,711.0 L619.1,700.1 L618.4,705.9 L617.6,706.6 L616.9,704.9 L616.1,700.5 L615.4,710.1 L614.6,706.9 L613.9,702.5 L613.1,712.7 L612.4,703.4 L611.6,711.6 L610.9,707.9 L610.2,706.8 L609.4,706.8 L608.7,705.8 L607.9,707.3 L607.2,709.2 L606.4,709.9 L605.7,710.8 L604.9,715.9 L604.2,711.4 L603.4,708.1 L602.7,707.5 L601.9,706.6 L601.2,707.0 L600.4,709.6 L599.7,714.3 L599.0,704.6 L598.2,702.7 L597.5,705.9 L596.7,706.0 L596.0,706.7 L595.2,702.8 L594.5,702.8 L593.7,701.5 L593.0,697.8 L592.2,698.1 L591.5,702.2 L590.7,699.0 L590.0,699.7 L589.2,703.6 L588.5,702.0 L587.8,702.3 L587.0,705.2 L586.3,708.5 L585.5,702.3 L584.8,704.8 L584.0,712.5 L583.3,711.2 L582.5,711.2 L581.8,707.0 L581.0,712.1 L580.3,704.4 L579.5,706.0 L578.8,705.5 L578.0,710.4 L577.3,712.7 L576.6,706.5 L575.8,711.8 L575.1,709.2 L574.3,716.8 L573.6,709.3 L572.8,713.7 L572.1,713.8 L571.3,715.2 L570.6,710.4 L569.8,711.3 L569.1,708.3 L568.3,714.8 L567.6,706.3 L566.9,710.9 L566.1,707.7 L565.4,709.9 L564.6,710.0 L563.9,707.5 L563.1,710.7 L562.4,716.7 L561.6,708.1 L560.9,713.0 L560.1,711.1 L559.4,714.2 L558.6,703.6 L557.9,716.1 L557.1,716.0 L556.4,713.4 L555.7,719.5 L554.9,710.7 L554.2,716.7 L553.4,708.8 L552.7,711.9 L551.9,713.1 L551.2,709.2 L550.4,708.7 L549.7,707.0 L548.9,713.3 L548.2,710.1 L547.4,711.5 L546.7,712.4 L545.9,708.3 L545.2,712.2 L544.5,708.5 L543.7,708.1 L543.0,705.7 L542.2,703.9 L541.5,699.7 L540.7,700.7 L540.0,702.7 L539.2,706.6 L538.5,699.2 L537.7,702.0 L537.0,701.4 L536.2,697.3 L535.5,701.3 L534.8,704.4 L534.0,708.4 L533.3,698.6 L532.5,698.0 L531.8,699.8 L531.0,703.5 L530.3,695.8 L529.5,702.7 L528.8,701.5 L528.0,705.8 L527.3,698.7 L526.5,707.3 L525.8,697.2 L525.0,704.1 L524.3,703.3 L523.6,706.1 L522.8,704.8 L522.1,703.4 L521.3,700.0 L520.6,706.7 L519.8,704.3 L519.1,704.5 L518.3,710.7 L517.6,706.8 L516.8,700.9 L516.1,698.1 L515.3,698.2 L514.6,698.7 L513.8,700.6 L513.1,701.7 L512.4,699.2 L511.6,698.9 L510.9,699.4 L510.1,696.4 L509.4,695.9 L508.6,691.3 L507.9,698.0 L507.1,700.4 L506.4,697.2 L505.6,696.1 L504.9,703.0 L504.1,701.2 L503.4,699.5 L502.6,701.0 L501.9,695.3 L501.2,699.7 L500.4,702.6 L499.7,702.9 L498.9,703.6 L498.2,706.0 L497.4,701.8 L496.7,697.8 L495.9,702.4 L495.2,702.3 L494.4,701.9 L493.7,701.6 L492.9,703.7 L492.2,704.8 L491.5,705.5 L490.7,712.3 L490.0,711.5 L489.2,720.6 L488.5,724.8 L487.7,730.4 L487.0,735.8 L486.2,745.5 L485.5,748.7 L484.7,759.6Z" fill="#00BA38" fill-opacity="0.07"/>
<path d="M484.7,728.9 L485.5,717.1 L486.2,714.1 L487.0,704.8 L487.7,696.1 L488.5,689.0 L489.2,687.5 L490.0,677.2 L490.7,666.5 L491.5,668.7 L492.2,665.6 L492.9,668.6 L493.7,661.2 L494.4,663.2 L495.2,665.3 L495.9,664.1 L496.7,657.4 L497.4,660.0 L498.2,668.2 L498.9,665.8 L499.7,668.8 L500.4,663.4 L501.2,668.0 L501.9,665.4 L502.6,665.1 L503.4,668.4 L504.1,671.5 L504.9,675.4 L505.6,665.3 L506.4,671.1 L507.1,672.2 L507.9,669.2 L508.6,663.7 L509.4,666.7 L510.1,667.4 L510.9,670.4 L511.6,674.0 L512.4,673.9 L513.1,675.6 L513.8,667.0 L514.6,670.7 L515.3,671.1 L516.1,673.3 L516.8,675.3 L517.6,678.3 L518.3,679.9 L519.1,679.6 L519.8,673.4 L520.6,678.1 L521.3,670.7 L522.1,675.6 L522.8,678.6 L523.6,677.7 L524.3,676.8 L525.0,671.5 L525.8,670.8 L526.5,675.4 L527.3,671.8 L528.0,676.2 L528.8,675.4 L529.5,675.4 L530.3,666.0 L531.0,676.6 L531.8,674.8 L532.5,668.8 L533.3,670.9 L534.0,673.2 L534.8,677.4 L535.5,675.4 L536.2,667.4 L537.0,669.7 L537.7,672.2 L538.5,670.8 L539.2,675.2 L540.0,669.4 L540.7,674.0 L541.5,674.1 L542.2,679.5 L543.0,676.6 L543.7,680.3 L544.5,678.8 L545.2,682.0 L545.9,681.2 L546.7,682.3 L547.4,686.2 L548.2,684.0 L548.9,684.0 L549.7,680.2 L550.4,678.7 L551.2,677.2 L551.9,683.5 L552.7,680.1 L553.4,683.5 L554.2,687.4 L554.9,684.6 L555.7,687.2 L556.4,688.1 L557.1,685.2 L557.9,684.8 L558.6,678.3 L559.4,688.5 L560.1,686.7 L560.9,681.3 L561.6,679.7 L562.4,688.4 L563.1,678.7 L563.9,683.4 L564.6,679.7 L565.4,680.4 L566.1,679.7 L566.9,683.8 L567.6,682.0 L568.3,685.0 L569.1,679.2 L569.8,683.7 L570.6,678.6 L571.3,686.5 L572.1,676.7 L572.8,687.5 L573.6,681.0 L574.3,688.1 L575.1,684.2 L575.8,684.2 L576.6,681.4 L577.3,681.2 L578.0,683.1 L578.8,678.9 L579.5,677.3 L580.3,680.0 L581.0,685.0 L581.8,681.5 L582.5,682.6 L583.3,674.7 L584.0,679.9 L584.8,675.2 L585.5,675.1 L586.3,675.7 L587.0,677.7 L587.8,675.2 L588.5,671.9 L589.2,676.1 L590.0,674.7 L590.7,670.9 L591.5,673.9 L592.2,669.5 L593.0,671.3 L593.7,669.7 L594.5,677.2 L595.2,672.5 L596.0,677.3 L596.7,679.0 L597.5,679.7 L598.2,673.3 L599.0,675.0 L599.7,680.3 L600.4,683.8 L601.2,677.9 L601.9,678.4 L602.7,683.1 L603.4,680.1 L604.2,681.6 L604.9,690.1 L605.7,684.0 L606.4,685.8 L607.2,682.3 L607.9,682.3 L608.7,680.3 L609.4,680.2 L610.2,678.6 L610.9,683.0 L611.6,680.4 L612.4,676.8 L613.1,680.2 L613.9,676.2 L614.6,679.2 L615.4,680.5 L616.1,675.8 L616.9,676.7 L617.6,679.1 L618.4,677.0 L619.1,675.7 L619.9,683.9 L620.6,682.0 L621.3,683.4 L622.1,688.3 L622.8,678.5 L623.6,685.6 L624.3,679.7 L625.1,679.7 L625.8,678.2 L626.6,678.6 L627.3,675.0 L628.1,679.0 L628.8,678.5 L629.6,681.5 L630.3,681.5 L631.1,682.0 L631.8,683.0 L632.5,679.5 L633.3,685.5 L634.0,684.3 L634.8,688.3 L635.5,687.3 L636.3,684.8 L637.0,683.2 L637.8,685.4 L638.5,670.0 L639.3,685.4 L640.0,685.3 L640.8,685.4 L641.5,682.3 L642.3,685.0 L643.0,681.9 L643.7,681.7 L644.5,680.0 L645.2,684.9 L646.0,683.3 L646.7,682.6 L647.5,682.2 L648.2,679.2 L649.0,683.1 L649.7,680.8 L650.5,682.9 L651.2,681.9 L652.0,680.5 L652.7,681.3 L653.5,682.3 L654.2,678.9 L654.9,679.6 L655.7,676.1 L656.4,684.4 L657.2,683.5 L657.9,687.4 L658.7,686.3 L659.4,684.3 L660.2,680.7 L660.9,682.7 L661.7,676.8 L662.4,680.9 L663.2,683.2 L663.9,680.2 L664.6,685.1 L665.4,684.5 L666.1,679.0 L666.9,683.1 L667.6,679.6 L668.4,678.7 L669.1,682.8 L669.9,681.6 L670.6,682.3 L671.4,678.5 L671.4,701.3 L670.6,706.8 L669.9,704.5 L669.1,704.3 L668.4,704.6 L667.6,702.7 L666.9,706.3 L666.1,703.7 L665.4,708.2 L664.6,708.0 L663.9,701.9 L663.2,704.6 L662.4,703.6 L661.7,703.1 L660.9,704.7 L660.2,706.0 L659.4,708.4 L658.7,710.5 L657.9,711.2 L657.2,708.2 L656.4,708.0 L655.7,705.1 L654.9,703.2 L654.2,701.2 L653.5,710.8 L652.7,708.2 L652.0,703.3 L651.2,704.0 L650.5,712.0 L649.7,704.9 L649.0,709.4 L648.2,707.6 L647.5,704.0 L646.7,708.6 L646.0,706.7 L645.2,708.0 L644.5,701.2 L643.7,706.5 L643.0,705.4 L642.3,707.7 L641.5,705.1 L640.8,706.3 L640.0,711.5 L639.3,710.4 L638.5,701.1 L637.8,707.6 L637.0,710.3 L636.3,709.7 L635.5,709.5 L634.8,709.2 L634.0,707.8 L633.3,706.9 L632.5,704.6 L631.8,708.4 L631.1,709.5 L630.3,704.4 L629.6,704.7 L628.8,704.1 L628.1,703.8 L627.3,702.4 L626.6,704.6 L625.8,701.4 L625.1,709.5 L624.3,707.9 L623.6,711.2 L622.8,703.1 L622.1,710.7 L621.3,706.3 L620.6,703.9 L619.9,706.4 L619.1,698.2 L618.4,701.0 L617.6,703.7 L616.9,705.1 L616.1,700.7 L615.4,708.0 L614.6,703.9 L613.9,700.0 L613.1,706.8 L612.4,700.5 L611.6,706.2 L610.9,705.1 L610.2,704.4 L609.4,703.5 L608.7,704.0 L607.9,705.0 L607.2,704.4 L606.4,708.0 L605.7,707.0 L604.9,712.6 L604.2,708.1 L603.4,708.6 L602.7,707.4 L601.9,706.3 L601.2,703.8 L600.4,704.4 L599.7,706.7 L599.0,704.5 L598.2,701.3 L597.5,704.3 L596.7,703.2 L596.0,704.1 L595.2,698.6 L594.5,699.6 L593.7,695.1 L593.0,693.3 L592.2,690.7 L591.5,699.0 L590.7,697.0 L590.0,696.1 L589.2,701.6 L588.5,695.0 L587.8,700.1 L587.0,700.7 L586.3,707.4 L585.5,702.2 L584.8,703.9 L584.0,701.6 L583.3,703.2 L582.5,707.4 L581.8,708.2 L581.0,711.9 L580.3,701.0 L579.5,699.9 L578.8,700.5 L578.0,707.1 L577.3,706.8 L576.6,702.4 L575.8,706.4 L575.1,705.9 L574.3,711.4 L573.6,707.2 L572.8,711.7 L572.1,705.0 L571.3,707.9 L570.6,707.0 L569.8,713.2 L569.1,704.9 L568.3,709.7 L567.6,708.0 L566.9,706.1 L566.1,702.3 L565.4,705.9 L564.6,709.7 L563.9,705.1 L563.1,708.1 L562.4,713.3 L561.6,701.2 L560.9,708.6 L560.1,709.6 L559.4,710.3 L558.6,702.3 L557.9,710.6 L557.1,714.7 L556.4,713.7 L555.7,711.5 L554.9,712.1 L554.2,709.2 L553.4,710.1 L552.7,707.3 L551.9,705.1 L551.2,708.4 L550.4,703.5 L549.7,704.7 L548.9,707.6 L548.2,708.5 L547.4,707.7 L546.7,706.5 L545.9,705.7 L545.2,707.4 L544.5,702.7 L543.7,702.1 L543.0,702.4 L542.2,701.9 L541.5,699.5 L540.7,700.5 L540.0,696.4 L539.2,698.7 L538.5,694.8 L537.7,698.8 L537.0,696.1 L536.2,693.0 L535.5,698.6 L534.8,699.8 L534.0,697.4 L533.3,697.0 L532.5,694.2 L531.8,695.8 L531.0,699.3 L530.3,691.7 L529.5,698.0 L528.8,697.7 L528.0,706.8 L527.3,695.7 L526.5,699.7 L525.8,698.9 L525.0,702.1 L524.3,700.3 L523.6,703.7 L522.8,705.2 L522.1,704.8 L521.3,695.5 L520.6,699.8 L519.8,699.1 L519.1,703.2 L518.3,707.0 L517.6,701.6 L516.8,696.8 L516.1,694.2 L515.3,698.6 L514.6,694.3 L513.8,693.6 L513.1,696.4 L512.4,695.1 L511.6,696.0 L510.9,698.0 L510.1,692.0 L509.4,692.3 L508.6,689.4 L507.9,691.7 L507.1,695.3 L506.4,695.1 L505.6,691.1 L504.9,700.1 L504.1,696.9 L503.4,693.6 L502.6,692.8 L501.9,691.3 L501.2,695.7 L500.4,693.8 L499.7,698.3 L498.9,695.6 L498.2,701.0 L497.4,695.9 L496.7,696.1 L495.9,697.6 L495.2,698.0 L494.4,697.8 L493.7,694.7 L492.9,701.1 L492.2,696.2 L491.5,699.8 L490.7,704.6 L490.0,707.7 L489.2,717.2 L488.5,722.2 L487.7,726.2 L487.0,730.8 L486.2,738.3 L485.5,743.7 L484.7,755.0Z" fill="#00BA38" fill-opacity="0.13"/>
<path d="M484.7,727.4 L485.5,714.5 L486.2,696.7 L487.0,679.8 L487.7,653.1 L488.5,639.8 L489.2,619.7 L490.0,635.3 L490.7,638.9 L491.5,637.9 L492.2,644.1 L492.9,656.2 L493.7,653.6 L494.4,661.9 L495.2,663.5 L495.9,662.6 L496.7,670.7 L497.4,669.3 L498.2,675.3 L498.9,677.6 L499.7,672.6 L500.4,681.0 L501.2,675.2 L501.9,677.5 L502.6,676.1 L503.4,681.9 L504.1,692.8 L504.9,687.2 L505.6,687.5 L506.4,692.2 L507.1,688.2 L507.9,687.6 L508.6,688.7 L509.4,677.8 L510.1,680.4 L510.9,680.5 L511.6,680.5 L512.4,683.2 L513.1,677.5 L513.8,680.2 L514.6,680.4 L515.3,679.1 L516.1,680.4 L516.8,685.9 L517.6,684.8 L518.3,681.3 L519.1,676.3 L519.8,681.1 L520.6,685.6 L521.3,682.3 L522.1,683.1 L522.8,684.8 L523.6,690.7 L524.3,691.2 L525.0,690.4 L525.8,690.4 L526.5,687.9 L527.3,686.6 L528.0,689.2 L528.8,682.9 L529.5,683.5 L530.3,683.4 L531.0,683.3 L531.8,687.5 L532.5,688.1 L533.3,680.5 L534.0,682.1 L534.8,680.7 L535.5,685.3 L536.2,678.8 L537.0,684.0 L537.7,685.6 L538.5,682.9 L539.2,687.9 L540.0,687.4 L540.7,687.6 L541.5,691.8 L542.2,693.4 L543.0,690.3 L543.7,691.8 L544.5,696.1 L545.2,694.9 L545.9,692.2 L546.7,688.7 L547.4,689.2 L548.2,686.4 L548.9,689.5 L549.7,685.5 L550.4,687.6 L551.2,687.3 L551.9,687.1 L552.7,683.1 L553.4,687.3 L554.2,686.8 L554.9,686.9 L555.7,689.2 L556.4,691.0 L557.1,693.4 L557.9,694.7 L558.6,686.0 L559.4,693.3 L560.1,685.8 L560.9,687.8 L561.6,689.8 L562.4,683.6 L563.1,683.2 L563.9,685.3 L564.6,685.0 L565.4,677.7 L566.1,684.0 L566.9,685.3 L567.6,681.3 L568.3,686.6 L569.1,680.7 L569.8,680.4 L570.6,672.6 L571.3,683.1 L572.1,680.1 L572.8,680.7 L573.6,675.8 L574.3,686.2 L575.1,687.7 L575.8,687.8 L576.6,678.9 L577.3,688.5 L578.0,688.7 L578.8,678.8 L579.5,685.8 L580.3,690.3 L581.0,693.0 L581.8,684.7 L582.5,693.6 L583.3,690.9 L584.0,690.3 L584.8,690.0 L585.5,691.5 L586.3,691.5 L587.0,686.5 L587.8,693.3 L588.5,688.1 L589.2,685.4 L590.0,688.9 L590.7,691.3 L591.5,693.0 L592.2,691.4 L593.0,690.1 L593.7,690.7 L594.5,686.1 L595.2,694.5 L596.0,692.2 L596.7,693.4 L597.5,693.6 L598.2,694.6 L599.0,693.8 L599.7,688.0 L600.4,693.3 L601.2,695.8 L601.9,695.8 L602.7,690.7 L603.4,685.3 L604.2,688.5 L604.9,682.8 L605.7,689.0 L606.4,689.5 L607.2,685.2 L607.9,691.3 L608.7,685.1 L609.4,691.9 L610.2,689.9 L610.9,691.3 L611.6,683.1 L612.4,682.4 L613.1,684.0 L613.9,681.3 L614.6,681.5 L615.4,681.5 L616.1,687.5 L616.9,681.6 L617.6,684.0 L618.4,686.5 L619.1,691.3 L619.9,690.1 L620.6,688.1 L621.3,693.4 L622.1,696.0 L622.8,692.1 L623.6,693.2 L624.3,692.9 L625.1,692.2 L625.8,690.8 L626.6,686.8 L627.3,690.2 L628.1,691.6 L628.8,687.6 L629.6,691.6 L630.3,690.0 L631.1,686.5 L631.8,683.4 L632.5,688.4 L633.3,678.9 L634.0,680.7 L634.8,680.4 L635.5,690.6 L636.3,685.4 L637.0,688.3 L637.8,688.7 L638.5,686.5 L639.3,688.7 L640.0,690.3 L640.8,688.6 L641.5,680.4 L642.3,690.5 L643.0,690.8 L643.7,687.5 L644.5,691.6 L645.2,683.6 L646.0,679.9 L646.7,688.6 L647.5,689.6 L648.2,681.0 L649.0,684.2 L649.7,686.6 L650.5,681.0 L651.2,685.0 L652.0,689.9 L652.7,687.2 L653.5,687.4 L654.2,685.7 L654.9,684.1 L655.7,689.0 L656.4,686.4 L657.2,685.2 L657.9,685.2 L658.7,690.2 L659.4,687.1 L660.2,686.0 L660.9,688.9 L661.7,693.4 L662.4,695.0 L663.2,687.7 L663.9,691.7 L664.6,692.8 L665.4,690.3 L666.1,687.3 L666.9,685.5 L667.6,683.6 L668.4,685.2 L669.1,683.2 L669.9,684.0 L670.6,683.5 L671.4,685.6 L671.4,716.0 L670.6,714.5 L669.9,713.7 L669.1,711.0 L668.4,711.5 L667.6,714.6 L666.9,712.0 L666.1,716.0 L665.4,714.9 L664.6,718.3 L663.9,723.1 L663.2,722.7 L662.4,722.4 L661.7,720.8 L660.9,713.7 L660.2,712.1 L659.4,720.6 L658.7,722.8 L657.9,712.3 L657.2,715.9 L656.4,716.0 L655.7,715.2 L654.9,714.6 L654.2,715.8 L653.5,717.3 L652.7,715.1 L652.0,718.4 L651.2,717.6 L650.5,711.6 L649.7,721.1 L649.0,713.5 L648.2,711.9 L647.5,718.5 L646.7,722.6 L646.0,711.4 L645.2,714.6 L644.5,722.8 L643.7,718.6 L643.0,717.5 L642.3,715.8 L641.5,715.4 L640.8,716.6 L640.0,718.0 L639.3,715.0 L638.5,714.4 L637.8,715.3 L637.0,713.8 L636.3,714.2 L635.5,717.7 L634.8,709.9 L634.0,716.5 L633.3,711.0 L632.5,713.3 L631.8,717.3 L631.1,712.0 L630.3,716.8 L629.6,718.2 L628.8,715.3 L628.1,723.6 L627.3,717.4 L626.6,715.6 L625.8,720.7 L625.1,718.1 L624.3,720.8 L623.6,717.9 L622.8,720.3 L622.1,721.4 L621.3,724.9 L620.6,717.9 L619.9,717.4 L619.1,716.5 L618.4,715.0 L617.6,716.1 L616.9,710.0 L616.1,714.0 L615.4,718.6 L614.6,713.4 L613.9,710.9 L613.1,715.8 L612.4,710.6 L611.6,714.3 L610.9,718.1 L610.2,715.8 L609.4,719.4 L608.7,722.8 L607.9,723.0 L607.2,715.2 L606.4,719.8 L605.7,717.5 L604.9,718.2 L604.2,720.1 L603.4,718.8 L602.7,716.4 L601.9,721.8 L601.2,722.4 L600.4,720.9 L599.7,716.1 L599.0,720.3 L598.2,724.3 L597.5,719.9 L596.7,721.4 L596.0,721.8 L595.2,720.9 L594.5,721.6 L593.7,718.9 L593.0,721.8 L592.2,721.8 L591.5,718.6 L590.7,719.6 L590.0,721.1 L589.2,722.4 L588.5,716.5 L587.8,724.2 L587.0,716.5 L586.3,720.1 L585.5,718.8 L584.8,721.2 L584.0,720.5 L583.3,719.4 L582.5,718.6 L581.8,714.9 L581.0,722.4 L580.3,715.0 L579.5,714.5 L578.8,708.6 L578.0,719.7 L577.3,715.2 L576.6,705.6 L575.8,721.4 L575.1,715.4 L574.3,716.5 L573.6,706.3 L572.8,711.6 L572.1,707.0 L571.3,712.3 L570.6,703.7 L569.8,706.4 L569.1,714.1 L568.3,715.1 L567.6,707.8 L566.9,714.4 L566.1,712.8 L565.4,716.9 L564.6,714.0 L563.9,714.5 L563.1,712.6 L562.4,715.4 L561.6,718.4 L560.9,712.3 L560.1,717.6 L559.4,718.8 L558.6,716.8 L557.9,723.6 L557.1,718.7 L556.4,716.2 L555.7,716.4 L554.9,714.1 L554.2,716.1 L553.4,718.5 L552.7,715.0 L551.9,713.9 L551.2,719.0 L550.4,715.6 L549.7,713.7 L548.9,717.8 L548.2,714.6 L547.4,721.8 L546.7,718.6 L545.9,721.9 L545.2,721.3 L544.5,721.5 L543.7,720.2 L543.0,719.4 L542.2,720.7 L541.5,721.3 L540.7,712.4 L540.0,718.0 L539.2,714.3 L538.5,715.5 L537.7,713.5 L537.0,712.3 L536.2,712.0 L535.5,713.2 L534.8,715.2 L534.0,714.3 L533.3,713.1 L532.5,713.5 L531.8,717.9 L531.0,713.5 L530.3,713.7 L529.5,712.3 L528.8,715.0 L528.0,714.5 L527.3,713.6 L526.5,717.2 L525.8,719.3 L525.0,716.5 L524.3,716.2 L523.6,722.4 L522.8,718.1 L522.1,714.6 L521.3,712.2 L520.6,712.4 L519.8,709.4 L519.1,706.3 L518.3,710.8 L517.6,711.1 L516.8,714.0 L516.1,716.7 L515.3,710.0 L514.6,709.0 L513.8,705.3 L513.1,705.8 L512.4,711.9 L511.6,708.2 L510.9,707.0 L510.1,709.3 L509.4,715.3 L508.6,717.2 L507.9,715.4 L507.1,722.9 L506.4,718.0 L505.6,719.0 L504.9,713.6 L504.1,722.5 L503.4,709.4 L502.6,709.9 L501.9,703.4 L501.2,704.7 L500.4,708.6 L499.7,708.9 L498.9,709.5 L498.2,708.4 L497.4,702.8 L496.7,705.1 L495.9,702.6 L495.2,704.6 L494.4,701.1 L493.7,693.2 L492.9,694.4 L492.2,685.5 L491.5,682.9 L490.7,676.8 L490.0,675.7 L489.2,661.2 L488.5,674.5 L487.7,690.3 L487.0,714.4 L486.2,727.8 L485.5,746.3 L484.7,759.3Z" fill="#619CFF" fill-opacity="0.065"/>
<path d="M484.7,730.8 L485.5,719.7 L486.2,700.7 L487.0,681.1 L487.7,657.7 L488.5,643.7 L489.2,624.6 L490.0,638.2 L490.7,639.0 L491.5,643.7 L492.2,647.7 L492.9,658.9 L493.7,659.0 L494.4,667.7 L495.2,667.8 L495.9,671.3 L496.7,673.0 L497.4,674.3 L498.2,680.4 L498.9,681.9 L499.7,678.3 L500.4,683.9 L501.2,680.4 L501.9,680.7 L502.6,679.5 L503.4,685.4 L504.1,695.5 L504.9,689.1 L505.6,694.5 L506.4,692.7 L507.1,697.6 L507.9,690.9 L508.6,690.1 L509.4,686.4 L510.1,681.7 L510.9,685.1 L511.6,681.0 L512.4,685.8 L513.1,682.2 L513.8,681.6 L514.6,683.6 L515.3,682.7 L516.1,684.5 L516.8,687.4 L517.6,689.1 L518.3,685.8 L519.1,679.6 L519.8,686.5 L520.6,686.3 L521.3,682.8 L522.1,687.5 L522.8,690.9 L523.6,693.4 L524.3,694.5 L525.0,690.8 L525.8,690.2 L526.5,693.6 L527.3,688.2 L528.0,690.9 L528.8,683.8 L529.5,686.2 L530.3,686.5 L531.0,689.8 L531.8,687.6 L532.5,689.4 L533.3,688.9 L534.0,690.3 L534.8,685.9 L535.5,685.2 L536.2,685.4 L537.0,683.2 L537.7,691.3 L538.5,687.1 L539.2,690.2 L540.0,690.3 L540.7,690.0 L541.5,695.5 L542.2,695.4 L543.0,690.6 L543.7,695.4 L544.5,697.3 L545.2,695.8 L545.9,695.9 L546.7,691.7 L547.4,694.0 L548.2,690.7 L548.9,690.7 L549.7,690.7 L550.4,690.6 L551.2,690.5 L551.9,690.9 L552.7,684.9 L553.4,691.9 L554.2,691.8 L554.9,688.5 L555.7,693.7 L556.4,694.1 L557.1,695.5 L557.9,696.6 L558.6,691.8 L559.4,692.0 L560.1,692.6 L560.9,685.1 L561.6,686.0 L562.4,687.0 L563.1,684.4 L563.9,684.2 L564.6,687.5 L565.4,683.5 L566.1,686.8 L566.9,686.5 L567.6,683.3 L568.3,688.4 L569.1,682.2 L569.8,677.7 L570.6,677.4 L571.3,681.8 L572.1,681.3 L572.8,685.1 L573.6,683.7 L574.3,688.7 L575.1,691.8 L575.8,688.8 L576.6,683.7 L577.3,692.4 L578.0,690.7 L578.8,685.8 L579.5,690.7 L580.3,692.3 L581.0,694.9 L581.8,692.8 L582.5,695.6 L583.3,693.0 L584.0,696.3 L584.8,691.5 L585.5,695.4 L586.3,694.9 L587.0,690.2 L587.8,695.7 L588.5,688.6 L589.2,690.0 L590.0,694.7 L590.7,693.9 L591.5,696.2 L592.2,696.7 L593.0,696.1 L593.7,693.2 L594.5,690.4 L595.2,696.4 L596.0,696.9 L596.7,695.9 L597.5,694.1 L598.2,698.8 L599.0,694.3 L599.7,693.5 L600.4,697.9 L601.2,694.8 L601.9,698.0 L602.7,692.8 L603.4,694.2 L604.2,693.8 L604.9,692.3 L605.7,691.5 L606.4,694.0 L607.2,691.3 L607.9,695.1 L608.7,691.9 L609.4,696.0 L610.2,690.3 L610.9,692.0 L611.6,688.0 L612.4,686.7 L613.1,688.5 L613.9,682.1 L614.6,684.9 L615.4,685.9 L616.1,690.3 L616.9,684.8 L617.6,688.7 L618.4,692.0 L619.1,690.2 L619.9,694.1 L620.6,691.1 L621.3,699.7 L622.1,698.6 L622.8,697.0 L623.6,695.7 L624.3,697.6 L625.1,692.9 L625.8,693.8 L626.6,687.8 L627.3,692.0 L628.1,694.7 L628.8,690.6 L629.6,692.3 L630.3,691.7 L631.1,689.7 L631.8,681.8 L632.5,689.1 L633.3,687.9 L634.0,685.9 L634.8,684.9 L635.5,693.6 L636.3,689.3 L637.0,690.9 L637.8,688.0 L638.5,687.9 L639.3,689.2 L640.0,692.5 L640.8,691.6 L641.5,684.4 L642.3,692.4 L643.0,693.1 L643.7,693.5 L644.5,690.7 L645.2,687.2 L646.0,683.7 L646.7,698.0 L647.5,694.3 L648.2,688.1 L649.0,688.8 L649.7,690.1 L650.5,689.2 L651.2,690.9 L652.0,694.4 L652.7,690.3 L653.5,686.9 L654.2,690.7 L654.9,683.7 L655.7,690.7 L656.4,691.1 L657.2,689.0 L657.9,688.6 L658.7,695.9 L659.4,692.3 L660.2,684.6 L660.9,691.3 L661.7,695.3 L662.4,692.3 L663.2,692.1 L663.9,693.5 L664.6,693.1 L665.4,693.3 L666.1,689.3 L666.9,685.4 L667.6,688.5 L668.4,688.7 L669.1,686.2 L669.9,687.0 L670.6,691.7 L671.4,690.6 L671.4,712.5 L670.6,710.9 L669.9,708.6 L669.1,708.8 L668.4,710.7 L667.6,715.6 L666.9,711.4 L666.1,710.3 L665.4,712.9 L664.6,717.2 L663.9,713.9 L663.2,712.2 L662.4,719.9 L661.7,716.2 L660.9,711.3 L660.2,709.4 L659.4,713.8 L658.7,717.3 L657.9,709.1 L657.2,709.9 L656.4,710.5 L655.7,710.4 L654.9,710.0 L654.2,713.3 L653.5,710.7 L652.7,714.5 L652.0,716.0 L651.2,712.1 L650.5,708.3 L649.7,714.0 L649.0,712.9 L648.2,709.6 L647.5,715.4 L646.7,719.3 L646.0,707.0 L645.2,715.3 L644.5,717.9 L643.7,714.7 L643.0,714.8 L642.3,713.7 L641.5,706.6 L640.8,712.8 L640.0,716.3 L639.3,711.3 L638.5,712.9 L637.8,711.1 L637.0,709.9 L636.3,710.8 L635.5,714.1 L634.8,706.6 L634.0,709.8 L633.3,706.7 L632.5,711.4 L631.8,706.9 L631.1,710.2 L630.3,716.6 L629.6,715.4 L628.8,712.8 L628.1,717.2 L627.3,715.9 L626.6,715.8 L625.8,715.8 L625.1,714.5 L624.3,717.5 L623.6,715.1 L622.8,717.1 L622.1,719.5 L621.3,719.2 L620.6,718.3 L619.9,717.7 L619.1,713.9 L618.4,711.4 L617.6,712.7 L616.9,707.4 L616.1,713.1 L615.4,714.4 L614.6,708.4 L613.9,707.6 L613.1,711.5 L612.4,707.9 L611.6,708.8 L610.9,717.6 L610.2,713.0 L609.4,716.8 L608.7,710.9 L607.9,716.3 L607.2,714.6 L606.4,716.3 L605.7,712.5 L604.9,713.5 L604.2,716.1 L603.4,715.1 L602.7,714.1 L601.9,719.9 L601.2,720.3 L600.4,717.7 L599.7,715.0 L599.0,716.7 L598.2,722.6 L597.5,716.7 L596.7,717.4 L596.0,717.2 L595.2,719.2 L594.5,713.0 L593.7,720.5 L593.0,724.7 L592.2,717.6 L591.5,715.5 L590.7,715.3 L590.0,724.1 L589.2,713.5 L588.5,711.5 L587.8,717.3 L587.0,712.7 L586.3,716.8 L585.5,715.1 L584.8,715.1 L584.0,715.8 L583.3,716.2 L582.5,717.9 L581.8,713.3 L581.0,721.8 L580.3,712.1 L579.5,709.6 L578.8,705.6 L578.0,716.7 L577.3,713.2 L576.6,708.7 L575.8,713.5 L575.1,717.2 L574.3,710.0 L573.6,704.4 L572.8,708.9 L572.1,703.6 L571.3,707.1 L570.6,701.1 L569.8,703.0 L569.1,702.9 L568.3,712.6 L567.6,705.3 L566.9,715.2 L566.1,708.3 L565.4,706.2 L564.6,711.6 L563.9,711.0 L563.1,712.8 L562.4,709.5 L561.6,714.8 L560.9,710.3 L560.1,714.5 L559.4,720.7 L558.6,712.7 L557.9,716.1 L557.1,718.8 L556.4,714.4 L555.7,713.2 L554.9,710.8 L554.2,713.9 L553.4,711.7 L552.7,709.7 L551.9,711.5 L551.2,714.9 L550.4,711.6 L549.7,715.8 L548.9,714.2 L548.2,710.2 L547.4,714.2 L546.7,712.9 L545.9,715.2 L545.2,718.3 L544.5,721.0 L543.7,717.7 L543.0,714.4 L542.2,718.4 L541.5,717.6 L540.7,714.7 L540.0,710.0 L539.2,711.9 L538.5,714.0 L537.7,710.9 L537.0,707.0 L536.2,704.3 L535.5,710.3 L534.8,707.3 L534.0,713.7 L533.3,709.0 L532.5,714.8 L531.8,711.0 L531.0,710.0 L530.3,707.3 L529.5,708.1 L528.8,710.1 L528.0,712.0 L527.3,714.7 L526.5,719.3 L525.8,717.1 L525.0,713.2 L524.3,713.4 L523.6,712.7 L522.8,711.4 L522.1,711.8 L521.3,708.3 L520.6,708.5 L519.8,707.9 L519.1,703.9 L518.3,710.2 L517.6,710.3 L516.8,708.8 L516.1,709.3 L515.3,706.6 L514.6,707.0 L513.8,703.1 L513.1,702.8 L512.4,709.1 L511.6,707.3 L510.9,706.6 L510.1,708.1 L509.4,707.4 L508.6,713.2 L507.9,712.0 L507.1,720.0 L506.4,714.7 L505.6,713.9 L504.9,712.2 L504.1,714.6 L503.4,707.0 L502.6,704.3 L501.9,702.0 L501.2,700.9 L500.4,708.3 L499.7,701.7 L498.9,704.5 L498.2,707.4 L497.4,700.0 L496.7,699.0 L495.9,699.0 L495.2,696.0 L494.4,699.8 L493.7,689.9 L492.9,691.1 L492.2,678.3 L491.5,673.7 L490.7,675.9 L490.0,671.0 L489.2,658.6 L488.5,674.4 L487.7,684.0 L487.0,707.8 L486.2,723.6 L485.5,742.8 L484.7,753.5Z" fill="#619CFF" fill-opacity="0.12"/>
<path d="M67.3,143.6 L68.1,145.4 L68.8,137.6 L69.6,130.3 L70.3,128.5 L71.1,123.2 L71.8,128.1 L72.6,137.7 L73.3,134.1 L74.1,134.1 L74.8,137.8 L75.5,135.8 L76.3,140.0 L77.0,143.0 L77.8,151.6 L78.5,156.3 L79.3,144.6 L80.0,143.3 L80.8,132.5 L81.5,130.3 L82.3,122.8 L83.0,124.5 L83.8,118.6 L84.5,125.2 L85.2,125.0 L86.0,121.2 L86.7,106.3 L87.5,117.2 L88.2,122.6 L89.0,127.9 L89.7,117.1 L90.5,117.2 L91.2,120.5 L92.0,126.0 L92.7,139.7 L93.5,135.0 L94.2,134.4 L95.0,133.9 L95.7,124.3 L96.4,121.3 L97.2,117.3 L97.9,112.5 L98.7,102.8 L99.4,103.6 L100.2,102.2 L100.9,87.9 L101.7,103.4 L102.4,105.2 L103.2,105.1 L103.9,118.6 L104.7,117.2 L105.4,111.0 L106.2,116.2 L106.9,116.8 L107.6,113.8 L108.4,119.9 L109.1,119.9 L109.9,126.7 L110.6,133.8 L111.4,128.4 L112.1,136.6 L112.9,137.6 L113.6,144.5 L114.4,133.3 L115.1,128.2 L115.9,129.7 L116.6,138.0 L117.4,142.4 L118.1,134.8 L118.8,138.9 L119.6,146.8 L120.3,135.6 L121.1,141.4 L121.8,142.5 L122.6,154.3 L123.3,157.4 L124.1,143.8 L124.8,133.2 L125.6,127.0 L126.3,127.0 L127.1,113.2 L127.8,118.7 L128.5,125.0 L129.3,122.1 L130.0,120.0 L130.8,117.0 L131.5,129.4 L132.3,135.7 L133.0,145.7 L133.8,136.0 L134.5,124.5 L135.3,122.0 L136.0,115.9 L136.8,119.9 L137.5,112.0 L138.3,115.1 L139.0,113.9 L139.7,126.1 L140.5,119.9 L141.2,120.8 L142.0,127.3 L142.7,121.7 L143.5,123.1 L144.2,128.1 L145.0,111.4 L145.7,108.5 L146.5,116.2 L147.2,124.2 L148.0,127.7 L148.7,123.0 L149.5,121.2 L150.2,114.0 L150.9,108.4 L151.7,114.6 L152.4,118.4 L153.2,117.4 L153.9,124.6 L154.7,122.3 L155.4,133.7 L156.2,135.6 L156.9,140.4 L157.7,140.5 L158.4,144.3 L159.2,136.1 L159.9,132.2 L160.7,131.5 L161.4,113.6 L162.1,118.9 L162.9,104.7 L163.6,113.9 L164.4,105.2 L165.1,117.6 L165.9,118.6 L166.6,115.1 L167.4,121.7 L168.1,118.1 L168.9,107.5 L169.6,106.6 L170.4,107.0 L171.1,104.3 L171.8,112.6 L172.6,105.6 L173.3,109.5 L174.1,114.5 L174.8,121.8 L175.6,121.6 L176.3,136.3 L177.1,133.6 L177.8,141.7 L178.6,140.6 L179.3,139.7 L180.1,142.1 L180.8,143.3 L181.6,148.4 L182.3,144.7 L183.0,140.9 L183.8,131.9 L184.5,131.5 L185.3,136.5 L186.0,121.8 L186.8,116.1 L187.5,121.4 L188.3,124.0 L189.0,114.7 L189.8,120.8 L190.5,121.7 L191.3,109.1 L192.0,111.5 L192.8,112.6 L193.5,119.2 L194.2,122.4 L195.0,119.0 L195.7,105.5 L196.5,96.9 L197.2,91.3 L198.0,90.4 L198.7,100.3 L199.5,95.8 L200.2,102.6 L201.0,104.8 L201.7,109.3 L202.5,115.6 L203.2,124.7 L203.9,110.2 L204.7,101.3 L205.4,94.5 L206.2,96.3 L206.9,100.1 L207.7,104.4 L208.4,107.7 L209.2,110.3 L209.9,127.6 L210.7,130.3 L211.4,124.2 L212.2,125.6 L212.9,124.5 L213.7,122.4 L214.4,119.5 L215.1,110.2 L215.9,118.8 L216.6,110.7 L217.4,124.1 L218.1,122.8 L218.9,123.4 L219.6,125.2 L220.4,127.5 L221.1,120.9 L221.9,123.6 L222.6,135.2 L223.4,129.0 L224.1,133.7 L224.9,137.2 L225.6,127.1 L226.3,126.8 L227.1,139.0 L227.8,137.3 L228.6,135.3 L229.3,135.6 L230.1,133.8 L230.8,133.6 L231.6,140.3 L232.3,134.7 L233.1,128.7 L233.8,137.1 L234.6,132.7 L235.3,133.3 L236.1,124.0 L236.8,123.4 L237.5,119.6 L238.3,118.8 L239.0,122.6 L239.8,123.2 L240.5,132.0 L241.3,134.1 L242.0,138.6 L242.8,123.5 L243.5,134.7 L244.3,131.0 L245.0,130.9 L245.8,124.6 L246.5,126.5 L247.2,130.0 L248.0,122.8 L248.7,122.9 L249.5,118.9 L250.2,124.4 L251.0,117.2 L251.7,113.6 L252.5,129.7 L253.2,133.5 L254.0,135.9" fill="none" stroke="#e06f88" stroke-width="0.9" stroke-opacity="0.8" stroke-linejoin="round"/>
<path d="M276.0,205.7 L276.8,206.6 L277.5,207.8 L278.3,195.9 L279.0,200.2 L279.8,190.8 L280.5,189.8 L281.3,188.8 L282.0,189.7 L282.8,190.3 L283.5,190.2 L284.2,176.9 L285.0,194.1 L285.7,188.5 L286.5,185.9 L287.2,179.0 L288.0,180.7 L288.7,185.9 L289.5,187.3 L290.2,177.5 L291.0,189.6 L291.7,199.7 L292.5,170.8 L293.2,185.5 L293.9,181.2 L294.7,179.3 L295.4,188.4 L296.2,175.6 L296.9,185.8 L297.7,194.4 L298.4,187.5 L299.2,187.3 L299.9,186.1 L300.7,177.8 L301.4,184.5 L302.2,165.4 L302.9,171.2 L303.7,157.3 L304.4,167.6 L305.1,162.1 L305.9,155.9 L306.6,176.9 L307.4,178.0 L308.1,184.4 L308.9,191.6 L309.6,170.8 L310.4,166.5 L311.1,177.8 L311.9,171.3 L312.6,179.9 L313.4,173.6 L314.1,168.1 L314.9,174.9 L315.6,184.1 L316.3,184.3 L317.1,181.6 L317.8,182.8 L318.6,183.0 L319.3,180.2 L320.1,191.3 L320.8,175.7 L321.6,164.1 L322.3,168.7 L323.1,178.0 L323.8,181.4 L324.6,180.1 L325.3,181.6 L326.1,184.7 L326.8,172.0 L327.5,171.9 L328.3,181.0 L329.0,176.2 L329.8,183.1 L330.5,190.4 L331.3,190.6 L332.0,189.2 L332.8,203.6 L333.5,197.5 L334.3,194.7 L335.0,205.3 L335.8,206.5 L336.5,202.1 L337.2,209.1 L338.0,198.7 L338.7,180.3 L339.5,180.6 L340.2,173.4 L341.0,173.9 L341.7,168.9 L342.5,177.4 L343.2,180.6 L344.0,183.0 L344.7,177.7 L345.5,189.9 L346.2,180.6 L347.0,188.1 L347.7,197.3 L348.4,187.9 L349.2,189.3 L349.9,199.7 L350.7,193.5 L351.4,195.3 L352.2,199.3 L352.9,204.1 L353.7,187.2 L354.4,198.1 L355.2,197.8 L355.9,197.6 L356.7,197.0 L357.4,196.8 L358.2,202.5 L358.9,196.4 L359.6,200.8 L360.4,201.6 L361.1,192.5 L361.9,194.9 L362.6,200.8 L363.4,190.8 L364.1,182.5 L364.9,183.7 L365.6,177.0 L366.4,182.4 L367.1,182.4 L367.9,171.2 L368.6,176.7 L369.4,188.7 L370.1,182.9 L370.8,189.8 L371.6,182.8 L372.3,180.9 L373.1,180.6 L373.8,192.8 L374.6,176.6 L375.3,174.7 L376.1,172.7 L376.8,173.0 L377.6,176.7 L378.3,176.8 L379.1,189.4 L379.8,181.7 L380.5,190.4 L381.3,184.9 L382.0,187.6 L382.8,176.8 L383.5,186.1 L384.3,188.3 L385.0,189.0 L385.8,178.6 L386.5,196.8 L387.3,190.9 L388.0,191.7 L388.8,192.9 L389.5,194.2 L390.3,199.9 L391.0,192.0 L391.7,196.2 L392.5,203.3 L393.2,202.8 L394.0,198.0 L394.7,197.9 L395.5,195.6 L396.2,201.0 L397.0,208.5 L397.7,198.1 L398.5,212.9 L399.2,208.7 L400.0,199.9 L400.7,207.0 L401.5,194.3 L402.2,193.0 L402.9,194.7 L403.7,199.0 L404.4,198.9 L405.2,197.6 L405.9,200.4 L406.7,186.1 L407.4,198.7 L408.2,186.4 L408.9,192.5 L409.7,194.2 L410.4,191.0 L411.2,189.5 L411.9,191.2 L412.6,195.6 L413.4,198.3 L414.1,196.7 L414.9,185.4 L415.6,183.2 L416.4,180.0 L417.1,185.2 L417.9,170.6 L418.6,187.4 L419.4,176.8 L420.1,173.2 L420.9,179.6 L421.6,185.1 L422.4,184.1 L423.1,189.5 L423.8,184.9 L424.6,191.7 L425.3,193.8 L426.1,188.1 L426.8,198.2 L427.6,192.0 L428.3,192.8 L429.1,188.9 L429.8,191.9 L430.6,196.1 L431.3,182.2 L432.1,191.5 L432.8,188.2 L433.6,186.7 L434.3,171.5 L435.0,183.4 L435.8,186.5 L436.5,176.1 L437.3,177.4 L438.0,164.3 L438.8,191.3 L439.5,194.3 L440.3,211.2 L441.0,196.9 L441.8,211.0 L442.5,205.7 L443.3,212.9 L444.0,203.1 L444.8,206.4 L445.5,221.7 L446.2,203.3 L447.0,203.0 L447.7,206.1 L448.5,203.2 L449.2,216.0 L450.0,217.9 L450.7,204.2 L451.5,197.8 L452.2,212.4 L453.0,213.0 L453.7,212.7 L454.5,216.3 L455.2,205.5 L455.9,210.5 L456.7,205.5 L457.4,206.4 L458.2,221.0 L458.9,212.9 L459.7,230.5 L460.4,219.3 L461.2,215.2 L461.9,224.4 L462.7,230.3" fill="none" stroke="#22a346" stroke-width="0.9" stroke-opacity="0.85" stroke-linejoin="round"/>
<path d="M276.0,212.7 L276.8,224.7 L277.5,229.5 L278.3,223.4 L279.0,229.6 L279.8,221.4 L280.5,225.3 L281.3,225.0 L282.0,221.2 L282.8,204.2 L283.5,214.2 L284.2,215.0 L285.0,200.3 L285.7,196.2 L286.5,205.2 L287.2,200.4 L288.0,193.3 L288.7,212.2 L289.5,207.4 L290.2,201.6 L291.0,213.5 L291.7,199.7 L292.5,195.8 L293.2,202.7 L293.9,198.6 L294.7,201.8 L295.4,209.2 L296.2,206.6 L296.9,208.6 L297.7,222.1 L298.4,213.6 L299.2,209.4 L299.9,204.6 L300.7,200.9 L301.4,205.8 L302.2,196.6 L302.9,204.5 L303.7,188.8 L304.4,195.8 L305.1,195.1 L305.9,204.9 L306.6,212.9 L307.4,214.1 L308.1,198.1 L308.9,197.9 L309.6,193.3 L310.4,191.8 L311.1,189.7 L311.9,198.1 L312.6,188.8 L313.4,199.4 L314.1,197.9 L314.9,193.9 L315.6,191.7 L316.3,191.1 L317.1,210.5 L317.8,194.1 L318.6,208.6 L319.3,200.0 L320.1,192.7 L320.8,185.9 L321.6,199.7 L322.3,207.1 L323.1,196.8 L323.8,204.4 L324.6,210.7 L325.3,205.4 L326.1,212.6 L326.8,197.1 L327.5,201.1 L328.3,189.7 L329.0,206.5 L329.8,190.5 L330.5,182.1 L331.3,192.9 L332.0,191.0 L332.8,200.4 L333.5,182.0 L334.3,177.7 L335.0,176.1 L335.8,176.2 L336.5,164.5 L337.2,178.0 L338.0,181.8 L338.7,182.4 L339.5,185.5 L340.2,188.3 L341.0,186.4 L341.7,202.6 L342.5,190.4 L343.2,206.3 L344.0,206.2 L344.7,201.7 L345.5,199.1 L346.2,202.3 L347.0,206.4 L347.7,208.0 L348.4,208.9 L349.2,215.8 L349.9,210.5 L350.7,215.8 L351.4,207.7 L352.2,222.3 L352.9,221.7 L353.7,223.0 L354.4,238.0 L355.2,234.7 L355.9,212.2 L356.7,224.0 L357.4,212.1 L358.2,222.7 L358.9,227.6 L359.6,208.9 L360.4,209.5 L361.1,207.0 L361.9,209.1 L362.6,209.4 L363.4,212.5 L364.1,199.0 L364.9,213.3 L365.6,198.6 L366.4,204.3 L367.1,207.7 L367.9,204.1 L368.6,195.7 L369.4,197.7 L370.1,200.3 L370.8,203.5 L371.6,212.3 L372.3,200.2 L373.1,212.0 L373.8,214.1 L374.6,214.0 L375.3,211.8 L376.1,216.0 L376.8,208.3 L377.6,207.9 L378.3,204.8 L379.1,210.5 L379.8,189.0 L380.5,204.6 L381.3,194.7 L382.0,194.3 L382.8,189.3 L383.5,183.4 L384.3,192.9 L385.0,192.4 L385.8,201.1 L386.5,191.9 L387.3,210.4 L388.0,204.6 L388.8,202.4 L389.5,199.9 L390.3,201.1 L391.0,200.9 L391.7,205.6 L392.5,209.5 L393.2,209.2 L394.0,203.1 L394.7,211.3 L395.5,208.6 L396.2,213.4 L397.0,221.4 L397.7,213.6 L398.5,207.9 L399.2,201.2 L400.0,203.3 L400.7,202.7 L401.5,217.0 L402.2,209.4 L402.9,213.1 L403.7,208.2 L404.4,210.3 L405.2,216.5 L405.9,204.1 L406.7,206.6 L407.4,204.0 L408.2,213.0 L408.9,202.5 L409.7,201.9 L410.4,200.9 L411.2,200.8 L411.9,210.8 L412.6,221.0 L413.4,200.4 L414.1,209.7 L414.9,205.8 L415.6,197.6 L416.4,200.9 L417.1,199.9 L417.9,197.3 L418.6,212.5 L419.4,192.3 L420.1,205.4 L420.9,205.4 L421.6,201.1 L422.4,206.1 L423.1,211.1 L423.8,205.5 L424.6,205.9 L425.3,206.3 L426.1,191.4 L426.8,209.8 L427.6,213.7 L428.3,205.4 L429.1,204.8 L429.8,188.7 L430.6,192.8 L431.3,185.4 L432.1,183.8 L432.8,191.1 L433.6,183.5 L434.3,188.6 L435.0,180.7 L435.8,192.9 L436.5,197.7 L437.3,196.2 L438.0,199.1 L438.8,215.7 L439.5,200.6 L440.3,202.5 L441.0,204.4 L441.8,216.9 L442.5,222.7 L443.3,214.1 L444.0,208.4 L444.8,210.3 L445.5,219.6 L446.2,208.6 L447.0,220.9 L447.7,219.7 L448.5,210.8 L449.2,214.4 L450.0,213.2 L450.7,215.7 L451.5,197.9 L452.2,207.6 L453.0,196.8 L453.7,190.7 L454.5,194.3 L455.2,192.8 L455.9,187.9 L456.7,184.1 L457.4,187.2 L458.2,203.8 L458.9,207.7 L459.7,202.2 L460.4,206.1 L461.2,198.2 L461.9,201.4 L462.7,203.2" fill="none" stroke="#5b8fe8" stroke-width="0.9" stroke-opacity="0.85" stroke-linejoin="round"/>
<path d="M484.7,283.8 L485.5,287.7 L486.2,279.2 L487.0,292.6 L487.7,306.6 L488.5,307.0 L489.2,306.0 L490.0,310.1 L490.7,294.7 L491.5,302.1 L492.2,304.4 L492.9,301.8 L493.7,290.3 L494.4,295.8 L495.2,297.6 L495.9,282.4 L496.7,287.8 L497.4,274.8 L498.2,270.6 L498.9,282.0 L499.7,276.3 L500.4,276.0 L501.2,271.6 L501.9,271.9 L502.6,276.7 L503.4,281.5 L504.1,269.8 L504.9,261.8 L505.6,275.5 L506.4,270.1 L507.1,269.4 L507.9,264.4 L508.6,277.4 L509.4,265.7 L510.1,270.3 L510.9,259.1 L511.6,266.2 L512.4,265.9 L513.1,270.6 L513.8,272.8 L514.6,265.8 L515.3,276.7 L516.1,259.9 L516.8,262.5 L517.6,265.2 L518.3,255.5 L519.1,263.0 L519.8,261.6 L520.6,254.2 L521.3,265.0 L522.1,253.0 L522.8,253.1 L523.6,245.4 L524.3,240.1 L525.0,244.8 L525.8,246.7 L526.5,248.6 L527.3,258.1 L528.0,241.8 L528.8,250.0 L529.5,244.9 L530.3,261.8 L531.0,250.9 L531.8,250.2 L532.5,248.3 L533.3,260.0 L534.0,253.1 L534.8,257.0 L535.5,243.9 L536.2,262.8 L537.0,258.2 L537.7,259.4 L538.5,265.0 L539.2,258.7 L540.0,260.5 L540.7,266.6 L541.5,265.1 L542.2,259.8 L543.0,260.9 L543.7,257.5 L544.5,265.3 L545.2,266.5 L545.9,262.0 L546.7,273.3 L547.4,253.7 L548.2,260.6 L548.9,269.9 L549.7,257.0 L550.4,251.4 L551.2,269.5 L551.9,266.5 L552.7,259.1 L553.4,268.3 L554.2,257.2 L554.9,253.5 L555.7,259.5 L556.4,257.2 L557.1,252.4 L557.9,255.5 L558.6,252.4 L559.4,260.2 L560.1,260.9 L560.9,266.5 L561.6,261.0 L562.4,257.1 L563.1,255.8 L563.9,261.2 L564.6,270.2 L565.4,266.7 L566.1,257.9 L566.9,266.3 L567.6,254.0 L568.3,264.7 L569.1,255.5 L569.8,261.2 L570.6,259.7 L571.3,255.4 L572.1,259.2 L572.8,252.5 L573.6,257.4 L574.3,263.7 L575.1,280.5 L575.8,263.3 L576.6,260.8 L577.3,255.7 L578.0,267.6 L578.8,254.7 L579.5,261.7 L580.3,270.5 L581.0,263.8 L581.8,280.8 L582.5,280.0 L583.3,272.3 L584.0,274.1 L584.8,269.2 L585.5,267.3 L586.3,276.9 L587.0,277.2 L587.8,275.4 L588.5,273.5 L589.2,268.3 L590.0,272.6 L590.7,263.3 L591.5,272.9 L592.2,283.3 L593.0,284.0 L593.7,274.8 L594.5,271.1 L595.2,277.4 L596.0,276.7 L596.7,257.8 L597.5,265.0 L598.2,269.4 L599.0,275.6 L599.7,265.1 L600.4,270.5 L601.2,264.1 L601.9,277.1 L602.7,266.5 L603.4,265.9 L604.2,266.6 L604.9,276.6 L605.7,275.7 L606.4,266.9 L607.2,273.6 L607.9,267.6 L608.7,273.2 L609.4,271.9 L610.2,271.4 L610.9,275.2 L611.6,275.3 L612.4,282.9 L613.1,284.3 L613.9,276.4 L614.6,268.9 L615.4,279.1 L616.1,264.1 L616.9,266.4 L617.6,282.2 L618.4,283.0 L619.1,287.0 L619.9,281.1 L620.6,276.6 L621.3,281.4 L622.1,287.4 L622.8,281.4 L623.6,282.4 L624.3,279.5 L625.1,281.6 L625.8,293.6 L626.6,292.4 L627.3,284.7 L628.1,285.9 L628.8,290.3 L629.6,296.7 L630.3,288.5 L631.1,295.0 L631.8,285.3 L632.5,291.1 L633.3,301.0 L634.0,302.5 L634.8,289.1 L635.5,289.8 L636.3,297.0 L637.0,289.8 L637.8,286.9 L638.5,290.9 L639.3,288.3 L640.0,294.7 L640.8,294.6 L641.5,287.9 L642.3,291.9 L643.0,292.7 L643.7,286.1 L644.5,289.0 L645.2,301.0 L646.0,286.1 L646.7,297.7 L647.5,290.6 L648.2,285.1 L649.0,286.5 L649.7,284.1 L650.5,286.2 L651.2,275.2 L652.0,276.3 L652.7,277.6 L653.5,290.7 L654.2,286.4 L654.9,277.5 L655.7,281.8 L656.4,280.1 L657.2,284.5 L657.9,285.5 L658.7,298.3 L659.4,274.9 L660.2,290.7 L660.9,286.3 L661.7,281.3 L662.4,285.6 L663.2,285.5 L663.9,289.9 L664.6,295.0 L665.4,280.1 L666.1,294.4 L666.9,284.7 L667.6,295.7 L668.4,291.7 L669.1,296.1 L669.9,293.6 L670.6,296.5 L671.4,291.0" fill="none" stroke="#22a346" stroke-width="0.9" stroke-opacity="0.85" stroke-linejoin="round"/>
<path d="M484.7,278.5 L485.5,280.1 L486.2,282.3 L487.0,283.2 L487.7,278.4 L488.5,279.9 L489.2,279.8 L490.0,262.7 L490.7,270.6 L491.5,270.7 L492.2,279.8 L492.9,290.0 L493.7,285.1 L494.4,274.6 L495.2,276.9 L495.9,281.8 L496.7,269.5 L497.4,269.0 L498.2,267.9 L498.9,253.9 L499.7,270.1 L500.4,269.0 L501.2,271.4 L501.9,264.9 L502.6,269.2 L503.4,273.0 L504.1,281.1 L504.9,284.2 L505.6,286.5 L506.4,296.5 L507.1,295.6 L507.9,286.8 L508.6,289.2 L509.4,303.3 L510.1,294.4 L510.9,303.8 L511.6,302.7 L512.4,288.6 L513.1,290.2 L513.8,291.8 L514.6,286.0 L515.3,284.8 L516.1,288.0 L516.8,295.3 L517.6,288.1 L518.3,289.7 L519.1,289.3 L519.8,284.7 L520.6,299.3 L521.3,276.6 L522.1,284.5 L522.8,289.4 L523.6,277.6 L524.3,287.5 L525.0,290.3 L525.8,277.8 L526.5,282.6 L527.3,274.3 L528.0,280.6 L528.8,277.3 L529.5,278.5 L530.3,286.3 L531.0,281.8 L531.8,288.5 L532.5,286.1 L533.3,276.8 L534.0,284.5 L534.8,285.9 L535.5,275.0 L536.2,291.2 L537.0,283.2 L537.7,283.6 L538.5,274.2 L539.2,278.7 L540.0,279.4 L540.7,275.5 L541.5,279.4 L542.2,267.9 L543.0,287.2 L543.7,272.6 L544.5,268.1 L545.2,276.6 L545.9,279.1 L546.7,287.8 L547.4,279.1 L548.2,286.1 L548.9,278.5 L549.7,294.8 L550.4,283.6 L551.2,289.3 L551.9,271.6 L552.7,280.5 L553.4,273.1 L554.2,283.7 L554.9,284.4 L555.7,271.4 L556.4,271.8 L557.1,271.4 L557.9,269.0 L558.6,273.5 L559.4,273.6 L560.1,272.5 L560.9,281.9 L561.6,286.6 L562.4,279.9 L563.1,288.5 L563.9,294.8 L564.6,295.7 L565.4,291.0 L566.1,297.4 L566.9,293.2 L567.6,289.6 L568.3,285.0 L569.1,297.8 L569.8,297.2 L570.6,284.9 L571.3,288.7 L572.1,297.5 L572.8,288.4 L573.6,295.0 L574.3,293.2 L575.1,289.4 L575.8,293.0 L576.6,286.3 L577.3,293.5 L578.0,285.8 L578.8,306.7 L579.5,299.8 L580.3,295.8 L581.0,288.8 L581.8,291.2 L582.5,291.3 L583.3,289.5 L584.0,288.2 L584.8,281.0 L585.5,289.2 L586.3,285.6 L587.0,283.5 L587.8,284.8 L588.5,293.6 L589.2,295.6 L590.0,281.8 L590.7,298.8 L591.5,299.5 L592.2,290.4 L593.0,292.3 L593.7,297.1 L594.5,305.2 L595.2,300.4 L596.0,298.6 L596.7,306.5 L597.5,289.1 L598.2,297.3 L599.0,300.1 L599.7,293.1 L600.4,293.1 L601.2,290.3 L601.9,289.9 L602.7,285.7 L603.4,277.8 L604.2,279.3 L604.9,278.5 L605.7,285.2 L606.4,284.2 L607.2,275.2 L607.9,265.3 L608.7,263.1 L609.4,269.0 L610.2,282.6 L610.9,281.6 L611.6,285.1 L612.4,284.0 L613.1,293.4 L613.9,292.0 L614.6,290.5 L615.4,291.1 L616.1,298.3 L616.9,287.0 L617.6,295.7 L618.4,294.2 L619.1,288.8 L619.9,294.2 L620.6,289.2 L621.3,287.4 L622.1,293.7 L622.8,292.8 L623.6,302.1 L624.3,301.5 L625.1,306.5 L625.8,310.6 L626.6,290.7 L627.3,309.2 L628.1,296.6 L628.8,307.4 L629.6,301.4 L630.3,306.0 L631.1,310.8 L631.8,293.5 L632.5,303.4 L633.3,299.5 L634.0,287.0 L634.8,298.4 L635.5,293.0 L636.3,287.7 L637.0,284.8 L637.8,305.4 L638.5,283.6 L639.3,271.5 L640.0,275.5 L640.8,278.9 L641.5,280.3 L642.3,282.3 L643.0,277.1 L643.7,284.0 L644.5,276.1 L645.2,268.1 L646.0,271.5 L646.7,276.5 L647.5,285.3 L648.2,286.1 L649.0,283.3 L649.7,285.5 L650.5,286.9 L651.2,297.8 L652.0,284.4 L652.7,292.1 L653.5,294.8 L654.2,286.4 L654.9,293.4 L655.7,294.5 L656.4,293.0 L657.2,299.3 L657.9,301.9 L658.7,301.0 L659.4,292.7 L660.2,294.3 L660.9,306.3 L661.7,288.9 L662.4,296.7 L663.2,301.2 L663.9,297.4 L664.6,301.1 L665.4,299.4 L666.1,303.6 L666.9,307.4 L667.6,298.4 L668.4,300.7 L669.1,300.0 L669.9,300.1 L670.6,302.8 L671.4,296.0" fill="none" stroke="#5b8fe8" stroke-width="0.9" stroke-opacity="0.85" stroke-linejoin="round"/>
<path d="M67.3,663.4 L68.1,639.8 L68.8,619.1 L69.6,593.9 L70.3,573.4 L71.1,549.4 L71.8,526.7 L72.6,506.8 L73.3,505.0 L74.1,512.8 L74.8,523.9 L75.5,532.6 L76.3,541.9 L77.0,541.9 L77.8,546.4 L78.5,549.4 L79.3,549.3 L80.0,552.3 L80.8,548.6 L81.5,550.9 L82.3,551.6 L83.0,556.1 L83.8,555.5 L84.5,559.6 L85.2,563.5 L86.0,563.8 L86.7,570.9 L87.5,573.1 L88.2,578.2 L89.0,581.3 L89.7,585.2 L90.5,587.5 L91.2,592.0 L92.0,587.6 L92.7,584.1 L93.5,582.1 L94.2,582.9 L95.0,582.5 L95.7,578.6 L96.4,576.2 L97.2,578.0 L97.9,578.1 L98.7,576.8 L99.4,574.4 L100.2,569.6 L100.9,571.4 L101.7,572.3 L102.4,573.2 L103.2,571.1 L103.9,577.4 L104.7,576.8 L105.4,585.6 L106.2,585.4 L106.9,584.6 L107.6,589.9 L108.4,588.5 L109.1,593.1 L109.9,590.5 L110.6,587.5 L111.4,589.5 L112.1,585.7 L112.9,586.6 L113.6,581.3 L114.4,576.6 L115.1,574.9 L115.9,580.4 L116.6,578.9 L117.4,575.8 L118.1,581.9 L118.8,580.6 L119.6,580.6 L120.3,582.0 L121.1,583.7 L121.8,588.8 L122.6,588.7 L123.3,587.6 L124.1,595.3 L124.8,592.3 L125.6,587.0 L126.3,587.5 L127.1,586.5 L127.8,588.8 L128.5,590.4 L129.3,592.0 L130.0,591.4 L130.8,591.0 L131.5,593.2 L132.3,592.7 L133.0,596.7 L133.8,590.2 L134.5,590.7 L135.3,588.0 L136.0,584.2 L136.8,586.4 L137.5,583.1 L138.3,580.8 L139.0,580.7 L139.7,581.6 L140.5,578.0 L141.2,582.2 L142.0,581.9 L142.7,580.5 L143.5,582.8 L144.2,581.7 L145.0,578.9 L145.7,576.7 L146.5,579.2 L147.2,579.4 L148.0,576.1 L148.7,578.1 L149.5,578.0 L150.2,578.1 L150.9,575.8 L151.7,580.1 L152.4,577.7 L153.2,578.2 L153.9,581.9 L154.7,580.8 L155.4,583.5 L156.2,586.7 L156.9,587.5 L157.7,589.6 L158.4,591.8 L159.2,592.3 L159.9,596.5 L160.7,593.3 L161.4,594.0 L162.1,590.1 L162.9,591.1 L163.6,591.6 L164.4,597.0 L165.1,597.2 L165.9,598.0 L166.6,596.6 L167.4,593.2 L168.1,588.4 L168.9,584.1 L169.6,587.9 L170.4,595.5 L171.1,598.3 L171.8,599.2 L172.6,601.0 L173.3,599.2 L174.1,602.0 L174.8,594.6 L175.6,595.1 L176.3,599.6 L177.1,598.1 L177.8,602.2 L178.6,598.3 L179.3,593.1 L180.1,588.3 L180.8,587.3 L181.6,582.8 L182.3,587.6 L183.0,584.2 L183.8,582.2 L184.5,582.2 L185.3,586.5 L186.0,589.6 L186.8,586.1 L187.5,588.5 L188.3,587.2 L189.0,592.6 L189.8,591.2 L190.5,594.6 L191.3,590.4 L192.0,589.7 L192.8,590.7 L193.5,595.0 L194.2,592.3 L195.0,598.0 L195.7,595.5 L196.5,592.2 L197.2,588.5 L198.0,589.2 L198.7,589.4 L199.5,585.7 L200.2,586.2 L201.0,587.7 L201.7,585.0 L202.5,588.0 L203.2,588.4 L203.9,592.1 L204.7,592.8 L205.4,592.9 L206.2,593.9 L206.9,592.8 L207.7,594.2 L208.4,594.9 L209.2,598.3 L209.9,597.7 L210.7,597.4 L211.4,601.7 L212.2,601.2 L212.9,599.9 L213.7,600.1 L214.4,601.6 L215.1,600.2 L215.9,597.1 L216.6,598.6 L217.4,597.3 L218.1,597.7 L218.9,591.3 L219.6,591.2 L220.4,587.6 L221.1,582.0 L221.9,587.1 L222.6,590.1 L223.4,590.5 L224.1,599.3 L224.9,592.6 L225.6,590.2 L226.3,589.4 L227.1,589.1 L227.8,587.9 L228.6,585.6 L229.3,586.9 L230.1,584.4 L230.8,588.3 L231.6,593.4 L232.3,590.4 L233.1,586.7 L233.8,587.9 L234.6,585.0 L235.3,584.8 L236.1,583.0 L236.8,582.2 L237.5,583.4 L238.3,585.9 L239.0,585.2 L239.8,580.2 L240.5,585.4 L241.3,583.9 L242.0,582.1 L242.8,581.0 L243.5,576.4 L244.3,579.4 L245.0,584.5 L245.8,588.7 L246.5,589.9 L247.2,590.5 L248.0,590.4 L248.7,595.4 L249.5,595.5 L250.2,594.6 L251.0,593.4 L251.7,594.7 L252.5,590.8 L253.2,593.7 L254.0,591.9" fill="none" stroke="#e06f88" stroke-width="0.9" stroke-opacity="0.85" stroke-linejoin="round"/>
<path d="M276.0,704.8 L276.8,709.4 L277.5,689.5 L278.3,668.9 L279.0,650.5 L279.8,629.8 L280.5,607.2 L281.3,595.8 L282.0,588.9 L282.8,593.3 L283.5,601.8 L284.2,604.7 L285.0,608.1 L285.7,604.5 L286.5,606.5 L287.2,606.2 L288.0,608.6 L288.7,609.2 L289.5,611.6 L290.2,617.7 L291.0,613.5 L291.7,615.6 L292.5,617.1 L293.2,620.7 L293.9,622.2 L294.7,625.2 L295.4,620.7 L296.2,625.5 L296.9,625.5 L297.7,625.9 L298.4,627.7 L299.2,623.1 L299.9,628.7 L300.7,627.9 L301.4,622.6 L302.2,624.8 L302.9,626.6 L303.7,621.0 L304.4,622.5 L305.1,620.0 L305.9,617.5 L306.6,615.0 L307.4,615.6 L308.1,618.8 L308.9,618.2 L309.6,614.1 L310.4,618.5 L311.1,617.5 L311.9,619.3 L312.6,623.7 L313.4,623.1 L314.1,624.1 L314.9,632.2 L315.6,625.2 L316.3,630.9 L317.1,627.0 L317.8,631.9 L318.6,629.4 L319.3,626.6 L320.1,619.6 L320.8,624.0 L321.6,622.3 L322.3,620.9 L323.1,624.0 L323.8,628.1 L324.6,625.3 L325.3,629.4 L326.1,627.3 L326.8,632.3 L327.5,634.3 L328.3,640.8 L329.0,639.6 L329.8,640.3 L330.5,642.6 L331.3,636.3 L332.0,641.2 L332.8,637.4 L333.5,637.0 L334.3,639.6 L335.0,637.2 L335.8,639.0 L336.5,631.8 L337.2,634.5 L338.0,631.7 L338.7,632.5 L339.5,629.0 L340.2,635.5 L341.0,633.3 L341.7,629.9 L342.5,628.8 L343.2,629.8 L344.0,635.0 L344.7,631.3 L345.5,630.6 L346.2,632.2 L347.0,631.4 L347.7,631.6 L348.4,633.6 L349.2,631.9 L349.9,633.1 L350.7,627.0 L351.4,629.5 L352.2,628.1 L352.9,629.7 L353.7,630.0 L354.4,628.9 L355.2,630.3 L355.9,634.4 L356.7,632.2 L357.4,631.4 L358.2,635.9 L358.9,636.3 L359.6,633.2 L360.4,634.0 L361.1,631.7 L361.9,632.8 L362.6,636.0 L363.4,634.8 L364.1,631.9 L364.9,630.1 L365.6,626.9 L366.4,632.2 L367.1,632.8 L367.9,635.9 L368.6,638.0 L369.4,635.0 L370.1,635.8 L370.8,632.1 L371.6,637.2 L372.3,637.3 L373.1,638.3 L373.8,637.1 L374.6,636.6 L375.3,639.8 L376.1,635.5 L376.8,639.6 L377.6,641.1 L378.3,636.0 L379.1,634.8 L379.8,637.9 L380.5,638.4 L381.3,640.0 L382.0,639.6 L382.8,635.2 L383.5,636.9 L384.3,638.4 L385.0,635.2 L385.8,635.8 L386.5,634.8 L387.3,640.2 L388.0,643.3 L388.8,636.1 L389.5,640.5 L390.3,640.8 L391.0,637.3 L391.7,638.2 L392.5,636.2 L393.2,635.8 L394.0,636.6 L394.7,636.5 L395.5,634.8 L396.2,636.6 L397.0,633.9 L397.7,629.0 L398.5,634.1 L399.2,632.6 L400.0,627.9 L400.7,631.7 L401.5,628.4 L402.2,627.9 L402.9,632.9 L403.7,623.0 L404.4,625.2 L405.2,631.1 L405.9,629.9 L406.7,629.7 L407.4,636.2 L408.2,634.0 L408.9,630.5 L409.7,633.2 L410.4,636.8 L411.2,638.5 L411.9,629.6 L412.6,634.5 L413.4,633.0 L414.1,629.2 L414.9,632.7 L415.6,628.5 L416.4,631.1 L417.1,635.7 L417.9,633.3 L418.6,632.6 L419.4,631.3 L420.1,629.7 L420.9,629.9 L421.6,623.3 L422.4,623.9 L423.1,627.1 L423.8,623.7 L424.6,625.3 L425.3,630.3 L426.1,630.9 L426.8,626.3 L427.6,625.8 L428.3,630.5 L429.1,630.5 L429.8,627.8 L430.6,630.5 L431.3,630.5 L432.1,630.1 L432.8,638.2 L433.6,634.7 L434.3,634.0 L435.0,634.8 L435.8,639.9 L436.5,636.2 L437.3,632.3 L438.0,635.6 L438.8,635.3 L439.5,634.5 L440.3,636.4 L441.0,636.4 L441.8,636.1 L442.5,636.0 L443.3,638.9 L444.0,632.6 L444.8,637.4 L445.5,636.2 L446.2,636.0 L447.0,631.0 L447.7,640.3 L448.5,633.7 L449.2,635.8 L450.0,640.3 L450.7,638.1 L451.5,638.6 L452.2,634.0 L453.0,637.2 L453.7,638.8 L454.5,640.1 L455.2,637.8 L455.9,637.8 L456.7,637.6 L457.4,634.6 L458.2,634.5 L458.9,640.3 L459.7,635.2 L460.4,640.9 L461.2,640.5 L461.9,645.8 L462.7,641.1" fill="none" stroke="#22a346" stroke-width="0.9" stroke-opacity="0.85" stroke-linejoin="round"/>
<path d="M276.0,707.6 L276.8,706.2 L277.5,694.7 L278.3,673.0 L279.0,652.0 L279.8,635.8 L280.5,613.6 L281.3,587.9 L282.0,594.6 L282.8,601.4 L283.5,614.6 L284.2,617.8 L285.0,619.1 L285.7,622.1 L286.5,623.4 L287.2,619.7 L288.0,624.3 L288.7,625.2 L289.5,631.4 L290.2,636.3 L291.0,630.1 L291.7,631.1 L292.5,630.9 L293.2,630.4 L293.9,629.0 L294.7,629.6 L295.4,632.9 L296.2,628.0 L296.9,628.0 L297.7,628.0 L298.4,636.1 L299.2,637.2 L299.9,629.9 L300.7,628.8 L301.4,631.7 L302.2,633.8 L302.9,633.4 L303.7,631.6 L304.4,632.0 L305.1,630.4 L305.9,627.9 L306.6,633.1 L307.4,630.8 L308.1,629.9 L308.9,634.8 L309.6,634.3 L310.4,640.0 L311.1,641.3 L311.9,634.9 L312.6,639.7 L313.4,641.2 L314.1,636.0 L314.9,633.0 L315.6,633.4 L316.3,633.7 L317.1,630.5 L317.8,631.1 L318.6,633.4 L319.3,634.1 L320.1,634.8 L320.8,630.7 L321.6,636.4 L322.3,634.4 L323.1,633.6 L323.8,630.1 L324.6,635.6 L325.3,631.8 L326.1,637.6 L326.8,637.8 L327.5,633.9 L328.3,636.3 L329.0,642.9 L329.8,643.6 L330.5,643.3 L331.3,644.4 L332.0,644.7 L332.8,642.4 L333.5,643.6 L334.3,642.4 L335.0,643.6 L335.8,646.9 L336.5,644.1 L337.2,647.4 L338.0,645.1 L338.7,645.4 L339.5,645.2 L340.2,645.1 L341.0,644.1 L341.7,644.2 L342.5,642.4 L343.2,645.0 L344.0,641.6 L344.7,644.1 L345.5,647.2 L346.2,647.5 L347.0,650.8 L347.7,648.7 L348.4,654.6 L349.2,648.1 L349.9,649.2 L350.7,647.1 L351.4,647.6 L352.2,642.7 L352.9,640.2 L353.7,637.9 L354.4,641.6 L355.2,639.9 L355.9,643.1 L356.7,644.5 L357.4,635.1 L358.2,637.5 L358.9,640.8 L359.6,643.4 L360.4,640.8 L361.1,640.5 L361.9,641.4 L362.6,641.8 L363.4,645.3 L364.1,642.7 L364.9,637.8 L365.6,639.5 L366.4,639.9 L367.1,637.4 L367.9,638.7 L368.6,639.0 L369.4,639.2 L370.1,642.5 L370.8,640.5 L371.6,639.7 L372.3,641.7 L373.1,644.0 L373.8,648.2 L374.6,643.6 L375.3,645.2 L376.1,643.3 L376.8,635.8 L377.6,642.0 L378.3,637.9 L379.1,637.2 L379.8,637.9 L380.5,644.8 L381.3,636.5 L382.0,639.5 L382.8,644.4 L383.5,643.1 L384.3,637.1 L385.0,641.0 L385.8,641.1 L386.5,643.0 L387.3,646.4 L388.0,643.6 L388.8,644.6 L389.5,648.7 L390.3,639.4 L391.0,641.6 L391.7,643.6 L392.5,639.6 L393.2,640.5 L394.0,637.9 L394.7,640.9 L395.5,639.7 L396.2,642.6 L397.0,642.7 L397.7,640.0 L398.5,639.0 L399.2,640.6 L400.0,640.1 L400.7,637.7 L401.5,644.6 L402.2,642.6 L402.9,643.9 L403.7,637.3 L404.4,642.3 L405.2,645.1 L405.9,641.2 L406.7,635.4 L407.4,637.9 L408.2,637.5 L408.9,638.2 L409.7,637.6 L410.4,640.2 L411.2,638.6 L411.9,640.5 L412.6,638.7 L413.4,641.4 L414.1,644.7 L414.9,641.7 L415.6,645.1 L416.4,642.2 L417.1,644.7 L417.9,645.6 L418.6,648.1 L419.4,642.4 L420.1,647.0 L420.9,640.0 L421.6,642.0 L422.4,643.6 L423.1,642.2 L423.8,638.0 L424.6,636.9 L425.3,642.4 L426.1,636.8 L426.8,642.0 L427.6,640.2 L428.3,641.7 L429.1,647.1 L429.8,644.9 L430.6,643.6 L431.3,639.0 L432.1,643.1 L432.8,643.0 L433.6,643.0 L434.3,646.3 L435.0,639.0 L435.8,644.4 L436.5,645.5 L437.3,643.6 L438.0,649.6 L438.8,642.1 L439.5,644.5 L440.3,644.2 L441.0,637.7 L441.8,639.3 L442.5,639.6 L443.3,643.4 L444.0,643.8 L444.8,642.8 L445.5,642.2 L446.2,636.6 L447.0,642.7 L447.7,640.4 L448.5,643.2 L449.2,642.9 L450.0,644.8 L450.7,640.2 L451.5,640.5 L452.2,636.1 L453.0,639.2 L453.7,635.2 L454.5,639.8 L455.2,633.3 L455.9,633.3 L456.7,629.4 L457.4,627.6 L458.2,628.2 L458.9,624.2 L459.7,627.3 L460.4,625.4 L461.2,633.2 L461.9,629.8 L462.7,634.1" fill="none" stroke="#5b8fe8" stroke-width="0.9" stroke-opacity="0.85" stroke-linejoin="round"/>
<path d="M484.7,741.2 L485.5,731.7 L486.2,725.7 L487.0,717.1 L487.7,712.4 L488.5,707.7 L489.2,701.3 L490.0,691.6 L490.7,686.6 L491.5,683.1 L492.2,680.1 L492.9,683.5 L493.7,677.4 L494.4,680.2 L495.2,681.9 L495.9,679.3 L496.7,677.6 L497.4,679.1 L498.2,683.8 L498.9,680.5 L499.7,683.0 L500.4,679.5 L501.2,682.2 L501.9,678.1 L502.6,678.4 L503.4,681.8 L504.1,683.0 L504.9,686.6 L505.6,677.8 L506.4,681.9 L507.1,682.9 L507.9,680.9 L508.6,675.8 L509.4,677.3 L510.1,679.6 L510.9,683.7 L511.6,684.6 L512.4,684.7 L513.1,685.7 L513.8,682.6 L514.6,683.4 L515.3,683.8 L516.1,683.4 L516.8,686.7 L517.6,689.3 L518.3,694.6 L519.1,689.7 L519.8,687.2 L520.6,689.8 L521.3,685.1 L522.1,688.5 L522.8,691.0 L523.6,690.6 L524.3,689.3 L525.0,686.8 L525.8,683.6 L526.5,686.1 L527.3,684.8 L528.0,688.4 L528.8,685.5 L529.5,686.8 L530.3,681.1 L531.0,688.7 L531.8,685.1 L532.5,684.1 L533.3,684.7 L534.0,685.2 L534.8,688.3 L535.5,686.6 L536.2,681.4 L537.0,685.1 L537.7,686.6 L538.5,684.3 L539.2,686.6 L540.0,684.0 L540.7,687.1 L541.5,684.2 L542.2,690.2 L543.0,690.3 L543.7,690.4 L544.5,689.5 L545.2,694.7 L545.9,692.0 L546.7,694.9 L547.4,696.3 L548.2,696.4 L548.9,695.9 L549.7,692.5 L550.4,691.5 L551.2,692.6 L551.9,693.9 L552.7,695.2 L553.4,695.2 L554.2,698.1 L554.9,695.3 L555.7,700.6 L556.4,699.2 L557.1,696.4 L557.9,699.2 L558.6,689.7 L559.4,699.2 L560.1,697.0 L560.9,696.7 L561.6,691.2 L562.4,701.1 L563.1,694.4 L563.9,693.9 L564.6,696.3 L565.4,692.4 L566.1,691.0 L566.9,695.1 L567.6,692.3 L568.3,696.4 L569.1,694.8 L569.8,696.7 L570.6,691.9 L571.3,697.2 L572.1,694.6 L572.8,698.8 L573.6,693.2 L574.3,699.0 L575.1,695.2 L575.8,695.3 L576.6,691.9 L577.3,694.8 L578.0,694.2 L578.8,690.4 L579.5,689.4 L580.3,690.7 L581.0,695.7 L581.8,692.1 L582.5,694.0 L583.3,691.8 L584.0,691.1 L584.8,690.2 L585.5,688.3 L586.3,691.5 L587.0,688.5 L587.8,688.2 L588.5,684.3 L589.2,688.7 L590.0,685.5 L590.7,684.3 L591.5,686.9 L592.2,680.2 L593.0,681.9 L593.7,684.4 L594.5,688.3 L595.2,685.7 L596.0,690.8 L596.7,692.3 L597.5,691.0 L598.2,688.4 L599.0,688.9 L599.7,694.8 L600.4,694.0 L601.2,691.5 L601.9,693.1 L602.7,693.8 L603.4,694.0 L604.2,695.8 L604.9,702.2 L605.7,694.8 L606.4,695.9 L607.2,693.0 L607.9,692.7 L608.7,692.2 L609.4,692.7 L610.2,691.8 L610.9,693.1 L611.6,692.6 L612.4,689.4 L613.1,696.3 L613.9,687.9 L614.6,690.8 L615.4,694.1 L616.1,686.5 L616.9,691.0 L617.6,691.7 L618.4,690.4 L619.1,686.5 L619.9,695.1 L620.6,693.7 L621.3,693.5 L622.1,698.9 L622.8,693.0 L623.6,697.3 L624.3,692.7 L625.1,693.9 L625.8,688.5 L626.6,690.1 L627.3,689.0 L628.1,689.5 L628.8,691.9 L629.6,691.9 L630.3,693.6 L631.1,696.6 L631.8,694.4 L632.5,691.1 L633.3,696.4 L634.0,697.7 L634.8,699.0 L635.5,698.1 L636.3,697.6 L637.0,694.1 L637.8,696.3 L638.5,690.5 L639.3,697.9 L640.0,695.3 L640.8,695.9 L641.5,693.3 L642.3,695.1 L643.0,692.6 L643.7,695.5 L644.5,690.4 L645.2,695.3 L646.0,693.4 L646.7,696.9 L647.5,692.6 L648.2,692.9 L649.0,694.2 L649.7,694.7 L650.5,695.5 L651.2,692.8 L652.0,692.1 L652.7,692.9 L653.5,693.3 L654.2,690.8 L654.9,691.1 L655.7,693.4 L656.4,696.9 L657.2,695.8 L657.9,698.9 L658.7,699.9 L659.4,698.2 L660.2,694.5 L660.9,694.5 L661.7,689.6 L662.4,691.4 L663.2,693.8 L663.9,690.3 L664.6,697.3 L665.4,697.2 L666.1,693.4 L666.9,696.0 L667.6,690.4 L668.4,691.4 L669.1,693.4 L669.9,694.5 L670.6,693.6 L671.4,690.9" fill="none" stroke="#22a346" stroke-width="0.9" stroke-opacity="0.85" stroke-linejoin="round"/>
<path d="M484.7,742.6 L485.5,731.3 L486.2,712.0 L487.0,695.5 L487.7,671.3 L488.5,657.5 L489.2,640.4 L490.0,653.9 L490.7,657.6 L491.5,659.4 L492.2,664.0 L492.9,675.6 L493.7,673.8 L494.4,681.1 L495.2,682.2 L495.9,683.8 L496.7,687.1 L497.4,686.8 L498.2,691.6 L498.9,692.6 L499.7,691.6 L500.4,694.5 L501.2,691.2 L501.9,690.5 L502.6,694.5 L503.4,696.8 L504.1,705.4 L504.9,700.6 L505.6,704.5 L506.4,705.5 L507.1,707.9 L507.9,702.2 L508.6,701.4 L509.4,698.0 L510.1,695.2 L510.9,694.2 L511.6,693.4 L512.4,696.7 L513.1,692.5 L513.8,692.7 L514.6,695.1 L515.3,696.5 L516.1,699.9 L516.8,698.9 L517.6,698.8 L518.3,697.9 L519.1,690.3 L519.8,696.1 L520.6,699.5 L521.3,695.3 L522.1,697.4 L522.8,700.3 L523.6,703.5 L524.3,704.0 L525.0,703.4 L525.8,704.6 L526.5,703.7 L527.3,700.1 L528.0,702.1 L528.8,698.4 L529.5,695.8 L530.3,697.4 L531.0,699.7 L531.8,699.9 L532.5,701.2 L533.3,698.6 L534.0,701.0 L534.8,697.5 L535.5,700.1 L536.2,695.1 L537.0,696.8 L537.7,700.3 L538.5,699.2 L539.2,700.4 L540.0,700.8 L540.7,699.8 L541.5,707.7 L542.2,708.3 L543.0,703.9 L543.7,707.8 L544.5,708.8 L545.2,708.9 L545.9,705.3 L546.7,701.4 L547.4,704.9 L548.2,700.6 L548.9,703.4 L549.7,701.5 L550.4,702.1 L551.2,700.7 L551.9,699.9 L552.7,697.5 L553.4,702.6 L554.2,701.8 L554.9,699.8 L555.7,702.8 L556.4,703.8 L557.1,705.6 L557.9,706.9 L558.6,702.8 L559.4,706.7 L560.1,703.5 L560.9,700.1 L561.6,703.9 L562.4,698.9 L563.1,695.8 L563.9,699.2 L564.6,699.2 L565.4,695.7 L566.1,698.8 L566.9,698.9 L567.6,694.7 L568.3,699.9 L569.1,693.3 L569.8,693.9 L570.6,687.3 L571.3,695.4 L572.1,693.3 L572.8,697.0 L573.6,693.0 L574.3,700.7 L575.1,702.2 L575.8,704.2 L576.6,693.2 L577.3,703.1 L578.0,702.6 L578.8,695.4 L579.5,700.4 L580.3,702.6 L581.0,706.4 L581.8,702.7 L582.5,705.8 L583.3,705.9 L584.0,705.5 L584.8,703.0 L585.5,705.6 L586.3,705.7 L587.0,700.7 L587.8,706.4 L588.5,702.2 L589.2,702.9 L590.0,706.6 L590.7,704.6 L591.5,705.6 L592.2,706.6 L593.0,706.5 L593.7,704.4 L594.5,703.5 L595.2,707.2 L596.0,707.5 L596.7,707.0 L597.5,706.0 L598.2,708.1 L599.0,706.1 L599.7,703.1 L600.4,708.1 L601.2,708.9 L601.9,709.6 L602.7,704.2 L603.4,703.5 L604.2,705.0 L604.9,702.4 L605.7,703.1 L606.4,704.5 L607.2,702.1 L607.9,705.1 L608.7,701.4 L609.4,705.1 L610.2,702.3 L610.9,705.1 L611.6,698.1 L612.4,697.9 L613.1,700.6 L613.9,696.2 L614.6,696.6 L615.4,698.8 L616.1,700.1 L616.9,696.9 L617.6,701.4 L618.4,701.4 L619.1,703.5 L619.9,705.2 L620.6,705.0 L621.3,709.2 L622.1,708.4 L622.8,706.2 L623.6,705.5 L624.3,706.9 L625.1,705.4 L625.8,706.3 L626.6,702.8 L627.3,703.2 L628.1,707.3 L628.8,701.8 L629.6,705.2 L630.3,702.8 L631.1,699.3 L631.8,696.8 L632.5,700.9 L633.3,697.6 L634.0,697.5 L634.8,696.2 L635.5,703.6 L636.3,701.2 L637.0,700.9 L637.8,701.7 L638.5,702.0 L639.3,701.9 L640.0,704.4 L640.8,702.0 L641.5,696.5 L642.3,703.6 L643.0,703.5 L643.7,703.1 L644.5,706.8 L645.2,699.6 L646.0,696.1 L646.7,707.1 L647.5,703.9 L648.2,697.8 L649.0,700.3 L649.7,703.0 L650.5,699.1 L651.2,702.0 L652.0,704.9 L652.7,702.6 L653.5,699.9 L654.2,701.1 L654.9,698.2 L655.7,701.2 L656.4,700.2 L657.2,698.7 L657.9,697.6 L658.7,705.7 L659.4,701.8 L660.2,699.4 L660.9,701.1 L661.7,706.4 L662.4,707.1 L663.2,702.1 L663.9,704.2 L664.6,705.8 L665.4,702.6 L666.1,699.6 L666.9,699.6 L667.6,701.3 L668.4,699.0 L669.1,697.0 L669.9,699.0 L670.6,701.4 L671.4,701.2" fill="none" stroke="#5b8fe8" stroke-width="0.9" stroke-opacity="0.85" stroke-linejoin="round"/>
<text x="1.3" y="12.2" font-family="Liberation Sans, sans-serif" font-size="14.4" fill="#000">A</text>
<text x="57.4" y="23.9" font-family="Liberation Sans, sans-serif" font-size="14.95" fill="#000">Mean UG production by generation without environmental effect</text>
<rect x="58.5" y="30.5" width="204.3" height="12.2" fill="#fff" stroke="#8e8e8e" stroke-width="1.4"/>
<text x="160.7" y="41.0" font-family="Liberation Sans, sans-serif" font-size="10.6" fill="#333" text-anchor="middle">0</text>
<rect x="267.2" y="30.5" width="204.3" height="12.2" fill="#fff" stroke="#8e8e8e" stroke-width="1.4"/>
<text x="369.4" y="41.0" font-family="Liberation Sans, sans-serif" font-size="10.6" fill="#333" text-anchor="middle">40</text>
<rect x="475.9" y="30.5" width="204.3" height="12.2" fill="#fff" stroke="#8e8e8e" stroke-width="1.4"/>
<text x="578.0" y="41.0" font-family="Liberation Sans, sans-serif" font-size="10.6" fill="#333" text-anchor="middle">80</text>
<line x1="57.9" y1="43.0" x2="57.9" y2="356.2" stroke="#8a8a8a" stroke-width="1.5"/>
<text x="55.6" y="340.2" font-family="Liberation Sans, sans-serif" font-size="10" fill="#4d4d4d" text-anchor="end">0.010</text>
<text x="55.6" y="247.5" font-family="Liberation Sans, sans-serif" font-size="10" fill="#4d4d4d" text-anchor="end">0.015</text>
<text x="55.6" y="154.8" font-family="Liberation Sans, sans-serif" font-size="10" fill="#4d4d4d" text-anchor="end">0.020</text>
<text x="55.6" y="62.1" font-family="Liberation Sans, sans-serif" font-size="10" fill="#4d4d4d" text-anchor="end">0.025</text>
<line x1="57.3" y1="355.5" x2="263.3" y2="355.5" stroke="#8a8a8a" stroke-width="1.3"/>
<text x="67.3" y="364.6" font-family="Liberation Sans, sans-serif" font-size="10" fill="#4d4d4d" text-anchor="middle">0</text>
<text x="104.7" y="364.6" font-family="Liberation Sans, sans-serif" font-size="10" fill="#4d4d4d" text-anchor="middle">100</text>
<text x="142.0" y="364.6" font-family="Liberation Sans, sans-serif" font-size="10" fill="#4d4d4d" text-anchor="middle">200</text>
<text x="179.3" y="364.6" font-family="Liberation Sans, sans-serif" font-size="10" fill="#4d4d4d" text-anchor="middle">300</text>
<text x="216.6" y="364.6" font-family="Liberation Sans, sans-serif" font-size="10" fill="#4d4d4d" text-anchor="middle">400</text>
<text x="254.0" y="364.6" font-family="Liberation Sans, sans-serif" font-size="10" fill="#4d4d4d" text-anchor="middle">500</text>
<line x1="266.0" y1="355.5" x2="472.0" y2="355.5" stroke="#8a8a8a" stroke-width="1.3"/>
<text x="276.0" y="364.6" font-family="Liberation Sans, sans-serif" font-size="10" fill="#4d4d4d" text-anchor="middle">0</text>
<text x="313.4" y="364.6" font-family="Liberation Sans, sans-serif" font-size="10" fill="#4d4d4d" text-anchor="middle">100</text>
<text x="350.7" y="364.6" font-family="Liberation Sans, sans-serif" font-size="10" fill="#4d4d4d" text-anchor="middle">200</text>
<text x="388.0" y="364.6" font-family="Liberation Sans, sans-serif" font-size="10" fill="#4d4d4d" text-anchor="middle">300</text>
<text x="425.3" y="364.6" font-family="Liberation Sans, sans-serif" font-size="10" fill="#4d4d4d" text-anchor="middle">400</text>
<text x="462.7" y="364.6" font-family="Liberation Sans, sans-serif" font-size="10" fill="#4d4d4d" text-anchor="middle">500</text>
<line x1="474.7" y1="355.5" x2="680.7" y2="355.5" stroke="#8a8a8a" stroke-width="1.3"/>
<text x="484.7" y="364.6" font-family="Liberation Sans, sans-serif" font-size="10" fill="#4d4d4d" text-anchor="middle">0</text>
<text x="522.1" y="364.6" font-family="Liberation Sans, sans-serif" font-size="10" fill="#4d4d4d" text-anchor="middle">100</text>
<text x="559.4" y="364.6" font-family="Liberation Sans, sans-serif" font-size="10" fill="#4d4d4d" text-anchor="middle">200</text>
<text x="596.7" y="364.6" font-family="Liberation Sans, sans-serif" font-size="10" fill="#4d4d4d" text-anchor="middle">300</text>
<text x="634.0" y="364.6" font-family="Liberation Sans, sans-serif" font-size="10" fill="#4d4d4d" text-anchor="middle">400</text>
<text x="671.4" y="364.6" font-family="Liberation Sans, sans-serif" font-size="10" fill="#4d4d4d" text-anchor="middle">500</text>
<text x="369" y="376.4" font-family="Liberation Sans, sans-serif" font-size="12.2" font-weight="bold" fill="#000" text-anchor="middle">Generation</text>
<text transform="translate(20.2,199.0) rotate(-90)" x="0" y="0" font-family="Liberation Sans, sans-serif" font-size="12.3" font-weight="bold" fill="#000" text-anchor="middle">Mean UG production</text>
<rect x="154.0" y="387.2" width="22" height="9" fill="#F8766D" fill-opacity="0.14"/>
<line x1="154.0" y1="391.7" x2="176.0" y2="391.7" stroke="#e06f88" stroke-width="1" stroke-opacity="0.6"/>
<text x="179.2" y="396.0" font-family="Liberation Sans, sans-serif" font-size="12.35" fill="#000">No pleiotropy</text>
<rect x="255.4" y="387.2" width="22" height="9" fill="#00BA38" fill-opacity="0.14"/>
<line x1="255.4" y1="391.7" x2="277.4" y2="391.7" stroke="#22a346" stroke-width="1" stroke-opacity="0.6"/>
<text x="279.9" y="396.0" font-family="Liberation Sans, sans-serif" font-size="12.35" fill="#000">Pleiotropy on all traits</text>
<rect x="403.8" y="387.2" width="22" height="9" fill="#619CFF" fill-opacity="0.14"/>
<line x1="403.8" y1="391.7" x2="425.8" y2="391.7" stroke="#5b8fe8" stroke-width="1" stroke-opacity="0.6"/>
<text x="428.2" y="396.0" font-family="Liberation Sans, sans-serif" font-size="12.35" fill="#000">Pleiotropy on UG production</text>
<text x="369" y="409.2" font-family="Liberation Sans, sans-serif" font-size="10.2" fill="#000" text-anchor="middle">Mean of 100 replicates</text>
<text x="1.3" y="429.4" font-family="Liberation Sans, sans-serif" font-size="14.4" fill="#000">B</text>
<text x="57.4" y="440.9" font-family="Liberation Sans, sans-serif" font-size="14.95" fill="#000">Mean UG production by generation with 0.1 environmental effect</text>
<rect x="58.5" y="447.1" width="204.3" height="12.2" fill="#fff" stroke="#8e8e8e" stroke-width="1.4"/>
<text x="160.7" y="457.6" font-family="Liberation Sans, sans-serif" font-size="10.6" fill="#333" text-anchor="middle">0</text>
<rect x="267.2" y="447.1" width="204.3" height="12.2" fill="#fff" stroke="#8e8e8e" stroke-width="1.4"/>
<text x="369.4" y="457.6" font-family="Liberation Sans, sans-serif" font-size="10.6" fill="#333" text-anchor="middle">40</text>
<rect x="475.9" y="447.1" width="204.3" height="12.2" fill="#fff" stroke="#8e8e8e" stroke-width="1.4"/>
<text x="578.0" y="457.6" font-family="Liberation Sans, sans-serif" font-size="10.6" fill="#333" text-anchor="middle">80</text>
<line x1="57.9" y1="459.6" x2="57.9" y2="772.8" stroke="#8a8a8a" stroke-width="1.5"/>
<text x="55.6" y="775.2" font-family="Liberation Sans, sans-serif" font-size="10" fill="#4d4d4d" text-anchor="end">0.01</text>
<text x="55.6" y="678.5" font-family="Liberation Sans, sans-serif" font-size="10" fill="#4d4d4d" text-anchor="end">0.02</text>
<text x="55.6" y="581.7" font-family="Liberation Sans, sans-serif" font-size="10" fill="#4d4d4d" text-anchor="end">0.03</text>
<text x="55.6" y="484.8" font-family="Liberation Sans, sans-serif" font-size="10" fill="#4d4d4d" text-anchor="end">0.04</text>
<line x1="57.3" y1="772.1" x2="263.3" y2="772.1" stroke="#8a8a8a" stroke-width="1.3"/>
<text x="67.3" y="781.2" font-family="Liberation Sans, sans-serif" font-size="10" fill="#4d4d4d" text-anchor="middle">0</text>
<text x="104.7" y="781.2" font-family="Liberation Sans, sans-serif" font-size="10" fill="#4d4d4d" text-anchor="middle">100</text>
<text x="142.0" y="781.2" font-family="Liberation Sans, sans-serif" font-size="10" fill="#4d4d4d" text-anchor="middle">200</text>
<text x="179.3" y="781.2" font-family="Liberation Sans, sans-serif" font-size="10" fill="#4d4d4d" text-anchor="middle">300</text>
<text x="216.6" y="781.2" font-family="Liberation Sans, sans-serif" font-size="10" fill="#4d4d4d" text-anchor="middle">400</text>
<text x="254.0" y="781.2" font-family="Liberation Sans, sans-serif" font-size="10" fill="#4d4d4d" text-anchor="middle">500</text>
<line x1="266.0" y1="772.1" x2="472.0" y2="772.1" stroke="#8a8a8a" stroke-width="1.3"/>
<text x="276.0" y="781.2" font-family="Liberation Sans, sans-serif" font-size="10" fill="#4d4d4d" text-anchor="middle">0</text>
<text x="313.4" y="781.2" font-family="Liberation Sans, sans-serif" font-size="10" fill="#4d4d4d" text-anchor="middle">100</text>
<text x="350.7" y="781.2" font-family="Liberation Sans, sans-serif" font-size="10" fill="#4d4d4d" text-anchor="middle">200</text>
<text x="388.0" y="781.2" font-family="Liberation Sans, sans-serif" font-size="10" fill="#4d4d4d" text-anchor="middle">300</text>
<text x="425.3" y="781.2" font-family="Liberation Sans, sans-serif" font-size="10" fill="#4d4d4d" text-anchor="middle">400</text>
<text x="462.7" y="781.2" font-family="Liberation Sans, sans-serif" font-size="10" fill="#4d4d4d" text-anchor="middle">500</text>
<line x1="474.7" y1="772.1" x2="680.7" y2="772.1" stroke="#8a8a8a" stroke-width="1.3"/>
<text x="484.7" y="781.2" font-family="Liberation Sans, sans-serif" font-size="10" fill="#4d4d4d" text-anchor="middle">0</text>
<text x="522.1" y="781.2" font-family="Liberation Sans, sans-serif" font-size="10" fill="#4d4d4d" text-anchor="middle">100</text>
<text x="559.4" y="781.2" font-family="Liberation Sans, sans-serif" font-size="10" fill="#4d4d4d" text-anchor="middle">200</text>
<text x="596.7" y="781.2" font-family="Liberation Sans, sans-serif" font-size="10" fill="#4d4d4d" text-anchor="middle">300</text>
<text x="634.0" y="781.2" font-family="Liberation Sans, sans-serif" font-size="10" fill="#4d4d4d" text-anchor="middle">400</text>
<text x="671.4" y="781.2" font-family="Liberation Sans, sans-serif" font-size="10" fill="#4d4d4d" text-anchor="middle">500</text>
<text x="369" y="793.0" font-family="Liberation Sans, sans-serif" font-size="12.2" font-weight="bold" fill="#000" text-anchor="middle">Generation</text>
<text transform="translate(20.2,615.6) rotate(-90)" x="0" y="0" font-family="Liberation Sans, sans-serif" font-size="12.3" font-weight="bold" fill="#000" text-anchor="middle">Mean UG production</text>
<rect x="154.0" y="803.8" width="22" height="9" fill="#F8766D" fill-opacity="0.14"/>
<line x1="154.0" y1="808.3" x2="176.0" y2="808.3" stroke="#e06f88" stroke-width="1" stroke-opacity="0.6"/>
<text x="179.2" y="812.6" font-family="Liberation Sans, sans-serif" font-size="12.35" fill="#000">No pleiotropy</text>
<rect x="255.4" y="803.8" width="22" height="9" fill="#00BA38" fill-opacity="0.14"/>
<line x1="255.4" y1="808.3" x2="277.4" y2="808.3" stroke="#22a346" stroke-width="1" stroke-opacity="0.6"/>
<text x="279.9" y="812.6" font-family="Liberation Sans, sans-serif" font-size="12.35" fill="#000">Pleiotropy on all traits</text>
<rect x="403.8" y="803.8" width="22" height="9" fill="#619CFF" fill-opacity="0.14"/>
<line x1="403.8" y1="808.3" x2="425.8" y2="808.3" stroke="#5b8fe8" stroke-width="1" stroke-opacity="0.6"/>
<text x="428.2" y="812.6" font-family="Liberation Sans, sans-serif" font-size="12.35" fill="#000">Pleiotropy on UG production</text>
<text x="369" y="825.8" font-family="Liberation Sans, sans-serif" font-size="10.2" fill="#000" text-anchor="middle">Mean of 100 replicates</text>
</svg>
</body></html>
